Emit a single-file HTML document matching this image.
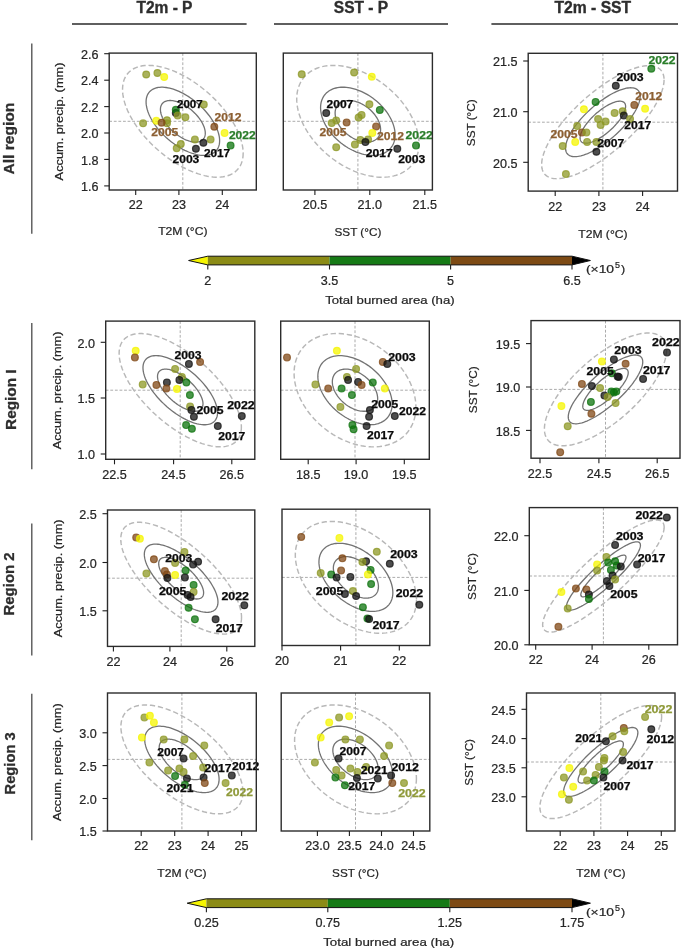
<!DOCTYPE html>
<html><head><meta charset="utf-8"><style>
html,body{margin:0;padding:0;background:#fff;}
svg{display:block;font-family:"Liberation Sans", sans-serif;filter:blur(0.3px);}
</style></head><body>
<svg width="685" height="951" viewBox="0 0 685 951">
<rect width="685" height="951" fill="#fff"/>
<text x="136.4" y="13.3" font-size="16" fill="#2e2e2e" font-weight="bold" textLength="56.1" lengthAdjust="spacingAndGlyphs" stroke="#2e2e2e" stroke-width="0.35">T2m - P</text>
<text x="333.8" y="13.3" font-size="16" fill="#2e2e2e" font-weight="bold" textLength="54.4" lengthAdjust="spacingAndGlyphs" stroke="#2e2e2e" stroke-width="0.35">SST - P</text>
<text x="554.4" y="13.3" font-size="16" fill="#2e2e2e" font-weight="bold" textLength="76.8" lengthAdjust="spacingAndGlyphs" stroke="#2e2e2e" stroke-width="0.35">T2m - SST</text>
<line x1="72.0" y1="24" x2="246.6" y2="24" stroke="#2a2a2a" stroke-width="1.3"/>
<line x1="274.0" y1="24" x2="448.0" y2="24" stroke="#2a2a2a" stroke-width="1.3"/>
<line x1="491.4" y1="24" x2="678.0" y2="24" stroke="#2a2a2a" stroke-width="1.3"/>
<text x="0" y="0" font-size="15.4" fill="#2e2e2e" font-weight="bold" textLength="72.0" lengthAdjust="spacingAndGlyphs" transform="translate(13.8,174.6) rotate(-90)" stroke="#2e2e2e" stroke-width="0.3">All region</text>
<text x="0" y="0" font-size="15.4" fill="#2e2e2e" font-weight="bold" textLength="60.4" lengthAdjust="spacingAndGlyphs" transform="translate(15.7,429.9) rotate(-90)" stroke="#2e2e2e" stroke-width="0.3">Region I</text>
<text x="0" y="0" font-size="15.4" fill="#2e2e2e" font-weight="bold" textLength="63.1" lengthAdjust="spacingAndGlyphs" transform="translate(13.9,615.5) rotate(-90)" stroke="#2e2e2e" stroke-width="0.3">Region 2</text>
<text x="0" y="0" font-size="15.4" fill="#2e2e2e" font-weight="bold" textLength="62.0" lengthAdjust="spacingAndGlyphs" transform="translate(15.4,794.4) rotate(-90)" stroke="#2e2e2e" stroke-width="0.3">Region 3</text>
<line x1="31.8" y1="43.4" x2="31.8" y2="233.7" stroke="#4a4a4a" stroke-width="1.3"/>
<line x1="31.8" y1="323.1" x2="31.8" y2="469.3" stroke="#4a4a4a" stroke-width="1.3"/>
<line x1="31.8" y1="523.6" x2="31.8" y2="655.6" stroke="#4a4a4a" stroke-width="1.3"/>
<line x1="31.8" y1="693.7" x2="31.8" y2="840.3" stroke="#4a4a4a" stroke-width="1.3"/>
<clipPath id="c11"><rect x="109.2" y="53.1" width="147.10" height="136.90"/></clipPath>
<g clip-path="url(#c11)">
<line x1="182.8" y1="53.1" x2="182.8" y2="190.0" stroke="#959595" stroke-width="0.8" stroke-dasharray="2.8,1.8"/>
<line x1="109.2" y1="121.3" x2="256.3" y2="121.3" stroke="#959595" stroke-width="0.8" stroke-dasharray="2.8,1.8"/>
<path d="M243.16,153.18 L243.08,155.54 L242.83,157.81 L242.42,159.97 L241.84,162.03 L241.11,163.98 L240.21,165.82 L239.16,167.53 L237.95,169.11 L236.59,170.56 L235.08,171.88 L233.43,173.06 L231.64,174.10 L229.72,174.99 L227.67,175.74 L225.50,176.33 L223.21,176.78 L220.80,177.07 L218.30,177.21 L215.70,177.20 L213.01,177.03 L210.23,176.71 L207.38,176.24 L204.46,175.62 L201.49,174.85 L198.46,173.93 L195.39,172.87 L192.28,171.67 L189.15,170.33 L186.01,168.85 L182.85,167.25 L179.69,165.52 L176.55,163.67 L173.42,161.70 L170.31,159.62 L167.24,157.43 L164.21,155.15 L161.24,152.77 L158.32,150.31 L155.47,147.77 L152.69,145.16 L150.00,142.48 L147.40,139.74 L144.90,136.95 L142.49,134.12 L140.20,131.25 L138.03,128.36 L135.98,125.44 L134.06,122.52 L132.27,119.59 L130.62,116.67 L129.11,113.76 L127.75,110.87 L126.54,108.01 L125.49,105.18 L124.59,102.40 L123.86,99.67 L123.28,97.00 L122.87,94.40 L122.62,91.87 L122.54,89.42 L122.62,87.06 L122.87,84.79 L123.28,82.63 L123.86,80.57 L124.59,78.62 L125.49,76.78 L126.54,75.07 L127.75,73.49 L129.11,72.04 L130.62,70.72 L132.27,69.54 L134.06,68.50 L135.98,67.61 L138.03,66.86 L140.20,66.27 L142.49,65.82 L144.90,65.53 L147.40,65.39 L150.00,65.40 L152.69,65.57 L155.47,65.89 L158.32,66.36 L161.24,66.98 L164.21,67.75 L167.24,68.67 L170.31,69.73 L173.42,70.93 L176.55,72.27 L179.69,73.75 L182.85,75.35 L186.01,77.08 L189.15,78.93 L192.28,80.90 L195.39,82.98 L198.46,85.17 L201.49,87.45 L204.46,89.83 L207.38,92.29 L210.23,94.83 L213.01,97.44 L215.70,100.12 L218.30,102.86 L220.80,105.65 L223.21,108.48 L225.50,111.35 L227.67,114.24 L229.72,117.16 L231.64,120.08 L233.43,123.01 L235.08,125.93 L236.59,128.84 L237.95,131.73 L239.16,134.59 L240.21,137.42 L241.11,140.20 L241.84,142.93 L242.42,145.60 L242.83,148.20 L243.08,150.73 L243.16,153.18Z" fill="none" stroke="#b8b8b8" stroke-width="1.45" stroke-dasharray="5.3,2.8"/>
<path d="M205.28,133.16 L205.25,134.03 L205.16,134.88 L205.01,135.68 L204.79,136.45 L204.52,137.18 L204.18,137.86 L203.79,138.49 L203.34,139.08 L202.84,139.62 L202.28,140.11 L201.66,140.55 L201.00,140.94 L200.28,141.27 L199.52,141.55 L198.71,141.77 L197.86,141.93 L196.97,142.04 L196.04,142.10 L195.07,142.09 L194.07,142.03 L193.03,141.91 L191.97,141.74 L190.89,141.50 L189.78,141.22 L188.66,140.88 L187.51,140.48 L186.36,140.04 L185.19,139.54 L184.02,138.99 L182.85,138.39 L181.68,137.75 L180.51,137.06 L179.34,136.33 L178.19,135.55 L177.04,134.74 L175.92,133.89 L174.81,133.01 L173.73,132.09 L172.67,131.15 L171.63,130.17 L170.63,129.18 L169.66,128.16 L168.73,127.12 L167.84,126.07 L166.99,125.00 L166.18,123.92 L165.42,122.84 L164.70,121.75 L164.04,120.66 L163.42,119.58 L162.86,118.49 L162.36,117.42 L161.91,116.36 L161.52,115.31 L161.18,114.27 L160.91,113.26 L160.69,112.26 L160.54,111.29 L160.45,110.35 L160.42,109.44 L160.45,108.57 L160.54,107.72 L160.69,106.92 L160.91,106.15 L161.18,105.42 L161.52,104.74 L161.91,104.11 L162.36,103.52 L162.86,102.98 L163.42,102.49 L164.04,102.05 L164.70,101.66 L165.42,101.33 L166.18,101.05 L166.99,100.83 L167.84,100.67 L168.73,100.56 L169.66,100.50 L170.63,100.51 L171.63,100.57 L172.67,100.69 L173.73,100.86 L174.81,101.10 L175.92,101.38 L177.04,101.72 L178.19,102.12 L179.34,102.56 L180.51,103.06 L181.68,103.61 L182.85,104.21 L184.02,104.85 L185.19,105.54 L186.36,106.27 L187.51,107.05 L188.66,107.86 L189.78,108.71 L190.89,109.59 L191.97,110.51 L193.03,111.45 L194.07,112.43 L195.07,113.42 L196.04,114.44 L196.97,115.48 L197.86,116.53 L198.71,117.60 L199.52,118.68 L200.28,119.76 L201.00,120.85 L201.66,121.94 L202.28,123.02 L202.84,124.11 L203.34,125.18 L203.79,126.24 L204.18,127.29 L204.52,128.33 L204.79,129.34 L205.01,130.34 L205.16,131.31 L205.25,132.25 L205.28,133.16Z" fill="none" stroke="#737373" stroke-width="1.3"/>
<path d="M219.62,140.74 L219.57,142.18 L219.42,143.56 L219.17,144.88 L218.82,146.14 L218.37,147.33 L217.83,148.44 L217.18,149.49 L216.45,150.45 L215.62,151.34 L214.70,152.14 L213.69,152.86 L212.60,153.49 L211.43,154.04 L210.18,154.49 L208.85,154.86 L207.46,155.13 L205.99,155.31 L204.47,155.39 L202.88,155.38 L201.24,155.28 L199.55,155.09 L197.81,154.80 L196.03,154.42 L194.21,153.95 L192.37,153.39 L190.50,152.75 L188.60,152.01 L186.69,151.20 L184.77,150.30 L182.85,149.32 L180.93,148.26 L179.01,147.13 L177.10,145.93 L175.20,144.66 L173.33,143.33 L171.49,141.94 L169.67,140.49 L167.89,138.99 L166.15,137.44 L164.46,135.85 L162.82,134.21 L161.23,132.54 L159.71,130.84 L158.24,129.12 L156.85,127.37 L155.52,125.60 L154.27,123.83 L153.10,122.04 L152.01,120.26 L151.00,118.48 L150.08,116.70 L149.25,114.94 L148.52,113.19 L147.87,111.47 L147.33,109.78 L146.88,108.11 L146.53,106.49 L146.28,104.90 L146.13,103.36 L146.07,101.86 L146.13,100.42 L146.28,99.04 L146.53,97.72 L146.88,96.46 L147.33,95.27 L147.87,94.16 L148.52,93.11 L149.25,92.15 L150.08,91.26 L151.00,90.46 L152.01,89.74 L153.10,89.11 L154.27,88.56 L155.52,88.11 L156.85,87.74 L158.24,87.47 L159.71,87.29 L161.23,87.21 L162.82,87.22 L164.46,87.32 L166.15,87.51 L167.89,87.80 L169.67,88.18 L171.49,88.65 L173.33,89.21 L175.20,89.85 L177.10,90.59 L179.01,91.40 L180.93,92.30 L182.85,93.28 L184.77,94.34 L186.69,95.47 L188.60,96.67 L190.50,97.94 L192.37,99.27 L194.21,100.66 L196.03,102.11 L197.81,103.61 L199.55,105.16 L201.24,106.75 L202.88,108.39 L204.47,110.06 L205.99,111.76 L207.46,113.48 L208.85,115.23 L210.18,117.00 L211.43,118.77 L212.60,120.56 L213.69,122.34 L214.70,124.12 L215.62,125.90 L216.45,127.66 L217.18,129.41 L217.83,131.13 L218.37,132.82 L218.82,134.49 L219.17,136.11 L219.42,137.70 L219.57,139.24 L219.62,140.74Z" fill="none" stroke="#737373" stroke-width="1.3"/>
<circle cx="146.2" cy="74.5" r="3.4" fill="#8e9826" fill-opacity="0.75" stroke="#8e9826" stroke-opacity="0.75" stroke-width="1.2"/>
<circle cx="157.4" cy="73.0" r="3.4" fill="#8e9826" fill-opacity="0.75" stroke="#8e9826" stroke-opacity="0.75" stroke-width="1.2"/>
<circle cx="164.2" cy="77.0" r="3.4" fill="#f6f600" fill-opacity="0.75" stroke="#f6f600" stroke-opacity="0.75" stroke-width="1.2"/>
<circle cx="203.8" cy="104.5" r="3.4" fill="#8e9826" fill-opacity="0.75" stroke="#8e9826" stroke-opacity="0.75" stroke-width="1.2"/>
<circle cx="175.8" cy="112.9" r="3.4" fill="#111111" fill-opacity="0.75" stroke="#111111" stroke-opacity="0.75" stroke-width="1.2"/>
<circle cx="175.8" cy="109.8" r="3.4" fill="#0c730c" fill-opacity="0.75" stroke="#0c730c" stroke-opacity="0.75" stroke-width="1.2"/>
<circle cx="177.7" cy="115.4" r="3.4" fill="#8e9826" fill-opacity="0.75" stroke="#8e9826" stroke-opacity="0.75" stroke-width="1.2"/>
<circle cx="185.4" cy="117.3" r="3.4" fill="#8e9826" fill-opacity="0.75" stroke="#8e9826" stroke-opacity="0.75" stroke-width="1.2"/>
<circle cx="143.1" cy="123.3" r="3.4" fill="#8e9826" fill-opacity="0.75" stroke="#8e9826" stroke-opacity="0.75" stroke-width="1.2"/>
<circle cx="156.3" cy="120.8" r="3.4" fill="#f6f600" fill-opacity="0.75" stroke="#f6f600" stroke-opacity="0.75" stroke-width="1.2"/>
<circle cx="167.0" cy="120.2" r="3.4" fill="#8e9826" fill-opacity="0.75" stroke="#8e9826" stroke-opacity="0.75" stroke-width="1.2"/>
<circle cx="167.0" cy="123.3" r="3.4" fill="#8e9826" fill-opacity="0.75" stroke="#8e9826" stroke-opacity="0.75" stroke-width="1.2"/>
<circle cx="161.6" cy="122.7" r="3.4" fill="#804816" fill-opacity="0.75" stroke="#804816" stroke-opacity="0.75" stroke-width="1.2"/>
<circle cx="214.3" cy="126.7" r="3.4" fill="#804816" fill-opacity="0.75" stroke="#804816" stroke-opacity="0.75" stroke-width="1.2"/>
<circle cx="224.6" cy="132.9" r="3.4" fill="#f6f600" fill-opacity="0.75" stroke="#f6f600" stroke-opacity="0.75" stroke-width="1.2"/>
<circle cx="194.9" cy="139.6" r="3.4" fill="#8e9826" fill-opacity="0.75" stroke="#8e9826" stroke-opacity="0.75" stroke-width="1.2"/>
<circle cx="210.6" cy="139.6" r="3.4" fill="#8e9826" fill-opacity="0.75" stroke="#8e9826" stroke-opacity="0.75" stroke-width="1.2"/>
<circle cx="203.4" cy="142.8" r="3.4" fill="#111111" fill-opacity="0.75" stroke="#111111" stroke-opacity="0.75" stroke-width="1.2"/>
<circle cx="195.9" cy="148.8" r="3.4" fill="#111111" fill-opacity="0.75" stroke="#111111" stroke-opacity="0.75" stroke-width="1.2"/>
<circle cx="180.8" cy="144.0" r="3.4" fill="#8e9826" fill-opacity="0.75" stroke="#8e9826" stroke-opacity="0.75" stroke-width="1.2"/>
<circle cx="176.7" cy="148.2" r="3.4" fill="#8e9826" fill-opacity="0.75" stroke="#8e9826" stroke-opacity="0.75" stroke-width="1.2"/>
<circle cx="230.6" cy="145.4" r="3.4" fill="#0c730c" fill-opacity="0.75" stroke="#0c730c" stroke-opacity="0.75" stroke-width="1.2"/>
</g>
<text x="177.0" y="107.6" font-size="10.2" fill="#0a0a0a" font-weight="bold" textLength="25.7" lengthAdjust="spacingAndGlyphs" stroke="#0a0a0a" stroke-width="0.25">2007</text>
<text x="214.4" y="120.6" font-size="10.2" fill="#8c5f32" font-weight="bold" textLength="27.0" lengthAdjust="spacingAndGlyphs" stroke="#8c5f32" stroke-width="0.25">2012</text>
<text x="151.3" y="136.3" font-size="10.2" fill="#8c5f32" font-weight="bold" textLength="27.0" lengthAdjust="spacingAndGlyphs" stroke="#8c5f32" stroke-width="0.25">2005</text>
<text x="228.9" y="139.1" font-size="10.2" fill="#2a7d2a" font-weight="bold" textLength="26.8" lengthAdjust="spacingAndGlyphs" stroke="#2a7d2a" stroke-width="0.25">2022</text>
<text x="203.9" y="156.8" font-size="10.2" fill="#0a0a0a" font-weight="bold" textLength="26.3" lengthAdjust="spacingAndGlyphs" stroke="#0a0a0a" stroke-width="0.25">2017</text>
<text x="172.5" y="163.0" font-size="10.2" fill="#0a0a0a" font-weight="bold" textLength="26.8" lengthAdjust="spacingAndGlyphs" stroke="#0a0a0a" stroke-width="0.25">2003</text>
<rect x="109.2" y="53.1" width="147.10" height="136.90" fill="none" stroke="#2c2c2c" stroke-width="1.4"/>
<line x1="135.7" y1="190.0" x2="135.7" y2="195.0" stroke="#1e1e1e" stroke-width="1.1"/>
<text x="135.7" y="209.4" font-size="12" fill="#262626" text-anchor="middle" textLength="14.0" lengthAdjust="spacingAndGlyphs" stroke="#262626" stroke-width="0.22">22</text>
<line x1="178.9" y1="190.0" x2="178.9" y2="195.0" stroke="#1e1e1e" stroke-width="1.1"/>
<text x="178.9" y="209.4" font-size="12" fill="#262626" text-anchor="middle" textLength="14.0" lengthAdjust="spacingAndGlyphs" stroke="#262626" stroke-width="0.22">23</text>
<line x1="222.3" y1="190.0" x2="222.3" y2="195.0" stroke="#1e1e1e" stroke-width="1.1"/>
<text x="222.3" y="209.4" font-size="12" fill="#262626" text-anchor="middle" textLength="14.0" lengthAdjust="spacingAndGlyphs" stroke="#262626" stroke-width="0.22">24</text>
<line x1="104.2" y1="53.7" x2="109.2" y2="53.7" stroke="#1e1e1e" stroke-width="1.1"/>
<text x="98.4" y="58.9" font-size="12" fill="#262626" text-anchor="end" textLength="17.5" lengthAdjust="spacingAndGlyphs" stroke="#262626" stroke-width="0.22">2.6</text>
<line x1="104.2" y1="80.2" x2="109.2" y2="80.2" stroke="#1e1e1e" stroke-width="1.1"/>
<text x="98.4" y="85.4" font-size="12" fill="#262626" text-anchor="end" textLength="17.5" lengthAdjust="spacingAndGlyphs" stroke="#262626" stroke-width="0.22">2.4</text>
<line x1="104.2" y1="106.6" x2="109.2" y2="106.6" stroke="#1e1e1e" stroke-width="1.1"/>
<text x="98.4" y="111.8" font-size="12" fill="#262626" text-anchor="end" textLength="17.5" lengthAdjust="spacingAndGlyphs" stroke="#262626" stroke-width="0.22">2.2</text>
<line x1="104.2" y1="133.0" x2="109.2" y2="133.0" stroke="#1e1e1e" stroke-width="1.1"/>
<text x="98.4" y="138.2" font-size="12" fill="#262626" text-anchor="end" textLength="17.5" lengthAdjust="spacingAndGlyphs" stroke="#262626" stroke-width="0.22">2.0</text>
<line x1="104.2" y1="159.4" x2="109.2" y2="159.4" stroke="#1e1e1e" stroke-width="1.1"/>
<text x="98.4" y="164.6" font-size="12" fill="#262626" text-anchor="end" textLength="17.5" lengthAdjust="spacingAndGlyphs" stroke="#262626" stroke-width="0.22">1.8</text>
<line x1="104.2" y1="185.9" x2="109.2" y2="185.9" stroke="#1e1e1e" stroke-width="1.1"/>
<text x="98.4" y="191.1" font-size="12" fill="#262626" text-anchor="end" textLength="17.5" lengthAdjust="spacingAndGlyphs" stroke="#262626" stroke-width="0.22">1.6</text>
<text x="182.8" y="235.4" font-size="11.2" fill="#262626" text-anchor="middle" textLength="49.3" lengthAdjust="spacingAndGlyphs" stroke="#262626" stroke-width="0.22">T2M (°C)</text>
<text x="0" y="0" font-size="11.2" fill="#262626" text-anchor="middle" textLength="117.8" lengthAdjust="spacingAndGlyphs" transform="translate(62.6,121.5) rotate(-90)" stroke="#262626" stroke-width="0.22">Accum. precip. (mm)</text>
<clipPath id="c12"><rect x="283.3" y="53.1" width="149.10" height="136.90"/></clipPath>
<g clip-path="url(#c12)">
<line x1="357.9" y1="53.1" x2="357.9" y2="190.0" stroke="#959595" stroke-width="0.8" stroke-dasharray="2.8,1.8"/>
<line x1="283.3" y1="121.3" x2="432.4" y2="121.3" stroke="#959595" stroke-width="0.8" stroke-dasharray="2.8,1.8"/>
<path d="M418.98,143.67 L418.90,146.32 L418.65,148.90 L418.23,151.41 L417.65,153.84 L416.90,156.17 L415.99,158.41 L414.92,160.55 L413.70,162.58 L412.32,164.50 L410.79,166.30 L409.12,167.98 L407.31,169.52 L405.36,170.94 L403.28,172.22 L401.08,173.36 L398.75,174.36 L396.32,175.21 L393.78,175.91 L391.14,176.47 L388.42,176.87 L385.60,177.12 L382.71,177.22 L379.76,177.17 L376.74,176.96 L373.67,176.60 L370.56,176.09 L367.41,175.42 L364.24,174.61 L361.05,173.66 L357.85,172.56 L354.65,171.31 L351.46,169.94 L348.29,168.42 L345.14,166.78 L342.03,165.02 L338.96,163.13 L335.94,161.13 L332.99,159.03 L330.10,156.81 L327.28,154.50 L324.56,152.10 L321.92,149.62 L319.38,147.06 L316.95,144.42 L314.62,141.73 L312.42,138.97 L310.34,136.17 L308.39,133.33 L306.58,130.45 L304.91,127.55 L303.38,124.64 L302.00,121.71 L300.78,118.78 L299.71,115.86 L298.80,112.96 L298.05,110.08 L297.47,107.22 L297.05,104.41 L296.80,101.64 L296.72,98.93 L296.80,96.28 L297.05,93.70 L297.47,91.19 L298.05,88.76 L298.80,86.43 L299.71,84.19 L300.78,82.05 L302.00,80.02 L303.38,78.10 L304.91,76.30 L306.58,74.62 L308.39,73.08 L310.34,71.66 L312.42,70.38 L314.62,69.24 L316.95,68.24 L319.38,67.39 L321.92,66.69 L324.56,66.13 L327.28,65.73 L330.10,65.48 L332.99,65.38 L335.94,65.43 L338.96,65.64 L342.03,66.00 L345.14,66.51 L348.29,67.18 L351.46,67.99 L354.65,68.94 L357.85,70.04 L361.05,71.29 L364.24,72.66 L367.41,74.18 L370.56,75.82 L373.67,77.58 L376.74,79.47 L379.76,81.47 L382.71,83.57 L385.60,85.79 L388.42,88.10 L391.14,90.50 L393.78,92.98 L396.32,95.54 L398.75,98.18 L401.08,100.87 L403.28,103.63 L405.36,106.43 L407.31,109.27 L409.12,112.15 L410.79,115.05 L412.32,117.96 L413.70,120.89 L414.92,123.82 L415.99,126.74 L416.90,129.64 L417.65,132.52 L418.23,135.38 L418.65,138.19 L418.90,140.96 L418.98,143.67Z" fill="none" stroke="#b8b8b8" stroke-width="1.45" stroke-dasharray="5.3,2.8"/>
<path d="M380.59,129.62 L380.56,130.61 L380.46,131.57 L380.31,132.50 L380.09,133.40 L379.81,134.27 L379.47,135.10 L379.08,135.90 L378.62,136.66 L378.11,137.37 L377.54,138.04 L376.92,138.66 L376.25,139.24 L375.52,139.76 L374.75,140.24 L373.93,140.66 L373.06,141.04 L372.16,141.35 L371.21,141.61 L370.23,141.82 L369.22,141.97 L368.17,142.06 L367.10,142.10 L366.00,142.08 L364.88,142.00 L363.73,141.87 L362.58,141.68 L361.41,141.43 L360.23,141.13 L359.04,140.77 L357.85,140.36 L356.66,139.90 L355.47,139.39 L354.29,138.83 L353.12,138.22 L351.97,137.56 L350.82,136.86 L349.70,136.12 L348.60,135.33 L347.53,134.51 L346.48,133.65 L345.47,132.76 L344.49,131.83 L343.54,130.88 L342.64,129.90 L341.77,128.90 L340.95,127.87 L340.18,126.83 L339.45,125.77 L338.78,124.71 L338.16,123.63 L337.59,122.54 L337.08,121.45 L336.62,120.36 L336.23,119.28 L335.89,118.20 L335.61,117.13 L335.39,116.06 L335.24,115.02 L335.14,113.99 L335.11,112.98 L335.14,111.99 L335.24,111.03 L335.39,110.10 L335.61,109.20 L335.89,108.33 L336.23,107.50 L336.62,106.70 L337.08,105.94 L337.59,105.23 L338.16,104.56 L338.78,103.94 L339.45,103.36 L340.18,102.84 L340.95,102.36 L341.77,101.94 L342.64,101.56 L343.54,101.25 L344.49,100.99 L345.47,100.78 L346.48,100.63 L347.53,100.54 L348.60,100.50 L349.70,100.52 L350.82,100.60 L351.97,100.73 L353.12,100.92 L354.29,101.17 L355.47,101.47 L356.66,101.83 L357.85,102.24 L359.04,102.70 L360.23,103.21 L361.41,103.77 L362.58,104.38 L363.73,105.04 L364.88,105.74 L366.00,106.48 L367.10,107.27 L368.17,108.09 L369.22,108.95 L370.23,109.84 L371.21,110.77 L372.16,111.72 L373.06,112.70 L373.93,113.70 L374.75,114.73 L375.52,115.77 L376.25,116.83 L376.92,117.89 L377.54,118.97 L378.11,120.06 L378.62,121.15 L379.08,122.24 L379.47,123.32 L379.81,124.40 L380.09,125.47 L380.31,126.54 L380.46,127.58 L380.56,128.61 L380.59,129.62Z" fill="none" stroke="#737373" stroke-width="1.3"/>
<path d="M395.12,134.94 L395.07,136.56 L394.92,138.13 L394.67,139.66 L394.31,141.14 L393.85,142.56 L393.30,143.93 L392.65,145.23 L391.90,146.47 L391.06,147.64 L390.13,148.74 L389.11,149.76 L388.01,150.71 L386.82,151.57 L385.55,152.35 L384.21,153.04 L382.79,153.65 L381.31,154.17 L379.76,154.60 L378.15,154.94 L376.49,155.19 L374.77,155.34 L373.01,155.40 L371.21,155.37 L369.37,155.24 L367.50,155.02 L365.60,154.71 L363.68,154.30 L361.75,153.81 L359.80,153.22 L357.85,152.55 L355.90,151.80 L353.95,150.96 L352.02,150.03 L350.10,149.03 L348.20,147.96 L346.33,146.81 L344.49,145.59 L342.69,144.30 L340.93,142.95 L339.21,141.55 L337.55,140.08 L335.94,138.57 L334.39,137.00 L332.91,135.40 L331.49,133.75 L330.15,132.08 L328.88,130.37 L327.69,128.64 L326.59,126.88 L325.57,125.11 L324.64,123.34 L323.80,121.55 L323.05,119.77 L322.40,117.99 L321.85,116.21 L321.39,114.46 L321.03,112.72 L320.78,111.00 L320.63,109.31 L320.58,107.66 L320.63,106.04 L320.78,104.47 L321.03,102.94 L321.39,101.46 L321.85,100.04 L322.40,98.67 L323.05,97.37 L323.80,96.13 L324.64,94.96 L325.57,93.86 L326.59,92.84 L327.69,91.89 L328.88,91.03 L330.15,90.25 L331.49,89.56 L332.91,88.95 L334.39,88.43 L335.94,88.00 L337.55,87.66 L339.21,87.41 L340.93,87.26 L342.69,87.20 L344.49,87.23 L346.33,87.36 L348.20,87.58 L350.10,87.89 L352.02,88.30 L353.95,88.79 L355.90,89.38 L357.85,90.05 L359.80,90.80 L361.75,91.64 L363.68,92.57 L365.60,93.57 L367.50,94.64 L369.37,95.79 L371.21,97.01 L373.01,98.30 L374.77,99.65 L376.49,101.05 L378.15,102.52 L379.76,104.03 L381.31,105.60 L382.79,107.20 L384.21,108.85 L385.55,110.52 L386.82,112.23 L388.01,113.96 L389.11,115.72 L390.13,117.49 L391.06,119.26 L391.90,121.05 L392.65,122.83 L393.30,124.61 L393.85,126.39 L394.31,128.14 L394.67,129.88 L394.92,131.60 L395.07,133.29 L395.12,134.94Z" fill="none" stroke="#737373" stroke-width="1.3"/>
<circle cx="301.7" cy="74.2" r="3.4" fill="#8e9826" fill-opacity="0.75" stroke="#8e9826" stroke-opacity="0.75" stroke-width="1.2"/>
<circle cx="354.1" cy="72.5" r="3.4" fill="#8e9826" fill-opacity="0.75" stroke="#8e9826" stroke-opacity="0.75" stroke-width="1.2"/>
<circle cx="371.8" cy="76.7" r="3.4" fill="#f6f600" fill-opacity="0.75" stroke="#f6f600" stroke-opacity="0.75" stroke-width="1.2"/>
<circle cx="369.4" cy="104.2" r="3.4" fill="#8e9826" fill-opacity="0.75" stroke="#8e9826" stroke-opacity="0.75" stroke-width="1.2"/>
<circle cx="379.8" cy="109.9" r="3.4" fill="#0c730c" fill-opacity="0.75" stroke="#0c730c" stroke-opacity="0.75" stroke-width="1.2"/>
<circle cx="326.2" cy="113.1" r="3.4" fill="#111111" fill-opacity="0.75" stroke="#111111" stroke-opacity="0.75" stroke-width="1.2"/>
<circle cx="361.6" cy="114.9" r="3.4" fill="#8e9826" fill-opacity="0.75" stroke="#8e9826" stroke-opacity="0.75" stroke-width="1.2"/>
<circle cx="358.6" cy="117.4" r="3.4" fill="#8e9826" fill-opacity="0.75" stroke="#8e9826" stroke-opacity="0.75" stroke-width="1.2"/>
<circle cx="336.2" cy="120.4" r="3.4" fill="#8e9826" fill-opacity="0.75" stroke="#8e9826" stroke-opacity="0.75" stroke-width="1.2"/>
<circle cx="331.7" cy="123.1" r="3.4" fill="#8e9826" fill-opacity="0.75" stroke="#8e9826" stroke-opacity="0.75" stroke-width="1.2"/>
<circle cx="346.6" cy="122.4" r="3.4" fill="#804816" fill-opacity="0.75" stroke="#804816" stroke-opacity="0.75" stroke-width="1.2"/>
<circle cx="376.1" cy="126.6" r="3.4" fill="#804816" fill-opacity="0.75" stroke="#804816" stroke-opacity="0.75" stroke-width="1.2"/>
<circle cx="372.3" cy="132.9" r="3.4" fill="#f6f600" fill-opacity="0.75" stroke="#f6f600" stroke-opacity="0.75" stroke-width="1.2"/>
<circle cx="360.4" cy="139.9" r="3.4" fill="#8e9826" fill-opacity="0.75" stroke="#8e9826" stroke-opacity="0.75" stroke-width="1.2"/>
<circle cx="368.1" cy="139.4" r="3.4" fill="#8e9826" fill-opacity="0.75" stroke="#8e9826" stroke-opacity="0.75" stroke-width="1.2"/>
<circle cx="365.4" cy="142.1" r="3.4" fill="#111111" fill-opacity="0.75" stroke="#111111" stroke-opacity="0.75" stroke-width="1.2"/>
<circle cx="354.9" cy="144.4" r="3.4" fill="#8e9826" fill-opacity="0.75" stroke="#8e9826" stroke-opacity="0.75" stroke-width="1.2"/>
<circle cx="336.2" cy="147.3" r="3.4" fill="#8e9826" fill-opacity="0.75" stroke="#8e9826" stroke-opacity="0.75" stroke-width="1.2"/>
<circle cx="397.3" cy="148.8" r="3.4" fill="#111111" fill-opacity="0.75" stroke="#111111" stroke-opacity="0.75" stroke-width="1.2"/>
<circle cx="416.0" cy="145.4" r="3.4" fill="#0c730c" fill-opacity="0.75" stroke="#0c730c" stroke-opacity="0.75" stroke-width="1.2"/>
</g>
<text x="326.5" y="107.9" font-size="10.2" fill="#0a0a0a" font-weight="bold" textLength="26.8" lengthAdjust="spacingAndGlyphs" stroke="#0a0a0a" stroke-width="0.25">2007</text>
<text x="319.5" y="136.1" font-size="10.2" fill="#8c5f32" font-weight="bold" textLength="27.0" lengthAdjust="spacingAndGlyphs" stroke="#8c5f32" stroke-width="0.25">2005</text>
<text x="376.9" y="140.3" font-size="10.2" fill="#8c5f32" font-weight="bold" textLength="27.0" lengthAdjust="spacingAndGlyphs" stroke="#8c5f32" stroke-width="0.25">2012</text>
<text x="405.6" y="139.1" font-size="10.2" fill="#2a7d2a" font-weight="bold" textLength="27.1" lengthAdjust="spacingAndGlyphs" stroke="#2a7d2a" stroke-width="0.25">2022</text>
<text x="365.7" y="156.5" font-size="10.2" fill="#0a0a0a" font-weight="bold" textLength="27.0" lengthAdjust="spacingAndGlyphs" stroke="#0a0a0a" stroke-width="0.25">2017</text>
<text x="398.2" y="163.0" font-size="10.2" fill="#0a0a0a" font-weight="bold" textLength="27.0" lengthAdjust="spacingAndGlyphs" stroke="#0a0a0a" stroke-width="0.25">2003</text>
<rect x="283.3" y="53.1" width="149.10" height="136.90" fill="none" stroke="#2c2c2c" stroke-width="1.4"/>
<line x1="314.9" y1="190.0" x2="314.9" y2="195.0" stroke="#1e1e1e" stroke-width="1.1"/>
<text x="314.9" y="209.4" font-size="12" fill="#262626" text-anchor="middle" textLength="24.5" lengthAdjust="spacingAndGlyphs" stroke="#262626" stroke-width="0.22">20.5</text>
<line x1="369.8" y1="190.0" x2="369.8" y2="195.0" stroke="#1e1e1e" stroke-width="1.1"/>
<text x="369.8" y="209.4" font-size="12" fill="#262626" text-anchor="middle" textLength="24.5" lengthAdjust="spacingAndGlyphs" stroke="#262626" stroke-width="0.22">21.0</text>
<line x1="424.8" y1="190.0" x2="424.8" y2="195.0" stroke="#1e1e1e" stroke-width="1.1"/>
<text x="424.8" y="209.4" font-size="12" fill="#262626" text-anchor="middle" textLength="24.5" lengthAdjust="spacingAndGlyphs" stroke="#262626" stroke-width="0.22">21.5</text>
<text x="357.9" y="235.9" font-size="11.2" fill="#262626" text-anchor="middle" textLength="46.8" lengthAdjust="spacingAndGlyphs" stroke="#262626" stroke-width="0.22">SST (°C)</text>
<clipPath id="c13"><rect x="528.2" y="53.3" width="149.30" height="137.80"/></clipPath>
<g clip-path="url(#c13)">
<line x1="602.9" y1="53.3" x2="602.9" y2="191.1" stroke="#959595" stroke-width="0.8" stroke-dasharray="2.8,1.8"/>
<line x1="528.2" y1="122.2" x2="677.5" y2="122.2" stroke="#959595" stroke-width="0.8" stroke-dasharray="2.8,1.8"/>
<path d="M664.06,79.83 L663.98,81.84 L663.73,83.96 L663.31,86.19 L662.73,88.52 L661.98,90.94 L661.07,93.45 L660.00,96.03 L658.77,98.69 L657.39,101.41 L655.86,104.19 L654.19,107.02 L652.37,109.88 L650.42,112.79 L648.34,115.72 L646.13,118.66 L643.81,121.62 L641.37,124.58 L638.83,127.53 L636.19,130.46 L633.46,133.38 L630.64,136.26 L627.75,139.10 L624.79,141.90 L621.77,144.65 L618.69,147.33 L615.58,149.94 L612.43,152.48 L609.25,154.94 L606.05,157.30 L602.85,159.57 L599.65,161.74 L596.45,163.79 L593.27,165.74 L590.12,167.56 L587.01,169.26 L583.93,170.84 L580.91,172.27 L577.95,173.57 L575.06,174.73 L572.24,175.75 L569.51,176.62 L566.87,177.34 L564.33,177.91 L561.89,178.32 L559.57,178.59 L557.36,178.70 L555.28,178.65 L553.33,178.45 L551.51,178.09 L549.84,177.58 L548.31,176.92 L546.93,176.11 L545.70,175.15 L544.63,174.05 L543.72,172.80 L542.97,171.42 L542.39,169.90 L541.97,168.25 L541.72,166.47 L541.64,164.57 L541.72,162.56 L541.97,160.44 L542.39,158.21 L542.97,155.88 L543.72,153.46 L544.63,150.95 L545.70,148.37 L546.93,145.71 L548.31,142.99 L549.84,140.21 L551.51,137.38 L553.33,134.52 L555.28,131.61 L557.36,128.68 L559.57,125.74 L561.89,122.78 L564.33,119.82 L566.87,116.87 L569.51,113.94 L572.24,111.02 L575.06,108.14 L577.95,105.30 L580.91,102.50 L583.93,99.75 L587.01,97.07 L590.12,94.46 L593.27,91.92 L596.45,89.46 L599.65,87.10 L602.85,84.83 L606.05,82.66 L609.25,80.61 L612.43,78.66 L615.58,76.84 L618.69,75.14 L621.77,73.56 L624.79,72.13 L627.75,70.83 L630.64,69.67 L633.46,68.65 L636.19,67.78 L638.83,67.06 L641.37,66.49 L643.81,66.08 L646.13,65.81 L648.34,65.70 L650.42,65.75 L652.37,65.95 L654.19,66.31 L655.86,66.82 L657.39,67.48 L658.77,68.29 L660.00,69.25 L661.07,70.35 L661.98,71.60 L662.73,72.98 L663.31,74.50 L663.73,76.15 L663.98,77.93 L664.06,79.83Z" fill="none" stroke="#b8b8b8" stroke-width="1.45" stroke-dasharray="5.3,2.8"/>
<path d="M625.62,106.44 L625.59,107.19 L625.49,107.98 L625.34,108.81 L625.12,109.67 L624.84,110.57 L624.50,111.51 L624.11,112.47 L623.65,113.46 L623.14,114.47 L622.57,115.50 L621.95,116.55 L621.27,117.62 L620.54,118.70 L619.77,119.79 L618.95,120.88 L618.08,121.98 L617.18,123.08 L616.23,124.18 L615.25,125.27 L614.23,126.36 L613.19,127.43 L612.11,128.49 L611.01,129.53 L609.89,130.55 L608.74,131.55 L607.58,132.52 L606.41,133.46 L605.23,134.38 L604.04,135.26 L602.85,136.10 L601.66,136.91 L600.47,137.67 L599.29,138.39 L598.12,139.07 L596.96,139.71 L595.81,140.29 L594.69,140.82 L593.59,141.31 L592.51,141.74 L591.47,142.12 L590.45,142.44 L589.47,142.71 L588.52,142.92 L587.62,143.08 L586.75,143.17 L585.93,143.21 L585.16,143.20 L584.43,143.12 L583.75,142.99 L583.13,142.80 L582.56,142.55 L582.05,142.25 L581.59,141.90 L581.20,141.48 L580.86,141.02 L580.58,140.51 L580.36,139.94 L580.21,139.33 L580.11,138.67 L580.08,137.96 L580.11,137.21 L580.21,136.42 L580.36,135.59 L580.58,134.73 L580.86,133.83 L581.20,132.89 L581.59,131.93 L582.05,130.94 L582.56,129.93 L583.13,128.90 L583.75,127.85 L584.43,126.78 L585.16,125.70 L585.93,124.61 L586.75,123.52 L587.62,122.42 L588.52,121.32 L589.47,120.22 L590.45,119.13 L591.47,118.04 L592.51,116.97 L593.59,115.91 L594.69,114.87 L595.81,113.85 L596.96,112.85 L598.12,111.88 L599.29,110.94 L600.47,110.02 L601.66,109.14 L602.85,108.30 L604.04,107.49 L605.23,106.73 L606.41,106.01 L607.58,105.33 L608.74,104.69 L609.89,104.11 L611.01,103.58 L612.11,103.09 L613.19,102.66 L614.23,102.28 L615.25,101.96 L616.23,101.69 L617.18,101.48 L618.08,101.32 L618.95,101.23 L619.77,101.19 L620.54,101.20 L621.27,101.28 L621.95,101.41 L622.57,101.60 L623.14,101.85 L623.65,102.15 L624.11,102.50 L624.50,102.92 L624.84,103.38 L625.12,103.89 L625.34,104.46 L625.49,105.07 L625.59,105.73 L625.62,106.44Z" fill="none" stroke="#737373" stroke-width="1.3"/>
<path d="M640.17,96.36 L640.12,97.59 L639.97,98.89 L639.72,100.25 L639.36,101.66 L638.90,103.14 L638.35,104.67 L637.70,106.24 L636.95,107.86 L636.11,109.52 L635.17,111.22 L634.15,112.94 L633.05,114.69 L631.86,116.46 L630.59,118.25 L629.24,120.04 L627.83,121.85 L626.34,123.65 L624.79,125.45 L623.18,127.24 L621.51,129.01 L619.80,130.77 L618.03,132.51 L616.23,134.21 L614.38,135.89 L612.51,137.52 L610.61,139.12 L608.69,140.66 L606.75,142.16 L604.80,143.60 L602.85,144.99 L600.90,146.31 L598.95,147.56 L597.01,148.75 L595.09,149.86 L593.19,150.90 L591.32,151.86 L589.47,152.73 L587.67,153.53 L585.90,154.23 L584.19,154.85 L582.52,155.38 L580.91,155.82 L579.36,156.17 L577.87,156.42 L576.46,156.58 L575.11,156.65 L573.84,156.62 L572.65,156.50 L571.55,156.28 L570.53,155.97 L569.59,155.57 L568.75,155.07 L568.00,154.49 L567.35,153.81 L566.80,153.05 L566.34,152.21 L565.98,151.28 L565.73,150.28 L565.58,149.19 L565.53,148.04 L565.58,146.81 L565.73,145.51 L565.98,144.15 L566.34,142.74 L566.80,141.26 L567.35,139.73 L568.00,138.16 L568.75,136.54 L569.59,134.88 L570.53,133.18 L571.55,131.46 L572.65,129.71 L573.84,127.94 L575.11,126.15 L576.46,124.36 L577.87,122.55 L579.36,120.75 L580.91,118.95 L582.52,117.16 L584.19,115.39 L585.90,113.63 L587.67,111.89 L589.47,110.19 L591.32,108.51 L593.19,106.88 L595.09,105.28 L597.01,103.74 L598.95,102.24 L600.90,100.80 L602.85,99.41 L604.80,98.09 L606.75,96.84 L608.69,95.65 L610.61,94.54 L612.51,93.50 L614.38,92.54 L616.23,91.67 L618.03,90.87 L619.80,90.17 L621.51,89.55 L623.18,89.02 L624.79,88.58 L626.34,88.23 L627.83,87.98 L629.24,87.82 L630.59,87.75 L631.86,87.78 L633.05,87.90 L634.15,88.12 L635.17,88.43 L636.11,88.83 L636.95,89.33 L637.70,89.91 L638.35,90.59 L638.90,91.35 L639.36,92.19 L639.72,93.12 L639.97,94.12 L640.12,95.21 L640.17,96.36Z" fill="none" stroke="#737373" stroke-width="1.3"/>
<circle cx="651.3" cy="68.7" r="3.4" fill="#0c730c" fill-opacity="0.75" stroke="#0c730c" stroke-opacity="0.75" stroke-width="1.2"/>
<circle cx="615.8" cy="85.7" r="3.4" fill="#111111" fill-opacity="0.75" stroke="#111111" stroke-opacity="0.75" stroke-width="1.2"/>
<circle cx="595.6" cy="101.9" r="3.4" fill="#0c730c" fill-opacity="0.75" stroke="#0c730c" stroke-opacity="0.75" stroke-width="1.2"/>
<circle cx="583.9" cy="109.2" r="3.4" fill="#f6f600" fill-opacity="0.75" stroke="#f6f600" stroke-opacity="0.75" stroke-width="1.2"/>
<circle cx="634.3" cy="104.9" r="3.4" fill="#804816" fill-opacity="0.75" stroke="#804816" stroke-opacity="0.75" stroke-width="1.2"/>
<circle cx="645.1" cy="108.7" r="3.4" fill="#f6f600" fill-opacity="0.75" stroke="#f6f600" stroke-opacity="0.75" stroke-width="1.2"/>
<circle cx="614.6" cy="112.9" r="3.4" fill="#8e9826" fill-opacity="0.75" stroke="#8e9826" stroke-opacity="0.75" stroke-width="1.2"/>
<circle cx="622.6" cy="111.2" r="3.4" fill="#8e9826" fill-opacity="0.75" stroke="#8e9826" stroke-opacity="0.75" stroke-width="1.2"/>
<circle cx="623.8" cy="115.6" r="3.4" fill="#111111" fill-opacity="0.75" stroke="#111111" stroke-opacity="0.75" stroke-width="1.2"/>
<circle cx="630.1" cy="119.1" r="3.4" fill="#8e9826" fill-opacity="0.75" stroke="#8e9826" stroke-opacity="0.75" stroke-width="1.2"/>
<circle cx="598.1" cy="119.1" r="3.4" fill="#8e9826" fill-opacity="0.75" stroke="#8e9826" stroke-opacity="0.75" stroke-width="1.2"/>
<circle cx="605.6" cy="121.6" r="3.4" fill="#8e9826" fill-opacity="0.75" stroke="#8e9826" stroke-opacity="0.75" stroke-width="1.2"/>
<circle cx="600.6" cy="124.9" r="3.4" fill="#8e9826" fill-opacity="0.75" stroke="#8e9826" stroke-opacity="0.75" stroke-width="1.2"/>
<circle cx="577.2" cy="126.1" r="3.4" fill="#8e9826" fill-opacity="0.75" stroke="#8e9826" stroke-opacity="0.75" stroke-width="1.2"/>
<circle cx="581.9" cy="132.4" r="3.4" fill="#804816" fill-opacity="0.75" stroke="#804816" stroke-opacity="0.75" stroke-width="1.2"/>
<circle cx="586.4" cy="132.4" r="3.4" fill="#8e9826" fill-opacity="0.75" stroke="#8e9826" stroke-opacity="0.75" stroke-width="1.2"/>
<circle cx="575.2" cy="141.9" r="3.4" fill="#f6f600" fill-opacity="0.75" stroke="#f6f600" stroke-opacity="0.75" stroke-width="1.2"/>
<circle cx="587.1" cy="141.9" r="3.4" fill="#8e9826" fill-opacity="0.75" stroke="#8e9826" stroke-opacity="0.75" stroke-width="1.2"/>
<circle cx="596.4" cy="141.9" r="3.4" fill="#8e9826" fill-opacity="0.75" stroke="#8e9826" stroke-opacity="0.75" stroke-width="1.2"/>
<circle cx="562.7" cy="146.1" r="3.4" fill="#8e9826" fill-opacity="0.75" stroke="#8e9826" stroke-opacity="0.75" stroke-width="1.2"/>
<circle cx="596.4" cy="151.8" r="3.4" fill="#111111" fill-opacity="0.75" stroke="#111111" stroke-opacity="0.75" stroke-width="1.2"/>
<circle cx="565.9" cy="174.1" r="3.4" fill="#8e9826" fill-opacity="0.75" stroke="#8e9826" stroke-opacity="0.75" stroke-width="1.2"/>
</g>
<text x="648.4" y="64.2" font-size="10.2" fill="#2a7d2a" font-weight="bold" textLength="27.0" lengthAdjust="spacingAndGlyphs" stroke="#2a7d2a" stroke-width="0.25">2022</text>
<text x="616.4" y="81.2" font-size="10.2" fill="#0a0a0a" font-weight="bold" textLength="27.3" lengthAdjust="spacingAndGlyphs" stroke="#0a0a0a" stroke-width="0.25">2003</text>
<text x="635.2" y="100.4" font-size="10.2" fill="#8c5f32" font-weight="bold" textLength="27.0" lengthAdjust="spacingAndGlyphs" stroke="#8c5f32" stroke-width="0.25">2012</text>
<text x="624.2" y="128.6" font-size="10.2" fill="#0a0a0a" font-weight="bold" textLength="27.0" lengthAdjust="spacingAndGlyphs" stroke="#0a0a0a" stroke-width="0.25">2017</text>
<text x="550.6" y="138.1" font-size="10.2" fill="#8c5f32" font-weight="bold" textLength="27.0" lengthAdjust="spacingAndGlyphs" stroke="#8c5f32" stroke-width="0.25">2005</text>
<text x="597.2" y="147.3" font-size="10.2" fill="#0a0a0a" font-weight="bold" textLength="27.0" lengthAdjust="spacingAndGlyphs" stroke="#0a0a0a" stroke-width="0.25">2007</text>
<rect x="528.2" y="53.3" width="149.30" height="137.80" fill="none" stroke="#2c2c2c" stroke-width="1.4"/>
<line x1="555.2" y1="191.1" x2="555.2" y2="196.1" stroke="#1e1e1e" stroke-width="1.1"/>
<text x="555.2" y="210.5" font-size="12" fill="#262626" text-anchor="middle" textLength="14.0" lengthAdjust="spacingAndGlyphs" stroke="#262626" stroke-width="0.22">22</text>
<line x1="598.9" y1="191.1" x2="598.9" y2="196.1" stroke="#1e1e1e" stroke-width="1.1"/>
<text x="598.9" y="210.5" font-size="12" fill="#262626" text-anchor="middle" textLength="14.0" lengthAdjust="spacingAndGlyphs" stroke="#262626" stroke-width="0.22">23</text>
<line x1="642.6" y1="191.1" x2="642.6" y2="196.1" stroke="#1e1e1e" stroke-width="1.1"/>
<text x="642.6" y="210.5" font-size="12" fill="#262626" text-anchor="middle" textLength="14.0" lengthAdjust="spacingAndGlyphs" stroke="#262626" stroke-width="0.22">24</text>
<line x1="523.2" y1="61.0" x2="528.2" y2="61.0" stroke="#1e1e1e" stroke-width="1.1"/>
<text x="517.4" y="66.2" font-size="12" fill="#262626" text-anchor="end" textLength="24.5" lengthAdjust="spacingAndGlyphs" stroke="#262626" stroke-width="0.22">21.5</text>
<line x1="523.2" y1="111.7" x2="528.2" y2="111.7" stroke="#1e1e1e" stroke-width="1.1"/>
<text x="517.4" y="116.9" font-size="12" fill="#262626" text-anchor="end" textLength="24.5" lengthAdjust="spacingAndGlyphs" stroke="#262626" stroke-width="0.22">21.0</text>
<line x1="523.2" y1="162.3" x2="528.2" y2="162.3" stroke="#1e1e1e" stroke-width="1.1"/>
<text x="517.4" y="167.5" font-size="12" fill="#262626" text-anchor="end" textLength="24.5" lengthAdjust="spacingAndGlyphs" stroke="#262626" stroke-width="0.22">20.5</text>
<text x="602.9" y="237.5" font-size="11.2" fill="#262626" text-anchor="middle" textLength="49.3" lengthAdjust="spacingAndGlyphs" stroke="#262626" stroke-width="0.22">T2M (°C)</text>
<text x="0" y="0" font-size="11.2" fill="#262626" text-anchor="middle" textLength="46.8" lengthAdjust="spacingAndGlyphs" transform="translate(475.0,122.8) rotate(-90)" stroke="#262626" stroke-width="0.22">SST (°C)</text>
<clipPath id="c21"><rect x="105.7" y="321.1" width="149.10" height="138.20"/></clipPath>
<g clip-path="url(#c21)">
<line x1="180.2" y1="321.1" x2="180.2" y2="459.3" stroke="#959595" stroke-width="0.8" stroke-dasharray="2.8,1.8"/>
<line x1="105.7" y1="390.2" x2="254.8" y2="390.2" stroke="#959595" stroke-width="0.8" stroke-dasharray="2.8,1.8"/>
<path d="M241.38,427.03 L241.30,429.23 L241.05,431.33 L240.63,433.31 L240.05,435.18 L239.30,436.92 L238.39,438.53 L237.32,440.02 L236.10,441.36 L234.72,442.56 L233.19,443.63 L231.52,444.54 L229.71,445.31 L227.76,445.92 L225.68,446.38 L223.48,446.69 L221.15,446.84 L218.72,446.84 L216.18,446.68 L213.54,446.37 L210.82,445.91 L208.00,445.29 L205.11,444.52 L202.16,443.60 L199.14,442.53 L196.07,441.32 L192.96,439.98 L189.81,438.49 L186.64,436.87 L183.45,435.13 L180.25,433.26 L177.05,431.27 L173.86,429.17 L170.69,426.97 L167.54,424.66 L164.43,422.26 L161.36,419.77 L158.34,417.20 L155.39,414.56 L152.50,411.85 L149.68,409.08 L146.96,406.25 L144.32,403.39 L141.78,400.49 L139.35,397.56 L137.02,394.60 L134.82,391.64 L132.74,388.68 L130.79,385.71 L128.98,382.76 L127.31,379.83 L125.78,376.93 L124.40,374.07 L123.18,371.25 L122.11,368.48 L121.20,365.77 L120.45,363.13 L119.87,360.56 L119.45,358.07 L119.20,355.67 L119.12,353.37 L119.20,351.17 L119.45,349.07 L119.87,347.09 L120.45,345.22 L121.20,343.48 L122.11,341.87 L123.18,340.38 L124.40,339.04 L125.78,337.84 L127.31,336.77 L128.98,335.86 L130.79,335.09 L132.74,334.48 L134.82,334.02 L137.02,333.71 L139.35,333.56 L141.78,333.56 L144.32,333.72 L146.96,334.03 L149.68,334.49 L152.50,335.11 L155.39,335.88 L158.34,336.80 L161.36,337.87 L164.43,339.08 L167.54,340.42 L170.69,341.91 L173.86,343.53 L177.05,345.27 L180.25,347.14 L183.45,349.13 L186.64,351.23 L189.81,353.43 L192.96,355.74 L196.07,358.14 L199.14,360.63 L202.16,363.20 L205.11,365.84 L208.00,368.55 L210.82,371.32 L213.54,374.15 L216.18,377.01 L218.72,379.91 L221.15,382.84 L223.48,385.80 L225.68,388.76 L227.76,391.72 L229.71,394.69 L231.52,397.64 L233.19,400.57 L234.72,403.47 L236.10,406.33 L237.32,409.15 L238.39,411.92 L239.30,414.63 L240.05,417.27 L240.63,419.84 L241.05,422.33 L241.30,424.73 L241.38,427.03Z" fill="none" stroke="#b8b8b8" stroke-width="1.45" stroke-dasharray="5.3,2.8"/>
<path d="M202.99,403.90 L202.96,404.72 L202.86,405.50 L202.71,406.24 L202.49,406.93 L202.21,407.58 L201.87,408.18 L201.48,408.73 L201.02,409.23 L200.51,409.68 L199.94,410.07 L199.32,410.41 L198.65,410.70 L197.92,410.93 L197.15,411.10 L196.33,411.21 L195.46,411.27 L194.56,411.27 L193.61,411.21 L192.63,411.09 L191.62,410.92 L190.57,410.69 L189.50,410.40 L188.40,410.06 L187.28,409.67 L186.13,409.22 L184.98,408.71 L183.81,408.16 L182.63,407.56 L181.44,406.91 L180.25,406.22 L179.06,405.48 L177.87,404.70 L176.69,403.88 L175.52,403.02 L174.37,402.12 L173.22,401.20 L172.10,400.24 L171.00,399.26 L169.93,398.25 L168.88,397.22 L167.87,396.17 L166.89,395.11 L165.94,394.03 L165.04,392.94 L164.17,391.84 L163.35,390.74 L162.58,389.63 L161.85,388.53 L161.18,387.43 L160.56,386.34 L159.99,385.27 L159.48,384.20 L159.02,383.15 L158.63,382.12 L158.29,381.11 L158.01,380.13 L157.79,379.18 L157.64,378.25 L157.54,377.36 L157.51,376.50 L157.54,375.68 L157.64,374.90 L157.79,374.16 L158.01,373.47 L158.29,372.82 L158.63,372.22 L159.02,371.67 L159.48,371.17 L159.99,370.72 L160.56,370.33 L161.18,369.99 L161.85,369.70 L162.58,369.47 L163.35,369.30 L164.17,369.19 L165.04,369.13 L165.94,369.13 L166.89,369.19 L167.87,369.31 L168.88,369.48 L169.93,369.71 L171.00,370.00 L172.10,370.34 L173.22,370.73 L174.37,371.18 L175.52,371.69 L176.69,372.24 L177.87,372.84 L179.06,373.49 L180.25,374.18 L181.44,374.92 L182.63,375.70 L183.81,376.52 L184.98,377.38 L186.13,378.28 L187.28,379.20 L188.40,380.16 L189.50,381.14 L190.57,382.15 L191.62,383.18 L192.63,384.23 L193.61,385.29 L194.56,386.37 L195.46,387.46 L196.33,388.56 L197.15,389.66 L197.92,390.77 L198.65,391.87 L199.32,392.97 L199.94,394.06 L200.51,395.13 L201.02,396.20 L201.48,397.25 L201.87,398.28 L202.21,399.29 L202.49,400.27 L202.71,401.22 L202.86,402.15 L202.96,403.04 L202.99,403.90Z" fill="none" stroke="#737373" stroke-width="1.3"/>
<path d="M217.53,412.66 L217.47,414.00 L217.32,415.28 L217.07,416.49 L216.71,417.63 L216.25,418.69 L215.70,419.67 L215.05,420.58 L214.30,421.40 L213.46,422.13 L212.53,422.78 L211.51,423.33 L210.41,423.80 L209.22,424.18 L207.95,424.46 L206.61,424.65 L205.19,424.74 L203.71,424.74 L202.16,424.64 L200.55,424.45 L198.89,424.17 L197.17,423.79 L195.41,423.32 L193.61,422.76 L191.77,422.11 L189.90,421.37 L188.00,420.55 L186.08,419.65 L184.15,418.66 L182.20,417.60 L180.25,416.46 L178.30,415.24 L176.35,413.96 L174.42,412.62 L172.50,411.21 L170.60,409.75 L168.73,408.23 L166.89,406.66 L165.09,405.05 L163.33,403.40 L161.61,401.71 L159.95,399.99 L158.34,398.24 L156.79,396.47 L155.31,394.68 L153.89,392.89 L152.55,391.08 L151.28,389.27 L150.09,387.46 L148.99,385.67 L147.97,383.88 L147.04,382.11 L146.20,380.36 L145.45,378.64 L144.80,376.96 L144.25,375.30 L143.79,373.69 L143.43,372.13 L143.18,370.61 L143.03,369.15 L142.97,367.74 L143.03,366.40 L143.18,365.12 L143.43,363.91 L143.79,362.77 L144.25,361.71 L144.80,360.73 L145.45,359.82 L146.20,359.00 L147.04,358.27 L147.97,357.62 L148.99,357.07 L150.09,356.60 L151.28,356.22 L152.55,355.94 L153.89,355.75 L155.31,355.66 L156.79,355.66 L158.34,355.76 L159.95,355.95 L161.61,356.23 L163.33,356.61 L165.09,357.08 L166.89,357.64 L168.73,358.29 L170.60,359.03 L172.50,359.85 L174.42,360.75 L176.35,361.74 L178.30,362.80 L180.25,363.94 L182.20,365.16 L184.15,366.44 L186.08,367.78 L188.00,369.19 L189.90,370.65 L191.77,372.17 L193.61,373.74 L195.41,375.35 L197.17,377.00 L198.89,378.69 L200.55,380.41 L202.16,382.16 L203.71,383.93 L205.19,385.72 L206.61,387.51 L207.95,389.32 L209.22,391.13 L210.41,392.94 L211.51,394.73 L212.53,396.52 L213.46,398.29 L214.30,400.04 L215.05,401.76 L215.70,403.44 L216.25,405.10 L216.71,406.71 L217.07,408.27 L217.32,409.79 L217.47,411.25 L217.53,412.66Z" fill="none" stroke="#737373" stroke-width="1.3"/>
<circle cx="135.7" cy="350.7" r="3.4" fill="#f6f600" fill-opacity="0.75" stroke="#f6f600" stroke-opacity="0.75" stroke-width="1.2"/>
<circle cx="134.9" cy="357.4" r="3.4" fill="#804816" fill-opacity="0.75" stroke="#804816" stroke-opacity="0.75" stroke-width="1.2"/>
<circle cx="188.9" cy="363.9" r="3.4" fill="#111111" fill-opacity="0.75" stroke="#111111" stroke-opacity="0.75" stroke-width="1.2"/>
<circle cx="200.1" cy="361.9" r="3.4" fill="#804816" fill-opacity="0.75" stroke="#804816" stroke-opacity="0.75" stroke-width="1.2"/>
<circle cx="175.1" cy="368.9" r="3.4" fill="#8e9826" fill-opacity="0.75" stroke="#8e9826" stroke-opacity="0.75" stroke-width="1.2"/>
<circle cx="181.9" cy="376.9" r="3.4" fill="#8e9826" fill-opacity="0.75" stroke="#8e9826" stroke-opacity="0.75" stroke-width="1.2"/>
<circle cx="179.4" cy="379.9" r="3.4" fill="#111111" fill-opacity="0.75" stroke="#111111" stroke-opacity="0.75" stroke-width="1.2"/>
<circle cx="166.9" cy="382.4" r="3.4" fill="#111111" fill-opacity="0.75" stroke="#111111" stroke-opacity="0.75" stroke-width="1.2"/>
<circle cx="186.4" cy="382.6" r="3.4" fill="#0c730c" fill-opacity="0.75" stroke="#0c730c" stroke-opacity="0.75" stroke-width="1.2"/>
<circle cx="142.7" cy="384.4" r="3.4" fill="#8e9826" fill-opacity="0.75" stroke="#8e9826" stroke-opacity="0.75" stroke-width="1.2"/>
<circle cx="156.4" cy="384.9" r="3.4" fill="#804816" fill-opacity="0.75" stroke="#804816" stroke-opacity="0.75" stroke-width="1.2"/>
<circle cx="166.4" cy="388.6" r="3.4" fill="#804816" fill-opacity="0.75" stroke="#804816" stroke-opacity="0.75" stroke-width="1.2"/>
<circle cx="176.9" cy="388.9" r="3.4" fill="#f6f600" fill-opacity="0.75" stroke="#f6f600" stroke-opacity="0.75" stroke-width="1.2"/>
<circle cx="189.9" cy="395.1" r="3.4" fill="#0c730c" fill-opacity="0.75" stroke="#0c730c" stroke-opacity="0.75" stroke-width="1.2"/>
<circle cx="190.1" cy="406.4" r="3.4" fill="#8e9826" fill-opacity="0.75" stroke="#8e9826" stroke-opacity="0.75" stroke-width="1.2"/>
<circle cx="191.4" cy="409.9" r="3.4" fill="#111111" fill-opacity="0.75" stroke="#111111" stroke-opacity="0.75" stroke-width="1.2"/>
<circle cx="193.9" cy="416.8" r="3.4" fill="#111111" fill-opacity="0.75" stroke="#111111" stroke-opacity="0.75" stroke-width="1.2"/>
<circle cx="241.8" cy="416.1" r="3.4" fill="#111111" fill-opacity="0.75" stroke="#111111" stroke-opacity="0.75" stroke-width="1.2"/>
<circle cx="186.1" cy="425.1" r="3.4" fill="#0c730c" fill-opacity="0.75" stroke="#0c730c" stroke-opacity="0.75" stroke-width="1.2"/>
<circle cx="217.8" cy="426.1" r="3.4" fill="#111111" fill-opacity="0.75" stroke="#111111" stroke-opacity="0.75" stroke-width="1.2"/>
<circle cx="191.9" cy="428.8" r="3.4" fill="#0c730c" fill-opacity="0.75" stroke="#0c730c" stroke-opacity="0.75" stroke-width="1.2"/>
</g>
<text x="174.5" y="358.6" font-size="10.2" fill="#0a0a0a" font-weight="bold" textLength="27.0" lengthAdjust="spacingAndGlyphs" stroke="#0a0a0a" stroke-width="0.25">2003</text>
<text x="196.4" y="414.3" font-size="10.2" fill="#0a0a0a" font-weight="bold" textLength="27.1" lengthAdjust="spacingAndGlyphs" stroke="#0a0a0a" stroke-width="0.25">2005</text>
<text x="227.2" y="408.8" font-size="10.2" fill="#0a0a0a" font-weight="bold" textLength="27.5" lengthAdjust="spacingAndGlyphs" stroke="#0a0a0a" stroke-width="0.25">2022</text>
<text x="218.2" y="439.8" font-size="10.2" fill="#0a0a0a" font-weight="bold" textLength="27.0" lengthAdjust="spacingAndGlyphs" stroke="#0a0a0a" stroke-width="0.25">2017</text>
<rect x="105.7" y="321.1" width="149.10" height="138.20" fill="none" stroke="#2c2c2c" stroke-width="1.4"/>
<line x1="114.5" y1="459.3" x2="114.5" y2="464.3" stroke="#1e1e1e" stroke-width="1.1"/>
<text x="114.5" y="478.7" font-size="12" fill="#262626" text-anchor="middle" textLength="24.5" lengthAdjust="spacingAndGlyphs" stroke="#262626" stroke-width="0.22">22.5</text>
<line x1="173.6" y1="459.3" x2="173.6" y2="464.3" stroke="#1e1e1e" stroke-width="1.1"/>
<text x="173.6" y="478.7" font-size="12" fill="#262626" text-anchor="middle" textLength="24.5" lengthAdjust="spacingAndGlyphs" stroke="#262626" stroke-width="0.22">24.5</text>
<line x1="231.8" y1="459.3" x2="231.8" y2="464.3" stroke="#1e1e1e" stroke-width="1.1"/>
<text x="231.8" y="478.7" font-size="12" fill="#262626" text-anchor="middle" textLength="24.5" lengthAdjust="spacingAndGlyphs" stroke="#262626" stroke-width="0.22">26.5</text>
<line x1="100.7" y1="342.3" x2="105.7" y2="342.3" stroke="#1e1e1e" stroke-width="1.1"/>
<text x="94.9" y="347.5" font-size="12" fill="#262626" text-anchor="end" textLength="17.5" lengthAdjust="spacingAndGlyphs" stroke="#262626" stroke-width="0.22">2.0</text>
<line x1="100.7" y1="398.0" x2="105.7" y2="398.0" stroke="#1e1e1e" stroke-width="1.1"/>
<text x="94.9" y="403.2" font-size="12" fill="#262626" text-anchor="end" textLength="17.5" lengthAdjust="spacingAndGlyphs" stroke="#262626" stroke-width="0.22">1.5</text>
<line x1="100.7" y1="454.0" x2="105.7" y2="454.0" stroke="#1e1e1e" stroke-width="1.1"/>
<text x="94.9" y="459.2" font-size="12" fill="#262626" text-anchor="end" textLength="17.5" lengthAdjust="spacingAndGlyphs" stroke="#262626" stroke-width="0.22">1.0</text>
<text x="0" y="0" font-size="11.2" fill="#262626" text-anchor="middle" textLength="117.8" lengthAdjust="spacingAndGlyphs" transform="translate(60.5,390.4) rotate(-90)" stroke="#262626" stroke-width="0.22">Accum. precip. (mm)</text>
<clipPath id="c22"><rect x="280.7" y="321.1" width="148.60" height="138.20"/></clipPath>
<g clip-path="url(#c22)">
<line x1="355.0" y1="321.1" x2="355.0" y2="459.3" stroke="#959595" stroke-width="0.8" stroke-dasharray="2.8,1.8"/>
<line x1="280.7" y1="390.2" x2="429.3" y2="390.2" stroke="#959595" stroke-width="0.8" stroke-dasharray="2.8,1.8"/>
<path d="M415.93,407.20 L415.84,410.00 L415.59,412.76 L415.18,415.44 L414.59,418.07 L413.85,420.61 L412.94,423.07 L411.88,425.44 L410.66,427.71 L409.29,429.89 L407.76,431.95 L406.10,433.90 L404.29,435.72 L402.35,437.43 L400.28,439.00 L398.08,440.44 L395.77,441.74 L393.34,442.90 L390.81,443.92 L388.18,444.79 L385.46,445.51 L382.66,446.08 L379.78,446.49 L376.83,446.75 L373.83,446.86 L370.77,446.81 L367.67,446.61 L364.53,446.25 L361.37,445.73 L358.19,445.07 L355.00,444.25 L351.81,443.29 L348.63,442.18 L345.47,440.93 L342.33,439.54 L339.23,438.01 L336.17,436.35 L333.17,434.57 L330.22,432.67 L327.34,430.64 L324.54,428.51 L321.82,426.27 L319.19,423.94 L316.66,421.51 L314.23,418.99 L311.92,416.40 L309.72,413.74 L307.65,411.01 L305.71,408.22 L303.90,405.38 L302.24,402.50 L300.71,399.59 L299.34,396.66 L298.12,393.70 L297.06,390.74 L296.15,387.77 L295.41,384.81 L294.82,381.87 L294.41,378.94 L294.16,376.05 L294.07,373.20 L294.16,370.40 L294.41,367.64 L294.82,364.96 L295.41,362.33 L296.15,359.79 L297.06,357.33 L298.12,354.96 L299.34,352.69 L300.71,350.51 L302.24,348.45 L303.90,346.50 L305.71,344.68 L307.65,342.97 L309.72,341.40 L311.92,339.96 L314.23,338.66 L316.66,337.50 L319.19,336.48 L321.82,335.61 L324.54,334.89 L327.34,334.32 L330.22,333.91 L333.17,333.65 L336.17,333.54 L339.23,333.59 L342.33,333.79 L345.47,334.15 L348.63,334.67 L351.81,335.33 L355.00,336.15 L358.19,337.11 L361.37,338.22 L364.53,339.47 L367.67,340.86 L370.77,342.39 L373.83,344.05 L376.83,345.83 L379.78,347.73 L382.66,349.76 L385.46,351.89 L388.18,354.13 L390.81,356.46 L393.34,358.89 L395.77,361.41 L398.08,364.00 L400.28,366.66 L402.35,369.39 L404.29,372.18 L406.10,375.02 L407.76,377.90 L409.29,380.81 L410.66,383.74 L411.88,386.70 L412.94,389.66 L413.85,392.63 L414.59,395.59 L415.18,398.53 L415.59,401.46 L415.84,404.35 L415.93,407.20Z" fill="none" stroke="#b8b8b8" stroke-width="1.45" stroke-dasharray="5.3,2.8"/>
<path d="M377.66,398.63 L377.63,399.63 L377.54,400.60 L377.38,401.55 L377.17,402.46 L376.89,403.34 L376.55,404.19 L376.16,404.99 L375.70,405.76 L375.19,406.48 L374.63,407.16 L374.01,407.79 L373.33,408.37 L372.61,408.91 L371.84,409.39 L371.02,409.82 L370.16,410.20 L369.26,410.52 L368.32,410.78 L367.34,410.99 L366.33,411.14 L365.29,411.24 L364.22,411.27 L363.12,411.25 L362.00,411.18 L360.87,411.04 L359.71,410.85 L358.55,410.60 L357.37,410.29 L356.19,409.93 L355.00,409.52 L353.81,409.05 L352.63,408.53 L351.45,407.96 L350.29,407.34 L349.13,406.68 L348.00,405.97 L346.88,405.21 L345.78,404.42 L344.71,403.58 L343.67,402.71 L342.66,401.81 L341.68,400.87 L340.74,399.91 L339.84,398.91 L338.98,397.90 L338.16,396.86 L337.39,395.80 L336.67,394.73 L335.99,393.65 L335.37,392.56 L334.81,391.46 L334.30,390.36 L333.84,389.25 L333.45,388.15 L333.11,387.06 L332.83,385.97 L332.62,384.90 L332.46,383.84 L332.37,382.79 L332.34,381.77 L332.37,380.77 L332.46,379.80 L332.62,378.85 L332.83,377.94 L333.11,377.06 L333.45,376.21 L333.84,375.41 L334.30,374.64 L334.81,373.92 L335.37,373.24 L335.99,372.61 L336.67,372.03 L337.39,371.49 L338.16,371.01 L338.98,370.58 L339.84,370.20 L340.74,369.88 L341.68,369.62 L342.66,369.41 L343.67,369.26 L344.71,369.16 L345.78,369.13 L346.88,369.15 L348.00,369.22 L349.13,369.36 L350.29,369.55 L351.45,369.80 L352.63,370.11 L353.81,370.47 L355.00,370.88 L356.19,371.35 L357.37,371.87 L358.55,372.44 L359.71,373.06 L360.87,373.72 L362.00,374.43 L363.12,375.19 L364.22,375.98 L365.29,376.82 L366.33,377.69 L367.34,378.59 L368.32,379.53 L369.26,380.49 L370.16,381.49 L371.02,382.50 L371.84,383.54 L372.61,384.60 L373.33,385.67 L374.01,386.75 L374.63,387.84 L375.19,388.94 L375.70,390.04 L376.16,391.15 L376.55,392.25 L376.89,393.34 L377.17,394.43 L377.38,395.50 L377.54,396.56 L377.63,397.61 L377.66,398.63Z" fill="none" stroke="#737373" stroke-width="1.3"/>
<path d="M392.15,404.02 L392.10,405.66 L391.95,407.25 L391.69,408.80 L391.34,410.30 L390.88,411.74 L390.33,413.13 L389.68,414.45 L388.94,415.70 L388.10,416.89 L387.17,418.00 L386.16,419.04 L385.05,419.99 L383.87,420.87 L382.61,421.66 L381.27,422.36 L379.86,422.98 L378.38,423.51 L376.84,423.94 L375.23,424.28 L373.57,424.53 L371.87,424.69 L370.11,424.75 L368.31,424.72 L366.48,424.59 L364.62,424.36 L362.72,424.05 L360.81,423.64 L358.88,423.14 L356.94,422.55 L355.00,421.87 L353.06,421.10 L351.12,420.25 L349.19,419.31 L347.28,418.30 L345.38,417.21 L343.52,416.05 L341.69,414.81 L339.89,413.51 L338.13,412.14 L336.43,410.71 L334.77,409.23 L333.16,407.69 L331.62,406.11 L330.14,404.48 L328.73,402.82 L327.39,401.12 L326.13,399.39 L324.95,397.63 L323.84,395.86 L322.83,394.06 L321.90,392.26 L321.06,390.45 L320.32,388.65 L319.67,386.84 L319.12,385.05 L318.66,383.27 L318.31,381.50 L318.05,379.77 L317.90,378.06 L317.85,376.38 L317.90,374.74 L318.05,373.15 L318.31,371.60 L318.66,370.10 L319.12,368.66 L319.67,367.27 L320.32,365.95 L321.06,364.70 L321.90,363.51 L322.83,362.40 L323.84,361.36 L324.95,360.41 L326.13,359.53 L327.39,358.74 L328.73,358.04 L330.14,357.42 L331.62,356.89 L333.16,356.46 L334.77,356.12 L336.42,355.87 L338.13,355.71 L339.89,355.65 L341.69,355.68 L343.52,355.81 L345.38,356.04 L347.28,356.35 L349.19,356.76 L351.12,357.26 L353.06,357.85 L355.00,358.53 L356.94,359.30 L358.88,360.15 L360.81,361.09 L362.72,362.10 L364.62,363.19 L366.48,364.35 L368.31,365.59 L370.11,366.89 L371.87,368.26 L373.57,369.69 L375.23,371.17 L376.84,372.71 L378.38,374.29 L379.86,375.92 L381.27,377.58 L382.61,379.28 L383.87,381.01 L385.05,382.77 L386.16,384.54 L387.17,386.34 L388.10,388.14 L388.94,389.95 L389.68,391.75 L390.33,393.56 L390.88,395.35 L391.34,397.13 L391.69,398.90 L391.95,400.63 L392.10,402.34 L392.15,404.02Z" fill="none" stroke="#737373" stroke-width="1.3"/>
<circle cx="287.0" cy="357.4" r="3.4" fill="#804816" fill-opacity="0.75" stroke="#804816" stroke-opacity="0.75" stroke-width="1.2"/>
<circle cx="336.9" cy="350.7" r="3.4" fill="#f6f600" fill-opacity="0.75" stroke="#f6f600" stroke-opacity="0.75" stroke-width="1.2"/>
<circle cx="382.8" cy="361.9" r="3.4" fill="#804816" fill-opacity="0.75" stroke="#804816" stroke-opacity="0.75" stroke-width="1.2"/>
<circle cx="387.3" cy="363.9" r="3.4" fill="#111111" fill-opacity="0.75" stroke="#111111" stroke-opacity="0.75" stroke-width="1.2"/>
<circle cx="356.1" cy="368.9" r="3.4" fill="#8e9826" fill-opacity="0.75" stroke="#8e9826" stroke-opacity="0.75" stroke-width="1.2"/>
<circle cx="346.9" cy="376.9" r="3.4" fill="#8e9826" fill-opacity="0.75" stroke="#8e9826" stroke-opacity="0.75" stroke-width="1.2"/>
<circle cx="348.1" cy="379.9" r="3.4" fill="#111111" fill-opacity="0.75" stroke="#111111" stroke-opacity="0.75" stroke-width="1.2"/>
<circle cx="358.1" cy="381.9" r="3.4" fill="#111111" fill-opacity="0.75" stroke="#111111" stroke-opacity="0.75" stroke-width="1.2"/>
<circle cx="361.6" cy="384.9" r="3.4" fill="#804816" fill-opacity="0.75" stroke="#804816" stroke-opacity="0.75" stroke-width="1.2"/>
<circle cx="372.8" cy="382.6" r="3.4" fill="#0c730c" fill-opacity="0.75" stroke="#0c730c" stroke-opacity="0.75" stroke-width="1.2"/>
<circle cx="315.4" cy="384.4" r="3.4" fill="#8e9826" fill-opacity="0.75" stroke="#8e9826" stroke-opacity="0.75" stroke-width="1.2"/>
<circle cx="328.2" cy="388.6" r="3.4" fill="#804816" fill-opacity="0.75" stroke="#804816" stroke-opacity="0.75" stroke-width="1.2"/>
<circle cx="341.6" cy="388.6" r="3.4" fill="#0c730c" fill-opacity="0.75" stroke="#0c730c" stroke-opacity="0.75" stroke-width="1.2"/>
<circle cx="384.8" cy="388.6" r="3.4" fill="#f6f600" fill-opacity="0.75" stroke="#f6f600" stroke-opacity="0.75" stroke-width="1.2"/>
<circle cx="351.9" cy="395.1" r="3.4" fill="#0c730c" fill-opacity="0.75" stroke="#0c730c" stroke-opacity="0.75" stroke-width="1.2"/>
<circle cx="340.4" cy="406.9" r="3.4" fill="#8e9826" fill-opacity="0.75" stroke="#8e9826" stroke-opacity="0.75" stroke-width="1.2"/>
<circle cx="369.9" cy="410.1" r="3.4" fill="#111111" fill-opacity="0.75" stroke="#111111" stroke-opacity="0.75" stroke-width="1.2"/>
<circle cx="369.1" cy="416.8" r="3.4" fill="#111111" fill-opacity="0.75" stroke="#111111" stroke-opacity="0.75" stroke-width="1.2"/>
<circle cx="394.8" cy="416.1" r="3.4" fill="#111111" fill-opacity="0.75" stroke="#111111" stroke-opacity="0.75" stroke-width="1.2"/>
<circle cx="352.4" cy="425.1" r="3.4" fill="#0c730c" fill-opacity="0.75" stroke="#0c730c" stroke-opacity="0.75" stroke-width="1.2"/>
<circle cx="366.6" cy="426.1" r="3.4" fill="#111111" fill-opacity="0.75" stroke="#111111" stroke-opacity="0.75" stroke-width="1.2"/>
<circle cx="353.6" cy="429.3" r="3.4" fill="#0c730c" fill-opacity="0.75" stroke="#0c730c" stroke-opacity="0.75" stroke-width="1.2"/>
</g>
<text x="388.2" y="361.1" font-size="10.2" fill="#0a0a0a" font-weight="bold" textLength="27.5" lengthAdjust="spacingAndGlyphs" stroke="#0a0a0a" stroke-width="0.25">2003</text>
<text x="371.2" y="407.6" font-size="10.2" fill="#0a0a0a" font-weight="bold" textLength="27.0" lengthAdjust="spacingAndGlyphs" stroke="#0a0a0a" stroke-width="0.25">2005</text>
<text x="398.9" y="414.8" font-size="10.2" fill="#0a0a0a" font-weight="bold" textLength="27.0" lengthAdjust="spacingAndGlyphs" stroke="#0a0a0a" stroke-width="0.25">2022</text>
<text x="367.0" y="438.8" font-size="10.2" fill="#0a0a0a" font-weight="bold" textLength="27.0" lengthAdjust="spacingAndGlyphs" stroke="#0a0a0a" stroke-width="0.25">2017</text>
<rect x="280.7" y="321.1" width="148.60" height="138.20" fill="none" stroke="#2c2c2c" stroke-width="1.4"/>
<line x1="308.2" y1="459.3" x2="308.2" y2="464.3" stroke="#1e1e1e" stroke-width="1.1"/>
<text x="308.2" y="478.7" font-size="12" fill="#262626" text-anchor="middle" textLength="24.5" lengthAdjust="spacingAndGlyphs" stroke="#262626" stroke-width="0.22">18.5</text>
<line x1="356.1" y1="459.3" x2="356.1" y2="464.3" stroke="#1e1e1e" stroke-width="1.1"/>
<text x="356.1" y="478.7" font-size="12" fill="#262626" text-anchor="middle" textLength="24.5" lengthAdjust="spacingAndGlyphs" stroke="#262626" stroke-width="0.22">19.0</text>
<line x1="404.3" y1="459.3" x2="404.3" y2="464.3" stroke="#1e1e1e" stroke-width="1.1"/>
<text x="404.3" y="478.7" font-size="12" fill="#262626" text-anchor="middle" textLength="24.5" lengthAdjust="spacingAndGlyphs" stroke="#262626" stroke-width="0.22">19.5</text>
<clipPath id="c23"><rect x="531.0" y="320.6" width="149.00" height="137.60"/></clipPath>
<g clip-path="url(#c23)">
<line x1="605.5" y1="320.6" x2="605.5" y2="458.2" stroke="#959595" stroke-width="0.8" stroke-dasharray="2.8,1.8"/>
<line x1="531.0" y1="389.4" x2="680.0" y2="389.4" stroke="#959595" stroke-width="0.8" stroke-dasharray="2.8,1.8"/>
<path d="M666.59,349.91 L666.51,352.07 L666.26,354.34 L665.84,356.70 L665.26,359.15 L664.51,361.68 L663.60,364.29 L662.53,366.97 L661.31,369.71 L659.93,372.50 L658.41,375.34 L656.73,378.22 L654.92,381.13 L652.98,384.06 L650.90,387.01 L648.70,389.96 L646.38,392.92 L643.95,395.86 L641.41,398.78 L638.77,401.68 L636.04,404.55 L633.23,407.37 L630.35,410.14 L627.39,412.86 L624.38,415.51 L621.31,418.10 L618.20,420.60 L615.06,423.02 L611.89,425.34 L608.70,427.57 L605.50,429.69 L602.30,431.70 L599.11,433.60 L595.94,435.37 L592.80,437.02 L589.69,438.54 L586.62,439.92 L583.61,441.17 L580.65,442.27 L577.77,443.23 L574.96,444.04 L572.23,444.70 L569.59,445.21 L567.05,445.56 L564.62,445.77 L562.30,445.81 L560.10,445.71 L558.02,445.45 L556.08,445.03 L554.27,444.46 L552.59,443.74 L551.07,442.88 L549.69,441.86 L548.47,440.71 L547.40,439.41 L546.49,437.97 L545.74,436.40 L545.16,434.71 L544.74,432.89 L544.49,430.95 L544.41,428.89 L544.49,426.73 L544.74,424.46 L545.16,422.10 L545.74,419.65 L546.49,417.12 L547.40,414.51 L548.47,411.83 L549.69,409.09 L551.07,406.30 L552.59,403.46 L554.27,400.58 L556.08,397.67 L558.02,394.74 L560.10,391.79 L562.30,388.84 L564.62,385.88 L567.05,382.94 L569.59,380.02 L572.23,377.12 L574.95,374.25 L577.77,371.43 L580.65,368.66 L583.61,365.94 L586.62,363.29 L589.69,360.70 L592.80,358.20 L595.94,355.78 L599.11,353.46 L602.30,351.23 L605.50,349.11 L608.70,347.10 L611.89,345.20 L615.06,343.43 L618.20,341.78 L621.31,340.26 L624.38,338.88 L627.39,337.63 L630.35,336.53 L633.23,335.57 L636.04,334.76 L638.77,334.10 L641.41,333.59 L643.95,333.24 L646.38,333.03 L648.70,332.99 L650.90,333.09 L652.98,333.35 L654.92,333.77 L656.73,334.34 L658.41,335.06 L659.93,335.92 L661.31,336.94 L662.53,338.09 L663.60,339.39 L664.51,340.83 L665.26,342.40 L665.84,344.09 L666.26,345.91 L666.51,347.85 L666.59,349.91Z" fill="none" stroke="#b8b8b8" stroke-width="1.45" stroke-dasharray="5.3,2.8"/>
<path d="M628.22,372.61 L628.19,373.29 L628.10,374.02 L627.94,374.79 L627.73,375.60 L627.45,376.44 L627.11,377.33 L626.71,378.24 L626.26,379.19 L625.75,380.16 L625.18,381.16 L624.56,382.18 L623.88,383.22 L623.16,384.28 L622.39,385.35 L621.57,386.43 L620.70,387.52 L619.80,388.62 L618.86,389.72 L617.88,390.82 L616.86,391.91 L615.82,393.00 L614.74,394.07 L613.64,395.14 L612.52,396.19 L611.38,397.22 L610.22,398.23 L609.05,399.21 L607.88,400.17 L606.69,401.09 L605.50,401.99 L604.31,402.85 L603.12,403.68 L601.95,404.46 L600.78,405.21 L599.62,405.91 L598.48,406.56 L597.36,407.17 L596.26,407.73 L595.18,408.24 L594.14,408.70 L593.12,409.10 L592.14,409.45 L591.20,409.75 L590.30,409.99 L589.43,410.17 L588.61,410.30 L587.84,410.37 L587.12,410.38 L586.44,410.34 L585.82,410.23 L585.25,410.07 L584.74,409.86 L584.29,409.58 L583.89,409.26 L583.55,408.87 L583.27,408.44 L583.06,407.95 L582.90,407.41 L582.81,406.82 L582.78,406.19 L582.81,405.51 L582.90,404.78 L583.06,404.01 L583.27,403.20 L583.55,402.36 L583.89,401.47 L584.29,400.56 L584.74,399.61 L585.25,398.64 L585.82,397.64 L586.44,396.62 L587.12,395.58 L587.84,394.52 L588.61,393.45 L589.43,392.37 L590.30,391.28 L591.20,390.18 L592.14,389.08 L593.12,387.98 L594.14,386.89 L595.18,385.80 L596.26,384.73 L597.36,383.66 L598.48,382.61 L599.62,381.58 L600.78,380.57 L601.95,379.59 L603.12,378.63 L604.31,377.71 L605.50,376.81 L606.69,375.95 L607.88,375.12 L609.05,374.34 L610.22,373.59 L611.38,372.89 L612.52,372.24 L613.64,371.63 L614.74,371.07 L615.82,370.56 L616.86,370.10 L617.88,369.70 L618.86,369.35 L619.80,369.05 L620.70,368.81 L621.57,368.63 L622.39,368.50 L623.16,368.43 L623.88,368.42 L624.56,368.46 L625.18,368.57 L625.75,368.73 L626.26,368.94 L626.71,369.22 L627.11,369.54 L627.45,369.93 L627.73,370.36 L627.94,370.85 L628.10,371.39 L628.19,371.98 L628.22,372.61Z" fill="none" stroke="#737373" stroke-width="1.3"/>
<path d="M642.75,361.88 L642.70,363.00 L642.55,364.19 L642.29,365.45 L641.94,366.77 L641.48,368.16 L640.93,369.61 L640.28,371.10 L639.53,372.65 L638.69,374.25 L637.76,375.89 L636.74,377.56 L635.64,379.27 L634.45,381.00 L633.18,382.76 L631.84,384.54 L630.43,386.32 L628.94,388.12 L627.40,389.92 L625.79,391.72 L624.12,393.51 L622.41,395.30 L620.65,397.06 L618.85,398.81 L617.01,400.53 L615.14,402.21 L613.24,403.87 L611.33,405.48 L609.39,407.05 L607.45,408.57 L605.50,410.04 L603.55,411.45 L601.61,412.80 L599.67,414.09 L597.76,415.31 L595.86,416.46 L593.99,417.53 L592.15,418.53 L590.35,419.45 L588.59,420.28 L586.88,421.03 L585.21,421.70 L583.60,422.27 L582.06,422.76 L580.57,423.15 L579.16,423.45 L577.82,423.66 L576.55,423.78 L575.36,423.80 L574.26,423.72 L573.24,423.55 L572.31,423.29 L571.47,422.94 L570.72,422.49 L570.07,421.95 L569.52,421.32 L569.06,420.61 L568.71,419.81 L568.45,418.93 L568.30,417.96 L568.25,416.92 L568.30,415.80 L568.45,414.61 L568.71,413.35 L569.06,412.03 L569.52,410.64 L570.07,409.19 L570.72,407.70 L571.47,406.15 L572.31,404.55 L573.24,402.91 L574.26,401.24 L575.36,399.53 L576.55,397.80 L577.82,396.04 L579.16,394.26 L580.57,392.48 L582.06,390.68 L583.60,388.88 L585.21,387.08 L586.88,385.29 L588.59,383.50 L590.35,381.74 L592.15,379.99 L593.99,378.27 L595.86,376.59 L597.76,374.93 L599.67,373.32 L601.61,371.75 L603.55,370.23 L605.50,368.76 L607.45,367.35 L609.39,366.00 L611.33,364.71 L613.24,363.49 L615.14,362.34 L617.01,361.27 L618.85,360.27 L620.65,359.35 L622.41,358.52 L624.12,357.77 L625.79,357.10 L627.40,356.53 L628.94,356.04 L630.43,355.65 L631.84,355.35 L633.18,355.14 L634.45,355.02 L635.64,355.00 L636.74,355.08 L637.76,355.25 L638.69,355.51 L639.53,355.86 L640.28,356.31 L640.93,356.85 L641.48,357.48 L641.94,358.19 L642.29,358.99 L642.55,359.87 L642.70,360.84 L642.75,361.88Z" fill="none" stroke="#737373" stroke-width="1.3"/>
<circle cx="601.9" cy="361.4" r="3.4" fill="#f6f600" fill-opacity="0.75" stroke="#f6f600" stroke-opacity="0.75" stroke-width="1.2"/>
<circle cx="613.9" cy="359.4" r="3.4" fill="#111111" fill-opacity="0.75" stroke="#111111" stroke-opacity="0.75" stroke-width="1.2"/>
<circle cx="625.6" cy="363.7" r="3.4" fill="#804816" fill-opacity="0.75" stroke="#804816" stroke-opacity="0.75" stroke-width="1.2"/>
<circle cx="611.9" cy="373.2" r="3.4" fill="#0c730c" fill-opacity="0.75" stroke="#0c730c" stroke-opacity="0.75" stroke-width="1.2"/>
<circle cx="617.6" cy="376.4" r="3.4" fill="#111111" fill-opacity="0.75" stroke="#111111" stroke-opacity="0.75" stroke-width="1.2"/>
<circle cx="618.8" cy="376.9" r="3.4" fill="#111111" fill-opacity="0.75" stroke="#111111" stroke-opacity="0.75" stroke-width="1.2"/>
<circle cx="643.1" cy="378.9" r="3.4" fill="#111111" fill-opacity="0.75" stroke="#111111" stroke-opacity="0.75" stroke-width="1.2"/>
<circle cx="667.0" cy="352.4" r="3.4" fill="#111111" fill-opacity="0.75" stroke="#111111" stroke-opacity="0.75" stroke-width="1.2"/>
<circle cx="581.9" cy="383.9" r="3.4" fill="#804816" fill-opacity="0.75" stroke="#804816" stroke-opacity="0.75" stroke-width="1.2"/>
<circle cx="591.9" cy="386.1" r="3.4" fill="#111111" fill-opacity="0.75" stroke="#111111" stroke-opacity="0.75" stroke-width="1.2"/>
<circle cx="600.1" cy="388.1" r="3.4" fill="#8e9826" fill-opacity="0.75" stroke="#8e9826" stroke-opacity="0.75" stroke-width="1.2"/>
<circle cx="611.4" cy="391.4" r="3.4" fill="#0c730c" fill-opacity="0.75" stroke="#0c730c" stroke-opacity="0.75" stroke-width="1.2"/>
<circle cx="616.3" cy="391.4" r="3.4" fill="#0c730c" fill-opacity="0.75" stroke="#0c730c" stroke-opacity="0.75" stroke-width="1.2"/>
<circle cx="613.9" cy="392.4" r="3.4" fill="#0c730c" fill-opacity="0.75" stroke="#0c730c" stroke-opacity="0.75" stroke-width="1.2"/>
<circle cx="604.4" cy="395.6" r="3.4" fill="#111111" fill-opacity="0.75" stroke="#111111" stroke-opacity="0.75" stroke-width="1.2"/>
<circle cx="607.6" cy="396.9" r="3.4" fill="#8e9826" fill-opacity="0.75" stroke="#8e9826" stroke-opacity="0.75" stroke-width="1.2"/>
<circle cx="590.9" cy="401.9" r="3.4" fill="#0c730c" fill-opacity="0.75" stroke="#0c730c" stroke-opacity="0.75" stroke-width="1.2"/>
<circle cx="615.6" cy="403.1" r="3.4" fill="#8e9826" fill-opacity="0.75" stroke="#8e9826" stroke-opacity="0.75" stroke-width="1.2"/>
<circle cx="561.4" cy="406.1" r="3.4" fill="#f6f600" fill-opacity="0.75" stroke="#f6f600" stroke-opacity="0.75" stroke-width="1.2"/>
<circle cx="591.4" cy="413.8" r="3.4" fill="#804816" fill-opacity="0.75" stroke="#804816" stroke-opacity="0.75" stroke-width="1.2"/>
<circle cx="567.7" cy="426.3" r="3.4" fill="#8e9826" fill-opacity="0.75" stroke="#8e9826" stroke-opacity="0.75" stroke-width="1.2"/>
<circle cx="560.2" cy="452.3" r="3.4" fill="#804816" fill-opacity="0.75" stroke="#804816" stroke-opacity="0.75" stroke-width="1.2"/>
</g>
<text x="652.1" y="346.4" font-size="10.2" fill="#0a0a0a" font-weight="bold" textLength="27.6" lengthAdjust="spacingAndGlyphs" stroke="#0a0a0a" stroke-width="0.25">2022</text>
<text x="614.2" y="354.4" font-size="10.2" fill="#0a0a0a" font-weight="bold" textLength="27.5" lengthAdjust="spacingAndGlyphs" stroke="#0a0a0a" stroke-width="0.25">2003</text>
<text x="586.5" y="374.9" font-size="10.2" fill="#0a0a0a" font-weight="bold" textLength="27.3" lengthAdjust="spacingAndGlyphs" stroke="#0a0a0a" stroke-width="0.25">2005</text>
<text x="642.9" y="373.6" font-size="10.2" fill="#0a0a0a" font-weight="bold" textLength="27.5" lengthAdjust="spacingAndGlyphs" stroke="#0a0a0a" stroke-width="0.25">2017</text>
<rect x="531.0" y="320.6" width="149.00" height="137.60" fill="none" stroke="#2c2c2c" stroke-width="1.4"/>
<line x1="540.0" y1="458.2" x2="540.0" y2="463.2" stroke="#1e1e1e" stroke-width="1.1"/>
<text x="540.0" y="477.6" font-size="12" fill="#262626" text-anchor="middle" textLength="24.5" lengthAdjust="spacingAndGlyphs" stroke="#262626" stroke-width="0.22">22.5</text>
<line x1="598.9" y1="458.2" x2="598.9" y2="463.2" stroke="#1e1e1e" stroke-width="1.1"/>
<text x="598.9" y="477.6" font-size="12" fill="#262626" text-anchor="middle" textLength="24.5" lengthAdjust="spacingAndGlyphs" stroke="#262626" stroke-width="0.22">24.5</text>
<line x1="657.2" y1="458.2" x2="657.2" y2="463.2" stroke="#1e1e1e" stroke-width="1.1"/>
<text x="657.2" y="477.6" font-size="12" fill="#262626" text-anchor="middle" textLength="24.5" lengthAdjust="spacingAndGlyphs" stroke="#262626" stroke-width="0.22">26.5</text>
<line x1="526.0" y1="343.6" x2="531.0" y2="343.6" stroke="#1e1e1e" stroke-width="1.1"/>
<text x="520.2" y="348.8" font-size="12" fill="#262626" text-anchor="end" textLength="24.5" lengthAdjust="spacingAndGlyphs" stroke="#262626" stroke-width="0.22">19.5</text>
<line x1="526.0" y1="387.0" x2="531.0" y2="387.0" stroke="#1e1e1e" stroke-width="1.1"/>
<text x="520.2" y="392.2" font-size="12" fill="#262626" text-anchor="end" textLength="24.5" lengthAdjust="spacingAndGlyphs" stroke="#262626" stroke-width="0.22">19.0</text>
<line x1="526.0" y1="430.4" x2="531.0" y2="430.4" stroke="#1e1e1e" stroke-width="1.1"/>
<text x="520.2" y="435.6" font-size="12" fill="#262626" text-anchor="end" textLength="24.5" lengthAdjust="spacingAndGlyphs" stroke="#262626" stroke-width="0.22">18.5</text>
<text x="0" y="0" font-size="11.2" fill="#262626" text-anchor="middle" textLength="46.8" lengthAdjust="spacingAndGlyphs" transform="translate(476.8,389.8) rotate(-90)" stroke="#262626" stroke-width="0.22">SST (°C)</text>
<clipPath id="c31"><rect x="107.5" y="510.0" width="147.30" height="136.40"/></clipPath>
<g clip-path="url(#c31)">
<line x1="181.2" y1="510.0" x2="181.2" y2="646.4" stroke="#959595" stroke-width="0.8" stroke-dasharray="2.8,1.8"/>
<line x1="107.5" y1="578.2" x2="254.8" y2="578.2" stroke="#959595" stroke-width="0.8" stroke-dasharray="2.8,1.8"/>
<path d="M241.54,617.35 L241.46,619.38 L241.21,621.31 L240.80,623.11 L240.22,624.79 L239.49,626.35 L238.59,627.77 L237.53,629.06 L236.32,630.21 L234.96,631.21 L233.45,632.07 L231.80,632.78 L230.01,633.35 L228.08,633.76 L226.03,634.02 L223.85,634.12 L221.56,634.07 L219.16,633.87 L216.65,633.52 L214.04,633.02 L211.35,632.36 L208.57,631.56 L205.71,630.61 L202.79,629.51 L199.81,628.28 L196.78,626.91 L193.71,625.40 L190.60,623.77 L187.46,622.01 L184.31,620.13 L181.15,618.14 L177.99,616.03 L174.84,613.83 L171.70,611.52 L168.59,609.13 L165.52,606.64 L162.49,604.09 L159.51,601.46 L156.59,598.76 L153.73,596.01 L150.95,593.21 L148.26,590.37 L145.65,587.50 L143.14,584.60 L140.74,581.69 L138.45,578.76 L136.27,575.83 L134.22,572.91 L132.29,570.00 L130.50,567.12 L128.85,564.27 L127.34,561.45 L125.98,558.68 L124.77,555.97 L123.71,553.31 L122.81,550.72 L122.08,548.21 L121.50,545.78 L121.09,543.44 L120.84,541.20 L120.76,539.05 L120.84,537.02 L121.09,535.09 L121.50,533.29 L122.08,531.61 L122.81,530.05 L123.71,528.63 L124.77,527.34 L125.98,526.19 L127.34,525.19 L128.85,524.33 L130.50,523.62 L132.29,523.05 L134.22,522.64 L136.27,522.38 L138.45,522.28 L140.74,522.33 L143.14,522.53 L145.65,522.88 L148.26,523.38 L150.95,524.04 L153.73,524.84 L156.59,525.79 L159.51,526.89 L162.49,528.12 L165.52,529.49 L168.59,531.00 L171.70,532.63 L174.84,534.39 L177.99,536.27 L181.15,538.26 L184.31,540.37 L187.46,542.57 L190.60,544.88 L193.71,547.27 L196.78,549.76 L199.81,552.31 L202.79,554.94 L205.71,557.64 L208.57,560.39 L211.35,563.19 L214.04,566.03 L216.65,568.90 L219.16,571.80 L221.56,574.71 L223.85,577.64 L226.03,580.57 L228.08,583.49 L230.01,586.40 L231.80,589.28 L233.45,592.13 L234.96,594.95 L236.32,597.72 L237.53,600.43 L238.59,603.09 L239.49,605.68 L240.22,608.19 L240.80,610.62 L241.21,612.96 L241.46,615.20 L241.54,617.35Z" fill="none" stroke="#b8b8b8" stroke-width="1.45" stroke-dasharray="5.3,2.8"/>
<path d="M203.61,592.76 L203.58,593.52 L203.49,594.23 L203.34,594.91 L203.12,595.53 L202.85,596.11 L202.51,596.64 L202.12,597.12 L201.67,597.54 L201.16,597.92 L200.60,598.24 L199.99,598.50 L199.32,598.71 L198.61,598.86 L197.84,598.96 L197.03,599.00 L196.18,598.98 L195.29,598.91 L194.35,598.78 L193.38,598.59 L192.38,598.35 L191.35,598.05 L190.29,597.69 L189.20,597.29 L188.09,596.83 L186.96,596.32 L185.82,595.76 L184.66,595.15 L183.50,594.50 L182.33,593.80 L181.15,593.05 L179.97,592.27 L178.80,591.45 L177.64,590.59 L176.48,589.70 L175.34,588.78 L174.21,587.83 L173.10,586.85 L172.01,585.85 L170.95,584.83 L169.92,583.78 L168.92,582.73 L167.95,581.66 L167.01,580.58 L166.12,579.50 L165.27,578.41 L164.46,577.32 L163.69,576.23 L162.98,575.15 L162.31,574.08 L161.70,573.02 L161.14,571.97 L160.63,570.94 L160.18,569.93 L159.79,568.94 L159.45,567.98 L159.18,567.05 L158.96,566.14 L158.81,565.27 L158.72,564.44 L158.69,563.64 L158.72,562.88 L158.81,562.17 L158.96,561.49 L159.18,560.87 L159.45,560.29 L159.79,559.76 L160.18,559.28 L160.63,558.86 L161.14,558.48 L161.70,558.16 L162.31,557.90 L162.98,557.69 L163.69,557.54 L164.46,557.44 L165.27,557.40 L166.12,557.42 L167.01,557.49 L167.95,557.62 L168.92,557.81 L169.92,558.05 L170.95,558.35 L172.01,558.71 L173.10,559.11 L174.21,559.57 L175.34,560.08 L176.48,560.64 L177.64,561.25 L178.80,561.90 L179.97,562.60 L181.15,563.35 L182.33,564.13 L183.50,564.95 L184.66,565.81 L185.82,566.70 L186.96,567.62 L188.09,568.57 L189.20,569.55 L190.29,570.55 L191.35,571.57 L192.38,572.62 L193.38,573.67 L194.35,574.74 L195.29,575.82 L196.18,576.90 L197.03,577.99 L197.84,579.08 L198.61,580.17 L199.32,581.25 L199.99,582.32 L200.60,583.38 L201.16,584.43 L201.67,585.46 L202.12,586.47 L202.51,587.46 L202.85,588.42 L203.12,589.35 L203.34,590.26 L203.49,591.13 L203.58,591.96 L203.61,592.76Z" fill="none" stroke="#737373" stroke-width="1.3"/>
<path d="M217.98,602.07 L217.92,603.31 L217.77,604.48 L217.52,605.59 L217.17,606.61 L216.72,607.56 L216.17,608.43 L215.53,609.21 L214.79,609.91 L213.96,610.52 L213.04,611.05 L212.03,611.48 L210.94,611.83 L209.77,612.08 L208.52,612.23 L207.19,612.30 L205.79,612.27 L204.32,612.15 L202.80,611.93 L201.21,611.62 L199.56,611.22 L197.87,610.73 L196.13,610.16 L194.35,609.49 L192.53,608.74 L190.68,607.90 L188.81,606.98 L186.91,605.99 L185.00,604.91 L183.08,603.77 L181.15,602.55 L179.22,601.27 L177.30,599.92 L175.39,598.52 L173.49,597.06 L171.62,595.54 L169.77,593.98 L167.95,592.38 L166.17,590.74 L164.43,589.06 L162.74,587.35 L161.09,585.62 L159.50,583.87 L157.98,582.10 L156.51,580.33 L155.11,578.54 L153.78,576.76 L152.53,574.97 L151.36,573.20 L150.27,571.44 L149.26,569.70 L148.34,567.99 L147.51,566.30 L146.77,564.64 L146.13,563.02 L145.58,561.45 L145.13,559.91 L144.78,558.43 L144.53,557.01 L144.38,555.64 L144.32,554.33 L144.38,553.09 L144.53,551.92 L144.78,550.81 L145.13,549.79 L145.58,548.84 L146.13,547.97 L146.77,547.19 L147.51,546.49 L148.34,545.88 L149.26,545.35 L150.27,544.92 L151.36,544.57 L152.53,544.32 L153.78,544.17 L155.11,544.10 L156.51,544.13 L157.98,544.25 L159.50,544.47 L161.09,544.78 L162.74,545.18 L164.43,545.67 L166.17,546.24 L167.95,546.91 L169.77,547.66 L171.62,548.50 L173.49,549.42 L175.39,550.41 L177.30,551.49 L179.22,552.63 L181.15,553.85 L183.08,555.13 L185.00,556.48 L186.91,557.88 L188.81,559.34 L190.68,560.86 L192.53,562.42 L194.35,564.02 L196.13,565.66 L197.87,567.34 L199.56,569.05 L201.21,570.78 L202.80,572.53 L204.32,574.30 L205.79,576.07 L207.19,577.86 L208.52,579.64 L209.77,581.43 L210.94,583.20 L212.03,584.96 L213.04,586.70 L213.96,588.41 L214.79,590.10 L215.53,591.76 L216.17,593.38 L216.72,594.95 L217.17,596.49 L217.52,597.97 L217.77,599.39 L217.92,600.76 L217.98,602.07Z" fill="none" stroke="#737373" stroke-width="1.3"/>
<circle cx="136.2" cy="537.4" r="3.4" fill="#804816" fill-opacity="0.75" stroke="#804816" stroke-opacity="0.75" stroke-width="1.2"/>
<circle cx="139.9" cy="538.7" r="3.4" fill="#f6f600" fill-opacity="0.75" stroke="#f6f600" stroke-opacity="0.75" stroke-width="1.2"/>
<circle cx="184.4" cy="551.9" r="3.4" fill="#8e9826" fill-opacity="0.75" stroke="#8e9826" stroke-opacity="0.75" stroke-width="1.2"/>
<circle cx="153.9" cy="559.2" r="3.4" fill="#804816" fill-opacity="0.75" stroke="#804816" stroke-opacity="0.75" stroke-width="1.2"/>
<circle cx="175.1" cy="562.9" r="3.4" fill="#8e9826" fill-opacity="0.75" stroke="#8e9826" stroke-opacity="0.75" stroke-width="1.2"/>
<circle cx="193.1" cy="564.4" r="3.4" fill="#111111" fill-opacity="0.75" stroke="#111111" stroke-opacity="0.75" stroke-width="1.2"/>
<circle cx="198.1" cy="561.7" r="3.4" fill="#111111" fill-opacity="0.75" stroke="#111111" stroke-opacity="0.75" stroke-width="1.2"/>
<circle cx="185.6" cy="570.6" r="3.4" fill="#0c730c" fill-opacity="0.75" stroke="#0c730c" stroke-opacity="0.75" stroke-width="1.2"/>
<circle cx="164.9" cy="571.1" r="3.4" fill="#804816" fill-opacity="0.75" stroke="#804816" stroke-opacity="0.75" stroke-width="1.2"/>
<circle cx="146.4" cy="573.6" r="3.4" fill="#8e9826" fill-opacity="0.75" stroke="#8e9826" stroke-opacity="0.75" stroke-width="1.2"/>
<circle cx="166.9" cy="574.4" r="3.4" fill="#804816" fill-opacity="0.75" stroke="#804816" stroke-opacity="0.75" stroke-width="1.2"/>
<circle cx="175.1" cy="574.9" r="3.4" fill="#f6f600" fill-opacity="0.75" stroke="#f6f600" stroke-opacity="0.75" stroke-width="1.2"/>
<circle cx="167.4" cy="577.9" r="3.4" fill="#111111" fill-opacity="0.75" stroke="#111111" stroke-opacity="0.75" stroke-width="1.2"/>
<circle cx="184.9" cy="577.4" r="3.4" fill="#111111" fill-opacity="0.75" stroke="#111111" stroke-opacity="0.75" stroke-width="1.2"/>
<circle cx="193.6" cy="584.9" r="3.4" fill="#0c730c" fill-opacity="0.75" stroke="#0c730c" stroke-opacity="0.75" stroke-width="1.2"/>
<circle cx="193.6" cy="591.9" r="3.4" fill="#8e9826" fill-opacity="0.75" stroke="#8e9826" stroke-opacity="0.75" stroke-width="1.2"/>
<circle cx="187.6" cy="594.9" r="3.4" fill="#111111" fill-opacity="0.75" stroke="#111111" stroke-opacity="0.75" stroke-width="1.2"/>
<circle cx="190.6" cy="596.9" r="3.4" fill="#111111" fill-opacity="0.75" stroke="#111111" stroke-opacity="0.75" stroke-width="1.2"/>
<circle cx="188.6" cy="607.8" r="3.4" fill="#0c730c" fill-opacity="0.75" stroke="#0c730c" stroke-opacity="0.75" stroke-width="1.2"/>
<circle cx="194.9" cy="619.3" r="3.4" fill="#0c730c" fill-opacity="0.75" stroke="#0c730c" stroke-opacity="0.75" stroke-width="1.2"/>
<circle cx="215.6" cy="619.3" r="3.4" fill="#111111" fill-opacity="0.75" stroke="#111111" stroke-opacity="0.75" stroke-width="1.2"/>
<circle cx="244.3" cy="605.3" r="3.4" fill="#111111" fill-opacity="0.75" stroke="#111111" stroke-opacity="0.75" stroke-width="1.2"/>
</g>
<text x="165.2" y="561.9" font-size="10.2" fill="#0a0a0a" font-weight="bold" textLength="27.1" lengthAdjust="spacingAndGlyphs" stroke="#0a0a0a" stroke-width="0.25">2003</text>
<text x="159.0" y="595.3" font-size="10.2" fill="#0a0a0a" font-weight="bold" textLength="27.5" lengthAdjust="spacingAndGlyphs" stroke="#0a0a0a" stroke-width="0.25">2005</text>
<text x="221.4" y="599.8" font-size="10.2" fill="#0a0a0a" font-weight="bold" textLength="27.5" lengthAdjust="spacingAndGlyphs" stroke="#0a0a0a" stroke-width="0.25">2022</text>
<text x="215.7" y="631.5" font-size="10.2" fill="#0a0a0a" font-weight="bold" textLength="27.0" lengthAdjust="spacingAndGlyphs" stroke="#0a0a0a" stroke-width="0.25">2017</text>
<rect x="107.5" y="510.0" width="147.30" height="136.40" fill="none" stroke="#2c2c2c" stroke-width="1.4"/>
<line x1="113.4" y1="646.4" x2="113.4" y2="651.4" stroke="#1e1e1e" stroke-width="1.1"/>
<text x="113.4" y="665.8" font-size="12" fill="#262626" text-anchor="middle" textLength="14.0" lengthAdjust="spacingAndGlyphs" stroke="#262626" stroke-width="0.22">22</text>
<line x1="169.9" y1="646.4" x2="169.9" y2="651.4" stroke="#1e1e1e" stroke-width="1.1"/>
<text x="169.9" y="665.8" font-size="12" fill="#262626" text-anchor="middle" textLength="14.0" lengthAdjust="spacingAndGlyphs" stroke="#262626" stroke-width="0.22">24</text>
<line x1="226.8" y1="646.4" x2="226.8" y2="651.4" stroke="#1e1e1e" stroke-width="1.1"/>
<text x="226.8" y="665.8" font-size="12" fill="#262626" text-anchor="middle" textLength="14.0" lengthAdjust="spacingAndGlyphs" stroke="#262626" stroke-width="0.22">26</text>
<line x1="102.5" y1="513.7" x2="107.5" y2="513.7" stroke="#1e1e1e" stroke-width="1.1"/>
<text x="96.7" y="518.9" font-size="12" fill="#262626" text-anchor="end" textLength="17.5" lengthAdjust="spacingAndGlyphs" stroke="#262626" stroke-width="0.22">2.5</text>
<line x1="102.5" y1="562.5" x2="107.5" y2="562.5" stroke="#1e1e1e" stroke-width="1.1"/>
<text x="96.7" y="567.7" font-size="12" fill="#262626" text-anchor="end" textLength="17.5" lengthAdjust="spacingAndGlyphs" stroke="#262626" stroke-width="0.22">2.0</text>
<line x1="102.5" y1="610.8" x2="107.5" y2="610.8" stroke="#1e1e1e" stroke-width="1.1"/>
<text x="96.7" y="616.0" font-size="12" fill="#262626" text-anchor="end" textLength="17.5" lengthAdjust="spacingAndGlyphs" stroke="#262626" stroke-width="0.22">1.5</text>
<text x="0" y="0" font-size="11.2" fill="#262626" text-anchor="middle" textLength="117.8" lengthAdjust="spacingAndGlyphs" transform="translate(61.6,578.3) rotate(-90)" stroke="#262626" stroke-width="0.22">Accum. precip. (mm)</text>
<clipPath id="c32"><rect x="282.0" y="509.2" width="147.80" height="136.30"/></clipPath>
<g clip-path="url(#c32)">
<line x1="355.9" y1="509.2" x2="355.9" y2="645.5" stroke="#959595" stroke-width="0.8" stroke-dasharray="2.8,1.8"/>
<line x1="282.0" y1="577.4" x2="429.8" y2="577.4" stroke="#959595" stroke-width="0.8" stroke-dasharray="2.8,1.8"/>
<path d="M416.50,599.70 L416.41,602.35 L416.17,604.93 L415.75,607.44 L415.17,609.86 L414.43,612.20 L413.53,614.44 L412.47,616.57 L411.26,618.60 L409.89,620.52 L408.38,622.32 L406.72,623.99 L404.92,625.54 L402.99,626.95 L400.93,628.23 L398.75,629.37 L396.45,630.37 L394.04,631.22 L391.52,631.92 L388.90,632.48 L386.20,632.88 L383.41,633.13 L380.55,633.23 L377.62,633.18 L374.63,632.97 L371.58,632.61 L368.50,632.10 L365.38,631.43 L362.23,630.62 L359.07,629.67 L355.90,628.57 L352.73,627.33 L349.57,625.95 L346.42,624.44 L343.30,622.80 L340.22,621.04 L337.17,619.15 L334.18,617.16 L331.25,615.05 L328.39,612.84 L325.60,610.53 L322.90,608.13 L320.28,605.65 L317.76,603.09 L315.35,600.45 L313.05,597.76 L310.87,595.01 L308.81,592.21 L306.88,589.37 L305.08,586.50 L303.42,583.60 L301.91,580.69 L300.54,577.76 L299.33,574.84 L298.27,571.92 L297.37,569.01 L296.63,566.13 L296.05,563.28 L295.63,560.47 L295.39,557.71 L295.30,555.00 L295.39,552.35 L295.63,549.77 L296.05,547.26 L296.63,544.84 L297.37,542.50 L298.27,540.26 L299.33,538.13 L300.54,536.10 L301.91,534.18 L303.42,532.38 L305.08,530.71 L306.88,529.16 L308.81,527.75 L310.87,526.47 L313.05,525.33 L315.35,524.33 L317.76,523.48 L320.28,522.78 L322.90,522.22 L325.60,521.82 L328.39,521.57 L331.25,521.47 L334.18,521.52 L337.17,521.73 L340.22,522.09 L343.30,522.60 L346.42,523.27 L349.57,524.08 L352.73,525.03 L355.90,526.13 L359.07,527.37 L362.23,528.75 L365.38,530.26 L368.50,531.90 L371.58,533.66 L374.63,535.55 L377.62,537.54 L380.55,539.65 L383.41,541.86 L386.20,544.17 L388.90,546.57 L391.52,549.05 L394.04,551.61 L396.45,554.25 L398.75,556.94 L400.93,559.69 L402.99,562.49 L404.92,565.33 L406.72,568.20 L408.38,571.10 L409.89,574.01 L411.26,576.94 L412.47,579.86 L413.53,582.78 L414.43,585.69 L415.17,588.57 L415.75,591.42 L416.17,594.23 L416.41,596.99 L416.50,599.70Z" fill="none" stroke="#b8b8b8" stroke-width="1.45" stroke-dasharray="5.3,2.8"/>
<path d="M378.44,586.70 L378.41,587.66 L378.32,588.59 L378.16,589.49 L377.95,590.36 L377.67,591.19 L377.34,591.98 L376.94,592.73 L376.49,593.44 L375.98,594.11 L375.42,594.73 L374.80,595.30 L374.13,595.83 L373.42,596.30 L372.65,596.72 L371.84,597.09 L370.98,597.40 L370.08,597.66 L369.15,597.87 L368.18,598.01 L367.17,598.10 L366.13,598.14 L365.07,598.11 L363.98,598.03 L362.87,597.89 L361.73,597.70 L360.59,597.45 L359.43,597.15 L358.26,596.79 L357.08,596.38 L355.90,595.91 L354.72,595.40 L353.54,594.83 L352.37,594.22 L351.21,593.56 L350.07,592.86 L348.93,592.11 L347.82,591.33 L346.73,590.50 L345.67,589.64 L344.63,588.75 L343.62,587.82 L342.65,586.87 L341.72,585.89 L340.82,584.89 L339.96,583.86 L339.15,582.82 L338.38,581.76 L337.67,580.69 L337.00,579.62 L336.38,578.53 L335.82,577.44 L335.31,576.36 L334.86,575.27 L334.46,574.19 L334.13,573.12 L333.85,572.06 L333.64,571.02 L333.48,569.99 L333.39,568.98 L333.36,568.00 L333.39,567.04 L333.48,566.11 L333.64,565.21 L333.85,564.34 L334.13,563.51 L334.46,562.72 L334.86,561.97 L335.31,561.26 L335.82,560.59 L336.38,559.97 L337.00,559.40 L337.67,558.87 L338.38,558.40 L339.15,557.98 L339.96,557.61 L340.82,557.30 L341.72,557.04 L342.65,556.83 L343.62,556.69 L344.63,556.60 L345.67,556.56 L346.73,556.59 L347.82,556.67 L348.93,556.81 L350.07,557.00 L351.21,557.25 L352.37,557.55 L353.54,557.91 L354.72,558.32 L355.90,558.79 L357.08,559.30 L358.26,559.87 L359.43,560.48 L360.59,561.14 L361.73,561.84 L362.87,562.59 L363.98,563.37 L365.07,564.20 L366.13,565.06 L367.17,565.95 L368.18,566.88 L369.15,567.83 L370.08,568.81 L370.98,569.81 L371.84,570.84 L372.65,571.88 L373.42,572.94 L374.13,574.01 L374.80,575.08 L375.42,576.17 L375.98,577.26 L376.49,578.34 L376.94,579.43 L377.34,580.51 L377.67,581.58 L377.95,582.64 L378.16,583.68 L378.32,584.71 L378.41,585.72 L378.44,586.70Z" fill="none" stroke="#737373" stroke-width="1.3"/>
<path d="M392.85,592.68 L392.80,594.26 L392.65,595.78 L392.40,597.26 L392.04,598.68 L391.59,600.04 L391.04,601.34 L390.40,602.57 L389.66,603.74 L388.82,604.83 L387.90,605.84 L386.89,606.78 L385.79,607.64 L384.62,608.42 L383.36,609.11 L382.03,609.71 L380.62,610.22 L379.15,610.65 L377.62,610.98 L376.02,611.22 L374.38,611.37 L372.67,611.42 L370.93,611.39 L369.14,611.25 L367.32,611.03 L365.46,610.71 L363.58,610.30 L361.68,609.80 L359.76,609.22 L357.83,608.54 L355.90,607.78 L353.97,606.94 L352.04,606.01 L350.12,605.01 L348.22,603.93 L346.34,602.77 L344.48,601.55 L342.66,600.26 L340.87,598.91 L339.13,597.50 L337.42,596.04 L335.78,594.52 L334.18,592.96 L332.65,591.35 L331.18,589.70 L329.77,588.02 L328.44,586.32 L327.18,584.58 L326.01,582.83 L324.91,581.06 L323.90,579.29 L322.98,577.50 L322.14,575.72 L321.40,573.94 L320.76,572.17 L320.21,570.41 L319.76,568.68 L319.40,566.97 L319.15,565.28 L319.00,563.63 L318.95,562.02 L319.00,560.44 L319.15,558.92 L319.40,557.44 L319.76,556.02 L320.21,554.66 L320.76,553.36 L321.40,552.13 L322.14,550.96 L322.98,549.87 L323.90,548.86 L324.91,547.92 L326.01,547.06 L327.18,546.28 L328.44,545.59 L329.77,544.99 L331.18,544.48 L332.65,544.05 L334.18,543.72 L335.78,543.48 L337.42,543.33 L339.13,543.28 L340.87,543.31 L342.66,543.45 L344.48,543.67 L346.34,543.99 L348.22,544.40 L350.12,544.90 L352.04,545.48 L353.97,546.16 L355.90,546.92 L357.83,547.76 L359.76,548.69 L361.68,549.69 L363.58,550.77 L365.46,551.93 L367.32,553.15 L369.14,554.44 L370.93,555.79 L372.67,557.20 L374.38,558.66 L376.02,560.18 L377.62,561.74 L379.15,563.35 L380.62,565.00 L382.03,566.68 L383.36,568.38 L384.62,570.12 L385.79,571.87 L386.89,573.64 L387.90,575.41 L388.82,577.20 L389.66,578.98 L390.40,580.76 L391.04,582.53 L391.59,584.29 L392.04,586.02 L392.40,587.73 L392.65,589.42 L392.80,591.07 L392.85,592.68Z" fill="none" stroke="#737373" stroke-width="1.3"/>
<circle cx="301.2" cy="536.9" r="3.4" fill="#804816" fill-opacity="0.75" stroke="#804816" stroke-opacity="0.75" stroke-width="1.2"/>
<circle cx="339.4" cy="537.9" r="3.4" fill="#f6f600" fill-opacity="0.75" stroke="#f6f600" stroke-opacity="0.75" stroke-width="1.2"/>
<circle cx="376.8" cy="551.7" r="3.4" fill="#8e9826" fill-opacity="0.75" stroke="#8e9826" stroke-opacity="0.75" stroke-width="1.2"/>
<circle cx="342.4" cy="558.2" r="3.4" fill="#804816" fill-opacity="0.75" stroke="#804816" stroke-opacity="0.75" stroke-width="1.2"/>
<circle cx="366.1" cy="561.2" r="3.4" fill="#111111" fill-opacity="0.75" stroke="#111111" stroke-opacity="0.75" stroke-width="1.2"/>
<circle cx="362.4" cy="561.9" r="3.4" fill="#8e9826" fill-opacity="0.75" stroke="#8e9826" stroke-opacity="0.75" stroke-width="1.2"/>
<circle cx="389.8" cy="563.7" r="3.4" fill="#111111" fill-opacity="0.75" stroke="#111111" stroke-opacity="0.75" stroke-width="1.2"/>
<circle cx="341.1" cy="570.6" r="3.4" fill="#804816" fill-opacity="0.75" stroke="#804816" stroke-opacity="0.75" stroke-width="1.2"/>
<circle cx="370.6" cy="569.9" r="3.4" fill="#0c730c" fill-opacity="0.75" stroke="#0c730c" stroke-opacity="0.75" stroke-width="1.2"/>
<circle cx="320.7" cy="573.1" r="3.4" fill="#8e9826" fill-opacity="0.75" stroke="#8e9826" stroke-opacity="0.75" stroke-width="1.2"/>
<circle cx="367.9" cy="574.4" r="3.4" fill="#f6f600" fill-opacity="0.75" stroke="#f6f600" stroke-opacity="0.75" stroke-width="1.2"/>
<circle cx="331.2" cy="574.4" r="3.4" fill="#0c730c" fill-opacity="0.75" stroke="#0c730c" stroke-opacity="0.75" stroke-width="1.2"/>
<circle cx="336.6" cy="577.4" r="3.4" fill="#111111" fill-opacity="0.75" stroke="#111111" stroke-opacity="0.75" stroke-width="1.2"/>
<circle cx="350.4" cy="576.9" r="3.4" fill="#111111" fill-opacity="0.75" stroke="#111111" stroke-opacity="0.75" stroke-width="1.2"/>
<circle cx="371.1" cy="584.1" r="3.4" fill="#0c730c" fill-opacity="0.75" stroke="#0c730c" stroke-opacity="0.75" stroke-width="1.2"/>
<circle cx="352.9" cy="591.1" r="3.4" fill="#8e9826" fill-opacity="0.75" stroke="#8e9826" stroke-opacity="0.75" stroke-width="1.2"/>
<circle cx="344.9" cy="594.1" r="3.4" fill="#111111" fill-opacity="0.75" stroke="#111111" stroke-opacity="0.75" stroke-width="1.2"/>
<circle cx="356.1" cy="596.1" r="3.4" fill="#111111" fill-opacity="0.75" stroke="#111111" stroke-opacity="0.75" stroke-width="1.2"/>
<circle cx="362.9" cy="607.3" r="3.4" fill="#0c730c" fill-opacity="0.75" stroke="#0c730c" stroke-opacity="0.75" stroke-width="1.2"/>
<circle cx="367.4" cy="618.6" r="3.4" fill="#0c730c" fill-opacity="0.75" stroke="#0c730c" stroke-opacity="0.75" stroke-width="1.2"/>
<circle cx="369.1" cy="619.1" r="3.4" fill="#111111" fill-opacity="0.75" stroke="#111111" stroke-opacity="0.75" stroke-width="1.2"/>
<circle cx="419.3" cy="604.8" r="3.4" fill="#111111" fill-opacity="0.75" stroke="#111111" stroke-opacity="0.75" stroke-width="1.2"/>
</g>
<text x="390.2" y="558.1" font-size="10.2" fill="#0a0a0a" font-weight="bold" textLength="27.5" lengthAdjust="spacingAndGlyphs" stroke="#0a0a0a" stroke-width="0.25">2003</text>
<text x="315.8" y="594.8" font-size="10.2" fill="#0a0a0a" font-weight="bold" textLength="27.5" lengthAdjust="spacingAndGlyphs" stroke="#0a0a0a" stroke-width="0.25">2005</text>
<text x="395.7" y="597.3" font-size="10.2" fill="#0a0a0a" font-weight="bold" textLength="27.5" lengthAdjust="spacingAndGlyphs" stroke="#0a0a0a" stroke-width="0.25">2022</text>
<text x="372.4" y="628.5" font-size="10.2" fill="#0a0a0a" font-weight="bold" textLength="27.3" lengthAdjust="spacingAndGlyphs" stroke="#0a0a0a" stroke-width="0.25">2017</text>
<rect x="282.0" y="509.2" width="147.80" height="136.30" fill="none" stroke="#2c2c2c" stroke-width="1.4"/>
<line x1="282.0" y1="645.5" x2="282.0" y2="650.5" stroke="#1e1e1e" stroke-width="1.1"/>
<text x="282.0" y="664.9" font-size="12" fill="#262626" text-anchor="middle" textLength="14.0" lengthAdjust="spacingAndGlyphs" stroke="#262626" stroke-width="0.22">20</text>
<line x1="340.6" y1="645.5" x2="340.6" y2="650.5" stroke="#1e1e1e" stroke-width="1.1"/>
<text x="340.6" y="664.9" font-size="12" fill="#262626" text-anchor="middle" textLength="14.0" lengthAdjust="spacingAndGlyphs" stroke="#262626" stroke-width="0.22">21</text>
<line x1="399.3" y1="645.5" x2="399.3" y2="650.5" stroke="#1e1e1e" stroke-width="1.1"/>
<text x="399.3" y="664.9" font-size="12" fill="#262626" text-anchor="middle" textLength="14.0" lengthAdjust="spacingAndGlyphs" stroke="#262626" stroke-width="0.22">22</text>
<clipPath id="c33"><rect x="529.3" y="507.6" width="148.20" height="137.20"/></clipPath>
<g clip-path="url(#c33)">
<line x1="603.4" y1="507.6" x2="603.4" y2="644.8" stroke="#959595" stroke-width="0.8" stroke-dasharray="2.8,1.8"/>
<line x1="529.3" y1="576.0" x2="677.5" y2="576.0" stroke="#959595" stroke-width="0.8" stroke-dasharray="2.8,1.8"/>
<path d="M664.16,527.20 L664.08,528.72 L663.83,530.36 L663.41,532.13 L662.83,534.02 L662.09,536.02 L661.19,538.14 L660.13,540.35 L658.91,542.67 L657.54,545.08 L656.02,547.57 L654.36,550.14 L652.56,552.78 L650.62,555.48 L648.55,558.24 L646.37,561.05 L644.06,563.90 L641.64,566.78 L639.12,569.69 L636.49,572.62 L633.78,575.55 L630.99,578.49 L628.11,581.42 L625.18,584.33 L622.18,587.22 L619.13,590.08 L616.03,592.90 L612.91,595.68 L609.75,598.40 L606.58,601.06 L603.40,603.65 L600.22,606.17 L597.05,608.60 L593.89,610.95 L590.77,613.20 L587.67,615.34 L584.62,617.38 L581.62,619.30 L578.69,621.11 L575.81,622.79 L573.02,624.35 L570.31,625.77 L567.68,627.05 L565.16,628.20 L562.74,629.20 L560.43,630.06 L558.25,630.77 L556.18,631.33 L554.24,631.73 L552.44,631.99 L550.78,632.09 L549.26,632.03 L547.89,631.83 L546.67,631.47 L545.61,630.95 L544.71,630.29 L543.97,629.48 L543.39,628.52 L542.97,627.42 L542.72,626.18 L542.64,624.80 L542.72,623.28 L542.97,621.64 L543.39,619.87 L543.97,617.98 L544.71,615.98 L545.61,613.86 L546.67,611.65 L547.89,609.33 L549.26,606.92 L550.78,604.43 L552.44,601.86 L554.24,599.22 L556.18,596.52 L558.25,593.76 L560.43,590.95 L562.74,588.10 L565.16,585.22 L567.68,582.31 L570.31,579.38 L573.02,576.45 L575.81,573.51 L578.69,570.58 L581.62,567.67 L584.62,564.78 L587.67,561.92 L590.77,559.10 L593.89,556.32 L597.05,553.60 L600.22,550.94 L603.40,548.35 L606.58,545.83 L609.75,543.40 L612.91,541.05 L616.03,538.80 L619.13,536.66 L622.18,534.62 L625.18,532.70 L628.11,530.89 L630.99,529.21 L633.78,527.65 L636.49,526.23 L639.12,524.95 L641.64,523.80 L644.06,522.80 L646.37,521.94 L648.55,521.23 L650.62,520.67 L652.56,520.27 L654.36,520.01 L656.02,519.91 L657.54,519.97 L658.91,520.17 L660.13,520.53 L661.19,521.05 L662.09,521.71 L662.83,522.52 L663.41,523.48 L663.83,524.58 L664.08,525.82 L664.16,527.20Z" fill="none" stroke="#b8b8b8" stroke-width="1.45" stroke-dasharray="5.3,2.8"/>
<path d="M626.00,557.22 L625.97,557.73 L625.88,558.28 L625.72,558.88 L625.51,559.53 L625.23,560.22 L624.89,560.95 L624.50,561.73 L624.05,562.55 L623.54,563.40 L622.97,564.29 L622.35,565.21 L621.68,566.16 L620.96,567.13 L620.20,568.13 L619.38,569.15 L618.52,570.19 L617.62,571.25 L616.68,572.32 L615.71,573.40 L614.70,574.49 L613.66,575.58 L612.59,576.67 L611.50,577.76 L610.38,578.85 L609.25,579.92 L608.10,580.99 L606.94,582.04 L605.76,583.08 L604.58,584.10 L603.40,585.09 L602.22,586.06 L601.04,587.01 L599.86,587.92 L598.70,588.80 L597.55,589.64 L596.42,590.45 L595.30,591.22 L594.21,591.94 L593.14,592.63 L592.10,593.26 L591.09,593.85 L590.12,594.39 L589.18,594.88 L588.28,595.32 L587.42,595.71 L586.60,596.04 L585.84,596.31 L585.12,596.53 L584.45,596.70 L583.83,596.81 L583.26,596.86 L582.75,596.85 L582.30,596.79 L581.91,596.67 L581.57,596.49 L581.29,596.26 L581.08,595.97 L580.92,595.62 L580.83,595.23 L580.80,594.78 L580.83,594.27 L580.92,593.72 L581.08,593.12 L581.29,592.47 L581.57,591.78 L581.91,591.05 L582.30,590.27 L582.75,589.45 L583.26,588.60 L583.83,587.71 L584.45,586.79 L585.12,585.84 L585.84,584.87 L586.60,583.87 L587.42,582.85 L588.28,581.81 L589.18,580.75 L590.12,579.68 L591.09,578.60 L592.10,577.51 L593.14,576.42 L594.21,575.33 L595.30,574.24 L596.42,573.15 L597.55,572.08 L598.70,571.01 L599.86,569.96 L601.04,568.92 L602.22,567.90 L603.40,566.91 L604.58,565.94 L605.76,564.99 L606.94,564.08 L608.10,563.20 L609.25,562.36 L610.38,561.55 L611.50,560.78 L612.59,560.06 L613.66,559.37 L614.70,558.74 L615.71,558.15 L616.68,557.61 L617.62,557.12 L618.52,556.68 L619.38,556.29 L620.20,555.96 L620.96,555.69 L621.68,555.47 L622.35,555.30 L622.97,555.19 L623.54,555.14 L624.05,555.15 L624.50,555.21 L624.89,555.33 L625.23,555.51 L625.51,555.74 L625.72,556.03 L625.88,556.38 L625.97,556.77 L626.00,557.22Z" fill="none" stroke="#737373" stroke-width="1.3"/>
<path d="M640.45,545.22 L640.40,546.04 L640.25,546.95 L639.99,547.93 L639.64,548.99 L639.19,550.13 L638.64,551.33 L637.99,552.61 L637.25,553.94 L636.41,555.34 L635.49,556.80 L634.47,558.30 L633.37,559.86 L632.19,561.46 L630.93,563.10 L629.60,564.78 L628.19,566.48 L626.72,568.21 L625.18,569.97 L623.58,571.74 L621.92,573.52 L620.22,575.31 L618.47,577.10 L616.68,578.89 L614.85,580.67 L612.99,582.43 L611.10,584.18 L609.20,585.91 L607.27,587.61 L605.34,589.28 L603.40,590.91 L601.46,592.50 L599.53,594.04 L597.60,595.54 L595.70,596.98 L593.81,598.37 L591.95,599.69 L590.12,600.95 L588.33,602.14 L586.58,603.26 L584.88,604.30 L583.22,605.27 L581.62,606.15 L580.08,606.96 L578.61,607.67 L577.20,608.31 L575.87,608.85 L574.61,609.30 L573.43,609.66 L572.33,609.93 L571.31,610.11 L570.39,610.19 L569.55,610.18 L568.81,610.08 L568.16,609.88 L567.61,609.59 L567.16,609.21 L566.81,608.73 L566.55,608.17 L566.40,607.52 L566.35,606.78 L566.40,605.96 L566.55,605.05 L566.81,604.07 L567.16,603.01 L567.61,601.87 L568.16,600.67 L568.81,599.39 L569.55,598.06 L570.39,596.66 L571.31,595.20 L572.33,593.70 L573.43,592.14 L574.61,590.54 L575.87,588.90 L577.20,587.22 L578.61,585.52 L580.08,583.79 L581.62,582.03 L583.22,580.26 L584.88,578.48 L586.58,576.69 L588.33,574.90 L590.12,573.11 L591.95,571.33 L593.81,569.57 L595.70,567.82 L597.60,566.09 L599.53,564.39 L601.46,562.72 L603.40,561.09 L605.34,559.50 L607.27,557.96 L609.20,556.46 L611.10,555.02 L612.99,553.63 L614.85,552.31 L616.68,551.05 L618.47,549.86 L620.22,548.74 L621.92,547.70 L623.58,546.73 L625.18,545.85 L626.72,545.04 L628.19,544.33 L629.60,543.69 L630.93,543.15 L632.19,542.70 L633.37,542.34 L634.47,542.07 L635.49,541.89 L636.41,541.81 L637.25,541.82 L637.99,541.92 L638.64,542.12 L639.19,542.41 L639.64,542.79 L639.99,543.27 L640.25,543.83 L640.40,544.48 L640.45,545.22Z" fill="none" stroke="#737373" stroke-width="1.3"/>
<circle cx="666.8" cy="517.5" r="3.4" fill="#111111" fill-opacity="0.75" stroke="#111111" stroke-opacity="0.75" stroke-width="1.2"/>
<circle cx="615.1" cy="544.9" r="3.4" fill="#111111" fill-opacity="0.75" stroke="#111111" stroke-opacity="0.75" stroke-width="1.2"/>
<circle cx="606.4" cy="556.9" r="3.4" fill="#8e9826" fill-opacity="0.75" stroke="#8e9826" stroke-opacity="0.75" stroke-width="1.2"/>
<circle cx="608.1" cy="562.4" r="3.4" fill="#0c730c" fill-opacity="0.75" stroke="#0c730c" stroke-opacity="0.75" stroke-width="1.2"/>
<circle cx="615.1" cy="561.2" r="3.4" fill="#0c730c" fill-opacity="0.75" stroke="#0c730c" stroke-opacity="0.75" stroke-width="1.2"/>
<circle cx="616.8" cy="565.4" r="3.4" fill="#0c730c" fill-opacity="0.75" stroke="#0c730c" stroke-opacity="0.75" stroke-width="1.2"/>
<circle cx="620.8" cy="566.6" r="3.4" fill="#111111" fill-opacity="0.75" stroke="#111111" stroke-opacity="0.75" stroke-width="1.2"/>
<circle cx="637.1" cy="564.4" r="3.4" fill="#111111" fill-opacity="0.75" stroke="#111111" stroke-opacity="0.75" stroke-width="1.2"/>
<circle cx="597.1" cy="564.4" r="3.4" fill="#f6f600" fill-opacity="0.75" stroke="#f6f600" stroke-opacity="0.75" stroke-width="1.2"/>
<circle cx="597.1" cy="570.4" r="3.4" fill="#8e9826" fill-opacity="0.75" stroke="#8e9826" stroke-opacity="0.75" stroke-width="1.2"/>
<circle cx="610.9" cy="569.9" r="3.4" fill="#0c730c" fill-opacity="0.75" stroke="#0c730c" stroke-opacity="0.75" stroke-width="1.2"/>
<circle cx="612.6" cy="575.4" r="3.4" fill="#111111" fill-opacity="0.75" stroke="#111111" stroke-opacity="0.75" stroke-width="1.2"/>
<circle cx="615.1" cy="579.4" r="3.4" fill="#8e9826" fill-opacity="0.75" stroke="#8e9826" stroke-opacity="0.75" stroke-width="1.2"/>
<circle cx="606.9" cy="581.1" r="3.4" fill="#111111" fill-opacity="0.75" stroke="#111111" stroke-opacity="0.75" stroke-width="1.2"/>
<circle cx="609.4" cy="586.1" r="3.4" fill="#111111" fill-opacity="0.75" stroke="#111111" stroke-opacity="0.75" stroke-width="1.2"/>
<circle cx="575.9" cy="588.6" r="3.4" fill="#804816" fill-opacity="0.75" stroke="#804816" stroke-opacity="0.75" stroke-width="1.2"/>
<circle cx="586.4" cy="589.4" r="3.4" fill="#804816" fill-opacity="0.75" stroke="#804816" stroke-opacity="0.75" stroke-width="1.2"/>
<circle cx="588.9" cy="594.4" r="3.4" fill="#111111" fill-opacity="0.75" stroke="#111111" stroke-opacity="0.75" stroke-width="1.2"/>
<circle cx="588.9" cy="599.1" r="3.4" fill="#0c730c" fill-opacity="0.75" stroke="#0c730c" stroke-opacity="0.75" stroke-width="1.2"/>
<circle cx="561.4" cy="591.9" r="3.4" fill="#f6f600" fill-opacity="0.75" stroke="#f6f600" stroke-opacity="0.75" stroke-width="1.2"/>
<circle cx="567.7" cy="608.6" r="3.4" fill="#8e9826" fill-opacity="0.75" stroke="#8e9826" stroke-opacity="0.75" stroke-width="1.2"/>
<circle cx="558.4" cy="626.8" r="3.4" fill="#804816" fill-opacity="0.75" stroke="#804816" stroke-opacity="0.75" stroke-width="1.2"/>
</g>
<text x="635.4" y="518.7" font-size="10.2" fill="#0a0a0a" font-weight="bold" textLength="27.5" lengthAdjust="spacingAndGlyphs" stroke="#0a0a0a" stroke-width="0.25">2022</text>
<text x="615.9" y="539.9" font-size="10.2" fill="#0a0a0a" font-weight="bold" textLength="27.6" lengthAdjust="spacingAndGlyphs" stroke="#0a0a0a" stroke-width="0.25">2003</text>
<text x="637.7" y="561.6" font-size="10.2" fill="#0a0a0a" font-weight="bold" textLength="27.7" lengthAdjust="spacingAndGlyphs" stroke="#0a0a0a" stroke-width="0.25">2017</text>
<text x="610.2" y="598.1" font-size="10.2" fill="#0a0a0a" font-weight="bold" textLength="27.3" lengthAdjust="spacingAndGlyphs" stroke="#0a0a0a" stroke-width="0.25">2005</text>
<rect x="529.3" y="507.6" width="148.20" height="137.20" fill="none" stroke="#2c2c2c" stroke-width="1.4"/>
<line x1="535.7" y1="644.8" x2="535.7" y2="649.8" stroke="#1e1e1e" stroke-width="1.1"/>
<text x="535.7" y="664.2" font-size="12" fill="#262626" text-anchor="middle" textLength="14.0" lengthAdjust="spacingAndGlyphs" stroke="#262626" stroke-width="0.22">22</text>
<line x1="592.1" y1="644.8" x2="592.1" y2="649.8" stroke="#1e1e1e" stroke-width="1.1"/>
<text x="592.1" y="664.2" font-size="12" fill="#262626" text-anchor="middle" textLength="14.0" lengthAdjust="spacingAndGlyphs" stroke="#262626" stroke-width="0.22">24</text>
<line x1="648.8" y1="644.8" x2="648.8" y2="649.8" stroke="#1e1e1e" stroke-width="1.1"/>
<text x="648.8" y="664.2" font-size="12" fill="#262626" text-anchor="middle" textLength="14.0" lengthAdjust="spacingAndGlyphs" stroke="#262626" stroke-width="0.22">26</text>
<line x1="524.3" y1="535.7" x2="529.3" y2="535.7" stroke="#1e1e1e" stroke-width="1.1"/>
<text x="518.5" y="540.9" font-size="12" fill="#262626" text-anchor="end" textLength="24.5" lengthAdjust="spacingAndGlyphs" stroke="#262626" stroke-width="0.22">22.0</text>
<line x1="524.3" y1="590.4" x2="529.3" y2="590.4" stroke="#1e1e1e" stroke-width="1.1"/>
<text x="518.5" y="595.6" font-size="12" fill="#262626" text-anchor="end" textLength="24.5" lengthAdjust="spacingAndGlyphs" stroke="#262626" stroke-width="0.22">21.0</text>
<line x1="524.3" y1="644.8" x2="529.3" y2="644.8" stroke="#1e1e1e" stroke-width="1.1"/>
<text x="518.5" y="650.0" font-size="12" fill="#262626" text-anchor="end" textLength="24.5" lengthAdjust="spacingAndGlyphs" stroke="#262626" stroke-width="0.22">20.0</text>
<text x="0" y="0" font-size="11.2" fill="#262626" text-anchor="middle" textLength="46.8" lengthAdjust="spacingAndGlyphs" transform="translate(476.1,576.5) rotate(-90)" stroke="#262626" stroke-width="0.22">SST (°C)</text>
<clipPath id="c41"><rect x="107.5" y="693.0" width="148.80" height="138.00"/></clipPath>
<g clip-path="url(#c41)">
<line x1="181.9" y1="693.0" x2="181.9" y2="831.0" stroke="#959595" stroke-width="0.8" stroke-dasharray="2.8,1.8"/>
<line x1="107.5" y1="759.4" x2="256.3" y2="759.4" stroke="#959595" stroke-width="0.8" stroke-dasharray="2.8,1.8"/>
<path d="M242.91,792.07 L242.82,794.30 L242.57,796.44 L242.16,798.48 L241.57,800.41 L240.83,802.23 L239.92,803.93 L238.86,805.51 L237.63,806.96 L236.26,808.28 L234.73,809.47 L233.07,810.52 L231.26,811.43 L229.31,812.20 L227.24,812.82 L225.04,813.30 L222.72,813.63 L220.29,813.81 L217.76,813.84 L215.13,813.72 L212.40,813.46 L209.60,813.04 L206.71,812.48 L203.76,811.77 L200.75,810.92 L197.69,809.93 L194.58,808.80 L191.44,807.53 L188.28,806.13 L185.09,804.61 L181.90,802.96 L178.71,801.19 L175.52,799.30 L172.36,797.31 L169.22,795.21 L166.11,793.02 L163.05,790.73 L160.04,788.36 L157.09,785.90 L154.20,783.38 L151.40,780.79 L148.67,778.14 L146.04,775.44 L143.51,772.69 L141.08,769.91 L138.76,767.10 L136.56,764.27 L134.49,761.42 L132.54,758.57 L130.73,755.73 L129.07,752.89 L127.54,750.07 L126.17,747.27 L124.94,744.51 L123.88,741.79 L122.97,739.12 L122.23,736.50 L121.64,733.95 L121.23,731.46 L120.98,729.06 L120.89,726.73 L120.98,724.50 L121.23,722.36 L121.64,720.32 L122.23,718.39 L122.97,716.57 L123.88,714.87 L124.94,713.29 L126.17,711.84 L127.54,710.52 L129.07,709.33 L130.73,708.28 L132.54,707.37 L134.49,706.60 L136.56,705.98 L138.76,705.50 L141.08,705.17 L143.51,704.99 L146.04,704.96 L148.67,705.08 L151.40,705.34 L154.20,705.76 L157.09,706.32 L160.04,707.03 L163.05,707.88 L166.11,708.87 L169.22,710.00 L172.36,711.27 L175.52,712.67 L178.71,714.19 L181.90,715.84 L185.09,717.61 L188.28,719.50 L191.44,721.49 L194.58,723.59 L197.69,725.78 L200.75,728.07 L203.76,730.44 L206.71,732.90 L209.60,735.42 L212.40,738.01 L215.13,740.66 L217.76,743.36 L220.29,746.11 L222.72,748.89 L225.04,751.70 L227.24,754.53 L229.31,757.38 L231.26,760.23 L233.07,763.07 L234.73,765.91 L236.26,768.73 L237.63,771.53 L238.86,774.29 L239.92,777.01 L240.83,779.68 L241.57,782.30 L242.16,784.85 L242.57,787.34 L242.82,789.74 L242.91,792.07Z" fill="none" stroke="#b8b8b8" stroke-width="1.45" stroke-dasharray="5.3,2.8"/>
<path d="M204.59,771.55 L204.56,772.38 L204.47,773.18 L204.31,773.94 L204.10,774.65 L203.82,775.33 L203.48,775.96 L203.08,776.55 L202.63,777.09 L202.12,777.58 L201.55,778.02 L200.93,778.41 L200.26,778.75 L199.53,779.04 L198.76,779.27 L197.95,779.45 L197.08,779.57 L196.18,779.64 L195.24,779.65 L194.26,779.61 L193.25,779.51 L192.20,779.35 L191.13,779.14 L190.03,778.88 L188.91,778.56 L187.77,778.19 L186.62,777.77 L185.45,777.30 L184.27,776.78 L183.09,776.22 L181.90,775.60 L180.71,774.94 L179.53,774.24 L178.35,773.50 L177.18,772.72 L176.03,771.90 L174.89,771.05 L173.77,770.17 L172.67,769.26 L171.60,768.32 L170.55,767.36 L169.54,766.37 L168.56,765.37 L167.62,764.34 L166.72,763.31 L165.85,762.26 L165.04,761.21 L164.27,760.15 L163.54,759.09 L162.87,758.03 L162.25,756.98 L161.68,755.93 L161.17,754.89 L160.72,753.86 L160.32,752.85 L159.98,751.86 L159.70,750.88 L159.49,749.93 L159.33,749.01 L159.24,748.11 L159.21,747.25 L159.24,746.42 L159.33,745.62 L159.49,744.86 L159.70,744.15 L159.98,743.47 L160.32,742.84 L160.72,742.25 L161.17,741.71 L161.68,741.22 L162.25,740.78 L162.87,740.39 L163.54,740.05 L164.27,739.76 L165.04,739.53 L165.85,739.35 L166.72,739.23 L167.62,739.16 L168.56,739.15 L169.54,739.19 L170.55,739.29 L171.60,739.45 L172.67,739.66 L173.77,739.92 L174.89,740.24 L176.03,740.61 L177.18,741.03 L178.35,741.50 L179.53,742.02 L180.71,742.58 L181.90,743.20 L183.09,743.86 L184.27,744.56 L185.45,745.30 L186.62,746.08 L187.77,746.90 L188.91,747.75 L190.03,748.63 L191.13,749.54 L192.20,750.48 L193.25,751.44 L194.26,752.43 L195.24,753.43 L196.18,754.46 L197.08,755.49 L197.95,756.54 L198.76,757.59 L199.53,758.65 L200.26,759.71 L200.93,760.77 L201.55,761.82 L202.12,762.87 L202.63,763.91 L203.08,764.94 L203.48,765.95 L203.82,766.94 L204.10,767.92 L204.31,768.87 L204.47,769.79 L204.56,770.69 L204.59,771.55Z" fill="none" stroke="#737373" stroke-width="1.3"/>
<path d="M219.10,779.32 L219.05,780.68 L218.90,781.99 L218.64,783.23 L218.29,784.41 L217.83,785.52 L217.28,786.55 L216.63,787.52 L215.88,788.40 L215.05,789.21 L214.12,789.93 L213.10,790.57 L212.00,791.13 L210.81,791.60 L209.54,791.98 L208.20,792.27 L206.79,792.47 L205.31,792.58 L203.77,792.60 L202.16,792.52 L200.50,792.36 L198.79,792.11 L197.03,791.77 L195.23,791.33 L193.40,790.82 L191.53,790.21 L189.63,789.52 L187.72,788.75 L185.79,787.90 L183.85,786.97 L181.90,785.96 L179.95,784.88 L178.01,783.73 L176.08,782.52 L174.17,781.24 L172.27,779.90 L170.40,778.50 L168.57,777.06 L166.77,775.56 L165.01,774.02 L163.30,772.44 L161.64,770.83 L160.03,769.18 L158.49,767.50 L157.01,765.81 L155.60,764.10 L154.26,762.37 L152.99,760.63 L151.80,758.90 L150.70,757.16 L149.68,755.43 L148.75,753.71 L147.92,752.01 L147.17,750.32 L146.52,748.66 L145.97,747.03 L145.51,745.44 L145.16,743.88 L144.90,742.37 L144.75,740.90 L144.70,739.48 L144.75,738.12 L144.90,736.81 L145.16,735.57 L145.51,734.39 L145.97,733.28 L146.52,732.25 L147.17,731.28 L147.92,730.40 L148.75,729.59 L149.68,728.87 L150.70,728.23 L151.80,727.67 L152.99,727.20 L154.26,726.82 L155.60,726.53 L157.01,726.33 L158.49,726.22 L160.03,726.20 L161.64,726.28 L163.30,726.44 L165.01,726.69 L166.77,727.03 L168.57,727.47 L170.40,727.98 L172.27,728.59 L174.17,729.28 L176.08,730.05 L178.01,730.90 L179.95,731.83 L181.90,732.84 L183.85,733.92 L185.79,735.07 L187.72,736.28 L189.63,737.56 L191.53,738.90 L193.40,740.30 L195.23,741.74 L197.03,743.24 L198.79,744.78 L200.50,746.36 L202.16,747.97 L203.77,749.62 L205.31,751.30 L206.79,752.99 L208.20,754.70 L209.54,756.43 L210.81,758.17 L212.00,759.90 L213.10,761.64 L214.12,763.37 L215.05,765.09 L215.88,766.79 L216.63,768.48 L217.28,770.14 L217.83,771.77 L218.29,773.36 L218.64,774.92 L218.90,776.43 L219.05,777.90 L219.10,779.32Z" fill="none" stroke="#737373" stroke-width="1.3"/>
<circle cx="144.4" cy="717.4" r="3.4" fill="#8e9826" fill-opacity="0.75" stroke="#8e9826" stroke-opacity="0.75" stroke-width="1.2"/>
<circle cx="149.9" cy="715.7" r="3.4" fill="#f6f600" fill-opacity="0.75" stroke="#f6f600" stroke-opacity="0.75" stroke-width="1.2"/>
<circle cx="153.9" cy="722.4" r="3.4" fill="#f6f600" fill-opacity="0.75" stroke="#f6f600" stroke-opacity="0.75" stroke-width="1.2"/>
<circle cx="141.9" cy="737.4" r="3.4" fill="#f6f600" fill-opacity="0.75" stroke="#f6f600" stroke-opacity="0.75" stroke-width="1.2"/>
<circle cx="163.7" cy="739.4" r="3.4" fill="#8e9826" fill-opacity="0.75" stroke="#8e9826" stroke-opacity="0.75" stroke-width="1.2"/>
<circle cx="184.4" cy="739.4" r="3.4" fill="#8e9826" fill-opacity="0.75" stroke="#8e9826" stroke-opacity="0.75" stroke-width="1.2"/>
<circle cx="204.3" cy="745.4" r="3.4" fill="#8e9826" fill-opacity="0.75" stroke="#8e9826" stroke-opacity="0.75" stroke-width="1.2"/>
<circle cx="183.6" cy="758.6" r="3.4" fill="#111111" fill-opacity="0.75" stroke="#111111" stroke-opacity="0.75" stroke-width="1.2"/>
<circle cx="193.1" cy="756.1" r="3.4" fill="#8e9826" fill-opacity="0.75" stroke="#8e9826" stroke-opacity="0.75" stroke-width="1.2"/>
<circle cx="149.4" cy="762.4" r="3.4" fill="#8e9826" fill-opacity="0.75" stroke="#8e9826" stroke-opacity="0.75" stroke-width="1.2"/>
<circle cx="168.1" cy="770.4" r="3.4" fill="#8e9826" fill-opacity="0.75" stroke="#8e9826" stroke-opacity="0.75" stroke-width="1.2"/>
<circle cx="179.4" cy="768.6" r="3.4" fill="#8e9826" fill-opacity="0.75" stroke="#8e9826" stroke-opacity="0.75" stroke-width="1.2"/>
<circle cx="183.6" cy="771.9" r="3.4" fill="#8e9826" fill-opacity="0.75" stroke="#8e9826" stroke-opacity="0.75" stroke-width="1.2"/>
<circle cx="203.1" cy="767.4" r="3.4" fill="#8e9826" fill-opacity="0.75" stroke="#8e9826" stroke-opacity="0.75" stroke-width="1.2"/>
<circle cx="175.1" cy="776.1" r="3.4" fill="#0c730c" fill-opacity="0.75" stroke="#0c730c" stroke-opacity="0.75" stroke-width="1.2"/>
<circle cx="186.9" cy="778.6" r="3.4" fill="#111111" fill-opacity="0.75" stroke="#111111" stroke-opacity="0.75" stroke-width="1.2"/>
<circle cx="203.6" cy="777.4" r="3.4" fill="#111111" fill-opacity="0.75" stroke="#111111" stroke-opacity="0.75" stroke-width="1.2"/>
<circle cx="204.8" cy="783.1" r="3.4" fill="#804816" fill-opacity="0.75" stroke="#804816" stroke-opacity="0.75" stroke-width="1.2"/>
<circle cx="184.9" cy="784.8" r="3.4" fill="#0c730c" fill-opacity="0.75" stroke="#0c730c" stroke-opacity="0.75" stroke-width="1.2"/>
<circle cx="231.8" cy="775.4" r="3.4" fill="#111111" fill-opacity="0.75" stroke="#111111" stroke-opacity="0.75" stroke-width="1.2"/>
<circle cx="225.6" cy="783.1" r="3.4" fill="#8e9826" fill-opacity="0.75" stroke="#8e9826" stroke-opacity="0.75" stroke-width="1.2"/>
</g>
<text x="157.3" y="755.6" font-size="10.2" fill="#0a0a0a" font-weight="bold" textLength="26.7" lengthAdjust="spacingAndGlyphs" stroke="#0a0a0a" stroke-width="0.25">2007</text>
<text x="204.4" y="771.6" font-size="10.2" fill="#0a0a0a" font-weight="bold" textLength="27.0" lengthAdjust="spacingAndGlyphs" stroke="#0a0a0a" stroke-width="0.25">2017</text>
<text x="232.1" y="769.8" font-size="10.2" fill="#0a0a0a" font-weight="bold" textLength="27.1" lengthAdjust="spacingAndGlyphs" stroke="#0a0a0a" stroke-width="0.25">2012</text>
<text x="166.5" y="791.8" font-size="10.2" fill="#0a0a0a" font-weight="bold" textLength="27.0" lengthAdjust="spacingAndGlyphs" stroke="#0a0a0a" stroke-width="0.25">2021</text>
<text x="225.9" y="795.5" font-size="10.2" fill="#8f9a3a" font-weight="bold" textLength="27.0" lengthAdjust="spacingAndGlyphs" stroke="#8f9a3a" stroke-width="0.25">2022</text>
<rect x="107.5" y="693.0" width="148.80" height="138.00" fill="none" stroke="#2c2c2c" stroke-width="1.4"/>
<line x1="141.2" y1="831.0" x2="141.2" y2="836.0" stroke="#1e1e1e" stroke-width="1.1"/>
<text x="141.2" y="850.4" font-size="12" fill="#262626" text-anchor="middle" textLength="14.0" lengthAdjust="spacingAndGlyphs" stroke="#262626" stroke-width="0.22">22</text>
<line x1="174.7" y1="831.0" x2="174.7" y2="836.0" stroke="#1e1e1e" stroke-width="1.1"/>
<text x="174.7" y="850.4" font-size="12" fill="#262626" text-anchor="middle" textLength="14.0" lengthAdjust="spacingAndGlyphs" stroke="#262626" stroke-width="0.22">23</text>
<line x1="208.1" y1="831.0" x2="208.1" y2="836.0" stroke="#1e1e1e" stroke-width="1.1"/>
<text x="208.1" y="850.4" font-size="12" fill="#262626" text-anchor="middle" textLength="14.0" lengthAdjust="spacingAndGlyphs" stroke="#262626" stroke-width="0.22">24</text>
<line x1="241.6" y1="831.0" x2="241.6" y2="836.0" stroke="#1e1e1e" stroke-width="1.1"/>
<text x="241.6" y="850.4" font-size="12" fill="#262626" text-anchor="middle" textLength="14.0" lengthAdjust="spacingAndGlyphs" stroke="#262626" stroke-width="0.22">25</text>
<line x1="102.5" y1="732.8" x2="107.5" y2="732.8" stroke="#1e1e1e" stroke-width="1.1"/>
<text x="96.7" y="738.0" font-size="12" fill="#262626" text-anchor="end" textLength="17.5" lengthAdjust="spacingAndGlyphs" stroke="#262626" stroke-width="0.22">3.0</text>
<line x1="102.5" y1="765.6" x2="107.5" y2="765.6" stroke="#1e1e1e" stroke-width="1.1"/>
<text x="96.7" y="770.8" font-size="12" fill="#262626" text-anchor="end" textLength="17.5" lengthAdjust="spacingAndGlyphs" stroke="#262626" stroke-width="0.22">2.5</text>
<line x1="102.5" y1="798.5" x2="107.5" y2="798.5" stroke="#1e1e1e" stroke-width="1.1"/>
<text x="96.7" y="803.7" font-size="12" fill="#262626" text-anchor="end" textLength="17.5" lengthAdjust="spacingAndGlyphs" stroke="#262626" stroke-width="0.22">2.0</text>
<line x1="102.5" y1="831.0" x2="107.5" y2="831.0" stroke="#1e1e1e" stroke-width="1.1"/>
<text x="96.7" y="836.2" font-size="12" fill="#262626" text-anchor="end" textLength="17.5" lengthAdjust="spacingAndGlyphs" stroke="#262626" stroke-width="0.22">1.5</text>
<text x="181.9" y="876.7" font-size="11.2" fill="#262626" text-anchor="middle" textLength="49.3" lengthAdjust="spacingAndGlyphs" stroke="#262626" stroke-width="0.22">T2M (°C)</text>
<text x="0" y="0" font-size="11.2" fill="#262626" text-anchor="middle" textLength="117.8" lengthAdjust="spacingAndGlyphs" transform="translate(61.2,762.2) rotate(-90)" stroke="#262626" stroke-width="0.22">Accum. precip. (mm)</text>
<clipPath id="c42"><rect x="281.2" y="693.0" width="148.60" height="138.00"/></clipPath>
<g clip-path="url(#c42)">
<line x1="355.5" y1="693.0" x2="355.5" y2="831.0" stroke="#959595" stroke-width="0.8" stroke-dasharray="2.8,1.8"/>
<line x1="281.2" y1="759.4" x2="429.8" y2="759.4" stroke="#959595" stroke-width="0.8" stroke-dasharray="2.8,1.8"/>
<path d="M416.43,778.46 L416.34,781.10 L416.09,783.68 L415.68,786.20 L415.09,788.64 L414.35,791.01 L413.44,793.29 L412.38,795.47 L411.16,797.55 L409.79,799.54 L408.26,801.41 L406.60,803.16 L404.79,804.80 L402.85,806.31 L400.78,807.69 L398.58,808.94 L396.27,810.05 L393.84,811.03 L391.31,811.86 L388.68,812.55 L385.96,813.10 L383.16,813.50 L380.28,813.75 L377.33,813.85 L374.33,813.80 L371.27,813.60 L368.17,813.25 L365.03,812.76 L361.87,812.12 L358.69,811.33 L355.50,810.40 L352.31,809.34 L349.13,808.13 L345.97,806.80 L342.83,805.33 L339.73,803.73 L336.67,802.02 L333.67,800.19 L330.72,798.24 L327.84,796.19 L325.04,794.04 L322.32,791.80 L319.69,789.46 L317.16,787.04 L314.73,784.55 L312.42,781.99 L310.22,779.37 L308.15,776.69 L306.21,773.96 L304.40,771.20 L302.74,768.40 L301.21,765.58 L299.84,762.74 L298.62,759.89 L297.56,757.04 L296.65,754.19 L295.91,751.36 L295.32,748.56 L294.91,745.78 L294.66,743.04 L294.57,740.34 L294.66,737.70 L294.91,735.12 L295.32,732.60 L295.91,730.16 L296.65,727.79 L297.56,725.51 L298.62,723.33 L299.84,721.25 L301.21,719.26 L302.74,717.39 L304.40,715.64 L306.21,714.00 L308.15,712.49 L310.22,711.11 L312.42,709.86 L314.73,708.75 L317.16,707.77 L319.69,706.94 L322.32,706.25 L325.04,705.70 L327.84,705.30 L330.72,705.05 L333.67,704.95 L336.67,705.00 L339.73,705.20 L342.83,705.55 L345.97,706.04 L349.13,706.68 L352.31,707.47 L355.50,708.40 L358.69,709.46 L361.87,710.67 L365.03,712.00 L368.17,713.47 L371.27,715.07 L374.33,716.78 L377.33,718.61 L380.28,720.56 L383.16,722.61 L385.96,724.76 L388.68,727.00 L391.31,729.34 L393.84,731.76 L396.27,734.25 L398.58,736.81 L400.78,739.43 L402.85,742.11 L404.79,744.84 L406.60,747.60 L408.26,750.40 L409.79,753.22 L411.16,756.06 L412.38,758.91 L413.44,761.76 L414.35,764.61 L415.09,767.44 L415.68,770.24 L416.09,773.02 L416.34,775.76 L416.43,778.46Z" fill="none" stroke="#b8b8b8" stroke-width="1.45" stroke-dasharray="5.3,2.8"/>
<path d="M378.16,768.51 L378.13,769.45 L378.04,770.35 L377.88,771.23 L377.67,772.07 L377.39,772.88 L377.05,773.66 L376.66,774.39 L376.20,775.08 L375.69,775.73 L375.13,776.34 L374.51,776.89 L373.83,777.40 L373.11,777.86 L372.34,778.27 L371.52,778.63 L370.66,778.94 L369.76,779.19 L368.82,779.39 L367.84,779.53 L366.83,779.62 L365.79,779.65 L364.72,779.63 L363.62,779.55 L362.50,779.42 L361.37,779.23 L360.21,778.99 L359.05,778.69 L357.87,778.34 L356.69,777.94 L355.50,777.49 L354.31,776.98 L353.13,776.43 L351.95,775.84 L350.79,775.20 L349.63,774.51 L348.50,773.78 L347.38,773.02 L346.28,772.22 L345.21,771.38 L344.17,770.51 L343.16,769.60 L342.18,768.67 L341.24,767.72 L340.34,766.74 L339.48,765.74 L338.66,764.73 L337.89,763.70 L337.17,762.66 L336.49,761.61 L335.87,760.55 L335.31,759.49 L334.80,758.43 L334.34,757.37 L333.95,756.32 L333.61,755.28 L333.33,754.25 L333.12,753.23 L332.96,752.23 L332.87,751.25 L332.84,750.29 L332.87,749.35 L332.96,748.45 L333.12,747.57 L333.33,746.73 L333.61,745.92 L333.95,745.14 L334.34,744.41 L334.80,743.72 L335.31,743.07 L335.87,742.46 L336.49,741.91 L337.17,741.40 L337.89,740.94 L338.66,740.53 L339.48,740.17 L340.34,739.86 L341.24,739.61 L342.18,739.41 L343.16,739.27 L344.17,739.18 L345.21,739.15 L346.28,739.17 L347.38,739.25 L348.50,739.38 L349.63,739.57 L350.79,739.81 L351.95,740.11 L353.13,740.46 L354.31,740.86 L355.50,741.31 L356.69,741.82 L357.87,742.37 L359.05,742.96 L360.21,743.60 L361.37,744.29 L362.50,745.02 L363.62,745.78 L364.72,746.58 L365.79,747.42 L366.83,748.29 L367.84,749.20 L368.82,750.13 L369.76,751.08 L370.66,752.06 L371.52,753.06 L372.34,754.07 L373.11,755.10 L373.83,756.14 L374.51,757.19 L375.13,758.25 L375.69,759.31 L376.20,760.37 L376.66,761.43 L377.05,762.48 L377.39,763.52 L377.67,764.55 L377.88,765.57 L378.04,766.57 L378.13,767.55 L378.16,768.51Z" fill="none" stroke="#737373" stroke-width="1.3"/>
<path d="M392.65,774.34 L392.60,775.87 L392.45,777.36 L392.19,778.79 L391.84,780.18 L391.38,781.50 L390.83,782.77 L390.18,783.97 L389.44,785.11 L388.60,786.17 L387.67,787.16 L386.66,788.08 L385.55,788.91 L384.37,789.67 L383.11,790.34 L381.77,790.93 L380.36,791.43 L378.88,791.84 L377.34,792.17 L375.73,792.40 L374.07,792.55 L372.37,792.60 L370.61,792.56 L368.81,792.43 L366.98,792.21 L365.12,791.91 L363.22,791.51 L361.31,791.02 L359.38,790.45 L357.44,789.79 L355.50,789.05 L353.56,788.23 L351.62,787.32 L349.69,786.35 L347.78,785.29 L345.88,784.17 L344.02,782.98 L342.19,781.73 L340.39,780.41 L338.63,779.03 L336.93,777.61 L335.27,776.13 L333.66,774.60 L332.12,773.04 L330.64,771.44 L329.23,769.80 L327.89,768.14 L326.63,766.45 L325.45,764.74 L324.34,763.02 L323.33,761.29 L322.40,759.55 L321.56,757.81 L320.82,756.08 L320.17,754.35 L319.62,752.64 L319.16,750.95 L318.81,749.28 L318.55,747.64 L318.40,746.03 L318.35,744.46 L318.40,742.93 L318.55,741.44 L318.81,740.01 L319.16,738.62 L319.62,737.30 L320.17,736.03 L320.82,734.83 L321.56,733.69 L322.40,732.63 L323.33,731.64 L324.34,730.72 L325.45,729.89 L326.63,729.13 L327.89,728.46 L329.23,727.87 L330.64,727.37 L332.12,726.96 L333.66,726.63 L335.27,726.40 L336.92,726.25 L338.63,726.20 L340.39,726.24 L342.19,726.37 L344.02,726.59 L345.88,726.89 L347.78,727.29 L349.69,727.78 L351.62,728.35 L353.56,729.01 L355.50,729.75 L357.44,730.57 L359.38,731.48 L361.31,732.45 L363.22,733.51 L365.12,734.63 L366.98,735.82 L368.81,737.07 L370.61,738.39 L372.37,739.77 L374.07,741.19 L375.73,742.67 L377.34,744.20 L378.88,745.76 L380.36,747.36 L381.77,749.00 L383.11,750.66 L384.37,752.35 L385.55,754.06 L386.66,755.78 L387.67,757.51 L388.60,759.25 L389.44,760.99 L390.18,762.72 L390.83,764.45 L391.38,766.16 L391.84,767.85 L392.19,769.52 L392.45,771.16 L392.60,772.77 L392.65,774.34Z" fill="none" stroke="#737373" stroke-width="1.3"/>
<circle cx="329.2" cy="722.4" r="3.4" fill="#f6f600" fill-opacity="0.75" stroke="#f6f600" stroke-opacity="0.75" stroke-width="1.2"/>
<circle cx="339.1" cy="717.4" r="3.4" fill="#8e9826" fill-opacity="0.75" stroke="#8e9826" stroke-opacity="0.75" stroke-width="1.2"/>
<circle cx="349.1" cy="716.2" r="3.4" fill="#f6f600" fill-opacity="0.75" stroke="#f6f600" stroke-opacity="0.75" stroke-width="1.2"/>
<circle cx="320.7" cy="737.4" r="3.4" fill="#f6f600" fill-opacity="0.75" stroke="#f6f600" stroke-opacity="0.75" stroke-width="1.2"/>
<circle cx="345.4" cy="739.4" r="3.4" fill="#8e9826" fill-opacity="0.75" stroke="#8e9826" stroke-opacity="0.75" stroke-width="1.2"/>
<circle cx="359.9" cy="739.4" r="3.4" fill="#8e9826" fill-opacity="0.75" stroke="#8e9826" stroke-opacity="0.75" stroke-width="1.2"/>
<circle cx="389.1" cy="745.4" r="3.4" fill="#8e9826" fill-opacity="0.75" stroke="#8e9826" stroke-opacity="0.75" stroke-width="1.2"/>
<circle cx="384.1" cy="756.1" r="3.4" fill="#8e9826" fill-opacity="0.75" stroke="#8e9826" stroke-opacity="0.75" stroke-width="1.2"/>
<circle cx="338.6" cy="758.6" r="3.4" fill="#111111" fill-opacity="0.75" stroke="#111111" stroke-opacity="0.75" stroke-width="1.2"/>
<circle cx="314.9" cy="762.4" r="3.4" fill="#8e9826" fill-opacity="0.75" stroke="#8e9826" stroke-opacity="0.75" stroke-width="1.2"/>
<circle cx="336.2" cy="769.9" r="3.4" fill="#8e9826" fill-opacity="0.75" stroke="#8e9826" stroke-opacity="0.75" stroke-width="1.2"/>
<circle cx="350.4" cy="768.6" r="3.4" fill="#8e9826" fill-opacity="0.75" stroke="#8e9826" stroke-opacity="0.75" stroke-width="1.2"/>
<circle cx="357.4" cy="771.9" r="3.4" fill="#8e9826" fill-opacity="0.75" stroke="#8e9826" stroke-opacity="0.75" stroke-width="1.2"/>
<circle cx="366.1" cy="766.9" r="3.4" fill="#8e9826" fill-opacity="0.75" stroke="#8e9826" stroke-opacity="0.75" stroke-width="1.2"/>
<circle cx="341.6" cy="775.4" r="3.4" fill="#8e9826" fill-opacity="0.75" stroke="#8e9826" stroke-opacity="0.75" stroke-width="1.2"/>
<circle cx="335.4" cy="777.4" r="3.4" fill="#0c730c" fill-opacity="0.75" stroke="#0c730c" stroke-opacity="0.75" stroke-width="1.2"/>
<circle cx="356.9" cy="777.9" r="3.4" fill="#111111" fill-opacity="0.75" stroke="#111111" stroke-opacity="0.75" stroke-width="1.2"/>
<circle cx="377.8" cy="778.6" r="3.4" fill="#111111" fill-opacity="0.75" stroke="#111111" stroke-opacity="0.75" stroke-width="1.2"/>
<circle cx="391.1" cy="775.4" r="3.4" fill="#111111" fill-opacity="0.75" stroke="#111111" stroke-opacity="0.75" stroke-width="1.2"/>
<circle cx="392.3" cy="783.1" r="3.4" fill="#804816" fill-opacity="0.75" stroke="#804816" stroke-opacity="0.75" stroke-width="1.2"/>
<circle cx="404.0" cy="783.1" r="3.4" fill="#8e9826" fill-opacity="0.75" stroke="#8e9826" stroke-opacity="0.75" stroke-width="1.2"/>
<circle cx="344.9" cy="785.3" r="3.4" fill="#0c730c" fill-opacity="0.75" stroke="#0c730c" stroke-opacity="0.75" stroke-width="1.2"/>
</g>
<text x="339.5" y="754.8" font-size="10.2" fill="#0a0a0a" font-weight="bold" textLength="27.0" lengthAdjust="spacingAndGlyphs" stroke="#0a0a0a" stroke-width="0.25">2007</text>
<text x="360.7" y="773.6" font-size="10.2" fill="#0a0a0a" font-weight="bold" textLength="27.0" lengthAdjust="spacingAndGlyphs" stroke="#0a0a0a" stroke-width="0.25">2021</text>
<text x="391.4" y="771.1" font-size="10.2" fill="#0a0a0a" font-weight="bold" textLength="27.5" lengthAdjust="spacingAndGlyphs" stroke="#0a0a0a" stroke-width="0.25">2012</text>
<text x="348.2" y="789.8" font-size="10.2" fill="#0a0a0a" font-weight="bold" textLength="27.0" lengthAdjust="spacingAndGlyphs" stroke="#0a0a0a" stroke-width="0.25">2017</text>
<text x="398.2" y="797.3" font-size="10.2" fill="#8f9a3a" font-weight="bold" textLength="27.5" lengthAdjust="spacingAndGlyphs" stroke="#8f9a3a" stroke-width="0.25">2022</text>
<rect x="281.2" y="693.0" width="148.60" height="138.00" fill="none" stroke="#2c2c2c" stroke-width="1.4"/>
<line x1="317.4" y1="831.0" x2="317.4" y2="836.0" stroke="#1e1e1e" stroke-width="1.1"/>
<text x="317.4" y="850.4" font-size="12" fill="#262626" text-anchor="middle" textLength="24.5" lengthAdjust="spacingAndGlyphs" stroke="#262626" stroke-width="0.22">23.0</text>
<line x1="349.4" y1="831.0" x2="349.4" y2="836.0" stroke="#1e1e1e" stroke-width="1.1"/>
<text x="349.4" y="850.4" font-size="12" fill="#262626" text-anchor="middle" textLength="24.5" lengthAdjust="spacingAndGlyphs" stroke="#262626" stroke-width="0.22">23.5</text>
<line x1="381.5" y1="831.0" x2="381.5" y2="836.0" stroke="#1e1e1e" stroke-width="1.1"/>
<text x="381.5" y="850.4" font-size="12" fill="#262626" text-anchor="middle" textLength="24.5" lengthAdjust="spacingAndGlyphs" stroke="#262626" stroke-width="0.22">24.0</text>
<line x1="413.5" y1="831.0" x2="413.5" y2="836.0" stroke="#1e1e1e" stroke-width="1.1"/>
<text x="413.5" y="850.4" font-size="12" fill="#262626" text-anchor="middle" textLength="24.5" lengthAdjust="spacingAndGlyphs" stroke="#262626" stroke-width="0.22">24.5</text>
<text x="355.5" y="876.7" font-size="11.2" fill="#262626" text-anchor="middle" textLength="46.8" lengthAdjust="spacingAndGlyphs" stroke="#262626" stroke-width="0.22">SST (°C)</text>
<clipPath id="c43"><rect x="526.5" y="693.0" width="148.50" height="138.00"/></clipPath>
<g clip-path="url(#c43)">
<line x1="600.8" y1="693.0" x2="600.8" y2="831.0" stroke="#959595" stroke-width="0.8" stroke-dasharray="2.8,1.8"/>
<line x1="526.5" y1="762.0" x2="675.0" y2="762.0" stroke="#959595" stroke-width="0.8" stroke-dasharray="2.8,1.8"/>
<path d="M661.63,716.74 L661.55,718.57 L661.30,720.53 L660.89,722.60 L660.30,724.78 L659.56,727.06 L658.66,729.44 L657.59,731.91 L656.37,734.46 L655.00,737.08 L653.48,739.77 L651.81,742.53 L650.01,745.33 L648.07,748.19 L646.00,751.08 L643.80,754.00 L641.49,756.94 L639.07,759.90 L636.54,762.86 L633.91,765.82 L631.19,768.77 L628.39,771.70 L625.51,774.60 L622.57,777.47 L619.56,780.30 L616.51,783.08 L613.41,785.80 L610.27,788.45 L607.11,791.03 L603.94,793.53 L600.75,795.95 L597.56,798.27 L594.39,800.49 L591.23,802.61 L588.09,804.62 L584.99,806.51 L581.94,808.27 L578.93,809.91 L575.99,811.42 L573.11,812.80 L570.31,814.03 L567.59,815.12 L564.96,816.07 L562.43,816.87 L560.01,817.52 L557.70,818.01 L555.50,818.35 L553.43,818.54 L551.49,818.57 L549.69,818.45 L548.02,818.17 L546.50,817.74 L545.13,817.16 L543.91,816.42 L542.84,815.54 L541.94,814.51 L541.20,813.33 L540.61,812.02 L540.20,810.56 L539.95,808.98 L539.87,807.26 L539.95,805.43 L540.20,803.47 L540.61,801.40 L541.20,799.22 L541.94,796.94 L542.84,794.56 L543.91,792.09 L545.13,789.54 L546.50,786.92 L548.02,784.23 L549.69,781.47 L551.49,778.67 L553.43,775.81 L555.50,772.92 L557.70,770.00 L560.01,767.06 L562.43,764.10 L564.96,761.14 L567.59,758.18 L570.31,755.23 L573.11,752.30 L575.99,749.40 L578.93,746.53 L581.94,743.70 L584.99,740.92 L588.09,738.20 L591.23,735.55 L594.39,732.97 L597.56,730.47 L600.75,728.05 L603.94,725.73 L607.11,723.51 L610.27,721.39 L613.41,719.38 L616.51,717.49 L619.56,715.73 L622.57,714.09 L625.51,712.58 L628.39,711.20 L631.19,709.97 L633.91,708.88 L636.54,707.93 L639.07,707.13 L641.49,706.48 L643.80,705.99 L646.00,705.65 L648.07,705.46 L650.01,705.43 L651.81,705.55 L653.48,705.83 L655.00,706.26 L656.37,706.84 L657.59,707.58 L658.66,708.46 L659.56,709.49 L660.30,710.67 L660.89,711.98 L661.30,713.44 L661.55,715.02 L661.63,716.74Z" fill="none" stroke="#b8b8b8" stroke-width="1.45" stroke-dasharray="5.3,2.8"/>
<path d="M623.40,744.11 L623.37,744.72 L623.27,745.37 L623.12,746.07 L622.90,746.81 L622.62,747.59 L622.29,748.41 L621.89,749.27 L621.44,750.17 L620.93,751.09 L620.36,752.05 L619.74,753.04 L619.07,754.04 L618.35,755.07 L617.58,756.12 L616.76,757.19 L615.90,758.27 L615.00,759.36 L614.06,760.45 L613.08,761.55 L612.07,762.66 L611.03,763.76 L609.96,764.85 L608.87,765.94 L607.75,767.02 L606.61,768.08 L605.46,769.12 L604.29,770.15 L603.12,771.16 L601.94,772.13 L600.75,773.09 L599.56,774.01 L598.38,774.90 L597.21,775.75 L596.04,776.56 L594.89,777.34 L593.75,778.07 L592.63,778.76 L591.54,779.40 L590.47,780.00 L589.43,780.55 L588.42,781.04 L587.44,781.48 L586.50,781.87 L585.60,782.21 L584.74,782.49 L583.92,782.71 L583.15,782.88 L582.43,782.99 L581.76,783.04 L581.14,783.03 L580.57,782.97 L580.06,782.85 L579.61,782.67 L579.21,782.44 L578.88,782.15 L578.60,781.80 L578.38,781.40 L578.23,780.95 L578.13,780.44 L578.10,779.89 L578.13,779.28 L578.23,778.63 L578.38,777.93 L578.60,777.19 L578.88,776.41 L579.21,775.59 L579.61,774.73 L580.06,773.83 L580.57,772.91 L581.14,771.95 L581.76,770.96 L582.43,769.96 L583.15,768.93 L583.92,767.88 L584.74,766.81 L585.60,765.73 L586.50,764.64 L587.44,763.55 L588.42,762.45 L589.43,761.34 L590.47,760.24 L591.54,759.15 L592.63,758.06 L593.75,756.98 L594.89,755.92 L596.04,754.88 L597.21,753.85 L598.38,752.84 L599.56,751.87 L600.75,750.91 L601.94,749.99 L603.12,749.10 L604.29,748.25 L605.46,747.44 L606.61,746.66 L607.75,745.93 L608.87,745.24 L609.96,744.60 L611.03,744.00 L612.07,743.45 L613.08,742.96 L614.06,742.52 L615.00,742.13 L615.90,741.79 L616.76,741.51 L617.58,741.29 L618.35,741.12 L619.07,741.01 L619.74,740.96 L620.36,740.97 L620.93,741.03 L621.44,741.15 L621.89,741.33 L622.29,741.56 L622.62,741.85 L622.90,742.20 L623.12,742.60 L623.27,743.05 L623.37,743.56 L623.40,744.11Z" fill="none" stroke="#737373" stroke-width="1.3"/>
<path d="M637.88,732.67 L637.82,733.67 L637.67,734.74 L637.42,735.88 L637.06,737.09 L636.61,738.38 L636.06,739.73 L635.41,741.14 L634.67,742.60 L633.83,744.12 L632.90,745.69 L631.89,747.30 L630.78,748.96 L629.60,750.65 L628.34,752.37 L627.00,754.12 L625.59,755.88 L624.11,757.67 L622.57,759.47 L620.97,761.27 L619.31,763.08 L617.60,764.88 L615.85,766.68 L614.05,768.46 L612.22,770.22 L610.36,771.96 L608.47,773.68 L606.56,775.36 L604.63,777.01 L602.69,778.61 L600.75,780.17 L598.81,781.68 L596.87,783.14 L594.94,784.54 L593.03,785.87 L591.14,787.14 L589.28,788.35 L587.45,789.48 L585.65,790.53 L583.90,791.51 L582.19,792.40 L580.53,793.21 L578.93,793.94 L577.39,794.58 L575.91,795.13 L574.50,795.59 L573.16,795.95 L571.90,796.23 L570.72,796.41 L569.61,796.49 L568.60,796.48 L567.67,796.38 L566.83,796.18 L566.09,795.89 L565.44,795.51 L564.89,795.03 L564.44,794.46 L564.08,793.81 L563.83,793.06 L563.68,792.24 L563.62,791.33 L563.68,790.33 L563.83,789.26 L564.08,788.12 L564.44,786.91 L564.89,785.62 L565.44,784.27 L566.09,782.86 L566.83,781.40 L567.67,779.88 L568.60,778.31 L569.61,776.70 L570.72,775.04 L571.90,773.35 L573.16,771.63 L574.50,769.88 L575.91,768.12 L577.39,766.33 L578.93,764.53 L580.53,762.73 L582.19,760.92 L583.90,759.12 L585.65,757.32 L587.45,755.54 L589.28,753.78 L591.14,752.04 L593.03,750.32 L594.94,748.64 L596.87,746.99 L598.81,745.39 L600.75,743.83 L602.69,742.32 L604.63,740.86 L606.56,739.46 L608.47,738.13 L610.36,736.86 L612.22,735.65 L614.05,734.52 L615.85,733.47 L617.60,732.49 L619.31,731.60 L620.97,730.79 L622.57,730.06 L624.11,729.42 L625.59,728.87 L627.00,728.41 L628.34,728.05 L629.60,727.77 L630.78,727.59 L631.89,727.51 L632.90,727.52 L633.83,727.62 L634.67,727.82 L635.41,728.11 L636.06,728.49 L636.61,728.97 L637.06,729.54 L637.42,730.19 L637.67,730.94 L637.82,731.76 L637.88,732.67Z" fill="none" stroke="#737373" stroke-width="1.3"/>
<circle cx="645.1" cy="716.9" r="3.4" fill="#8e9826" fill-opacity="0.75" stroke="#8e9826" stroke-opacity="0.75" stroke-width="1.2"/>
<circle cx="623.8" cy="727.9" r="3.4" fill="#804816" fill-opacity="0.75" stroke="#804816" stroke-opacity="0.75" stroke-width="1.2"/>
<circle cx="624.3" cy="731.2" r="3.4" fill="#8e9826" fill-opacity="0.75" stroke="#8e9826" stroke-opacity="0.75" stroke-width="1.2"/>
<circle cx="651.3" cy="729.2" r="3.4" fill="#111111" fill-opacity="0.75" stroke="#111111" stroke-opacity="0.75" stroke-width="1.2"/>
<circle cx="612.6" cy="736.2" r="3.4" fill="#8e9826" fill-opacity="0.75" stroke="#8e9826" stroke-opacity="0.75" stroke-width="1.2"/>
<circle cx="605.9" cy="741.2" r="3.4" fill="#111111" fill-opacity="0.75" stroke="#111111" stroke-opacity="0.75" stroke-width="1.2"/>
<circle cx="623.1" cy="751.9" r="3.4" fill="#8e9826" fill-opacity="0.75" stroke="#8e9826" stroke-opacity="0.75" stroke-width="1.2"/>
<circle cx="622.6" cy="760.4" r="3.4" fill="#111111" fill-opacity="0.75" stroke="#111111" stroke-opacity="0.75" stroke-width="1.2"/>
<circle cx="604.4" cy="757.9" r="3.4" fill="#8e9826" fill-opacity="0.75" stroke="#8e9826" stroke-opacity="0.75" stroke-width="1.2"/>
<circle cx="603.9" cy="760.4" r="3.4" fill="#8e9826" fill-opacity="0.75" stroke="#8e9826" stroke-opacity="0.75" stroke-width="1.2"/>
<circle cx="598.9" cy="766.9" r="3.4" fill="#8e9826" fill-opacity="0.75" stroke="#8e9826" stroke-opacity="0.75" stroke-width="1.2"/>
<circle cx="569.4" cy="768.1" r="3.4" fill="#f6f600" fill-opacity="0.75" stroke="#f6f600" stroke-opacity="0.75" stroke-width="1.2"/>
<circle cx="604.6" cy="771.6" r="3.4" fill="#0c730c" fill-opacity="0.75" stroke="#0c730c" stroke-opacity="0.75" stroke-width="1.2"/>
<circle cx="583.1" cy="771.6" r="3.4" fill="#8e9826" fill-opacity="0.75" stroke="#8e9826" stroke-opacity="0.75" stroke-width="1.2"/>
<circle cx="563.9" cy="777.4" r="3.4" fill="#8e9826" fill-opacity="0.75" stroke="#8e9826" stroke-opacity="0.75" stroke-width="1.2"/>
<circle cx="595.6" cy="774.9" r="3.4" fill="#8e9826" fill-opacity="0.75" stroke="#8e9826" stroke-opacity="0.75" stroke-width="1.2"/>
<circle cx="603.4" cy="777.4" r="3.4" fill="#111111" fill-opacity="0.75" stroke="#111111" stroke-opacity="0.75" stroke-width="1.2"/>
<circle cx="587.1" cy="780.4" r="3.4" fill="#8e9826" fill-opacity="0.75" stroke="#8e9826" stroke-opacity="0.75" stroke-width="1.2"/>
<circle cx="593.9" cy="780.6" r="3.4" fill="#0c730c" fill-opacity="0.75" stroke="#0c730c" stroke-opacity="0.75" stroke-width="1.2"/>
<circle cx="573.2" cy="786.8" r="3.4" fill="#f6f600" fill-opacity="0.75" stroke="#f6f600" stroke-opacity="0.75" stroke-width="1.2"/>
<circle cx="561.9" cy="794.3" r="3.4" fill="#f6f600" fill-opacity="0.75" stroke="#f6f600" stroke-opacity="0.75" stroke-width="1.2"/>
<circle cx="568.9" cy="799.8" r="3.4" fill="#8e9826" fill-opacity="0.75" stroke="#8e9826" stroke-opacity="0.75" stroke-width="1.2"/>
</g>
<text x="644.7" y="712.9" font-size="10.2" fill="#8f9a3a" font-weight="bold" textLength="27.7" lengthAdjust="spacingAndGlyphs" stroke="#8f9a3a" stroke-width="0.25">2022</text>
<text x="575.3" y="741.9" font-size="10.2" fill="#0a0a0a" font-weight="bold" textLength="27.0" lengthAdjust="spacingAndGlyphs" stroke="#0a0a0a" stroke-width="0.25">2021</text>
<text x="646.6" y="742.9" font-size="10.2" fill="#0a0a0a" font-weight="bold" textLength="27.6" lengthAdjust="spacingAndGlyphs" stroke="#0a0a0a" stroke-width="0.25">2012</text>
<text x="626.4" y="769.3" font-size="10.2" fill="#0a0a0a" font-weight="bold" textLength="27.0" lengthAdjust="spacingAndGlyphs" stroke="#0a0a0a" stroke-width="0.25">2017</text>
<text x="603.5" y="789.8" font-size="10.2" fill="#0a0a0a" font-weight="bold" textLength="27.0" lengthAdjust="spacingAndGlyphs" stroke="#0a0a0a" stroke-width="0.25">2007</text>
<rect x="526.5" y="693.0" width="148.50" height="138.00" fill="none" stroke="#2c2c2c" stroke-width="1.4"/>
<line x1="560.2" y1="831.0" x2="560.2" y2="836.0" stroke="#1e1e1e" stroke-width="1.1"/>
<text x="560.2" y="850.4" font-size="12" fill="#262626" text-anchor="middle" textLength="14.0" lengthAdjust="spacingAndGlyphs" stroke="#262626" stroke-width="0.22">22</text>
<line x1="593.9" y1="831.0" x2="593.9" y2="836.0" stroke="#1e1e1e" stroke-width="1.1"/>
<text x="593.9" y="850.4" font-size="12" fill="#262626" text-anchor="middle" textLength="14.0" lengthAdjust="spacingAndGlyphs" stroke="#262626" stroke-width="0.22">23</text>
<line x1="627.6" y1="831.0" x2="627.6" y2="836.0" stroke="#1e1e1e" stroke-width="1.1"/>
<text x="627.6" y="850.4" font-size="12" fill="#262626" text-anchor="middle" textLength="14.0" lengthAdjust="spacingAndGlyphs" stroke="#262626" stroke-width="0.22">24</text>
<line x1="661.3" y1="831.0" x2="661.3" y2="836.0" stroke="#1e1e1e" stroke-width="1.1"/>
<text x="661.3" y="850.4" font-size="12" fill="#262626" text-anchor="middle" textLength="14.0" lengthAdjust="spacingAndGlyphs" stroke="#262626" stroke-width="0.22">25</text>
<line x1="521.5" y1="709.3" x2="526.5" y2="709.3" stroke="#1e1e1e" stroke-width="1.1"/>
<text x="515.7" y="714.5" font-size="12" fill="#262626" text-anchor="end" textLength="24.5" lengthAdjust="spacingAndGlyphs" stroke="#262626" stroke-width="0.22">24.5</text>
<line x1="521.5" y1="738.6" x2="526.5" y2="738.6" stroke="#1e1e1e" stroke-width="1.1"/>
<text x="515.7" y="743.8" font-size="12" fill="#262626" text-anchor="end" textLength="24.5" lengthAdjust="spacingAndGlyphs" stroke="#262626" stroke-width="0.22">24.0</text>
<line x1="521.5" y1="767.8" x2="526.5" y2="767.8" stroke="#1e1e1e" stroke-width="1.1"/>
<text x="515.7" y="773.0" font-size="12" fill="#262626" text-anchor="end" textLength="24.5" lengthAdjust="spacingAndGlyphs" stroke="#262626" stroke-width="0.22">23.5</text>
<line x1="521.5" y1="796.8" x2="526.5" y2="796.8" stroke="#1e1e1e" stroke-width="1.1"/>
<text x="515.7" y="802.0" font-size="12" fill="#262626" text-anchor="end" textLength="24.5" lengthAdjust="spacingAndGlyphs" stroke="#262626" stroke-width="0.22">23.0</text>
<text x="600.8" y="876.7" font-size="11.2" fill="#262626" text-anchor="middle" textLength="49.3" lengthAdjust="spacingAndGlyphs" stroke="#262626" stroke-width="0.22">T2M (°C)</text>
<text x="0" y="0" font-size="11.2" fill="#262626" text-anchor="middle" textLength="46.8" lengthAdjust="spacingAndGlyphs" transform="translate(472.9,762.4) rotate(-90)" stroke="#262626" stroke-width="0.22">SST (°C)</text>
<polygon points="188.6,260.5 207.8,256.2 207.8,264.9" fill="#f5f500"/>
<rect x="207.8" y="256.2" width="121.7" height="8.7" fill="#8b8b16"/>
<rect x="329.5" y="256.2" width="121.1" height="8.7" fill="#167a16"/>
<rect x="450.6" y="256.2" width="121.4" height="8.7" fill="#7d4a14"/>
<polygon points="572.0,256.2 590.4,260.5 572.0,264.9" fill="#000"/>
<polygon points="188.6,260.5 207.8,256.2 572.0,256.2 590.4,260.5 572.0,264.9 207.8,264.9" fill="none" stroke="#111" stroke-width="1.0"/>
<line x1="207.8" y1="264.9" x2="207.8" y2="269.5" stroke="#1e1e1e" stroke-width="1.1"/>
<text x="207.8" y="284.6" font-size="12" fill="#262626" text-anchor="middle" textLength="7.0" lengthAdjust="spacingAndGlyphs" stroke="#262626" stroke-width="0.22">2</text>
<line x1="329.5" y1="264.9" x2="329.5" y2="269.5" stroke="#1e1e1e" stroke-width="1.1"/>
<text x="329.5" y="284.6" font-size="12" fill="#262626" text-anchor="middle" textLength="17.5" lengthAdjust="spacingAndGlyphs" stroke="#262626" stroke-width="0.22">3.5</text>
<line x1="450.6" y1="264.9" x2="450.6" y2="269.5" stroke="#1e1e1e" stroke-width="1.1"/>
<text x="450.6" y="284.6" font-size="12" fill="#262626" text-anchor="middle" textLength="7.0" lengthAdjust="spacingAndGlyphs" stroke="#262626" stroke-width="0.22">5</text>
<line x1="572.0" y1="264.9" x2="572.0" y2="269.5" stroke="#1e1e1e" stroke-width="1.1"/>
<text x="572.0" y="284.6" font-size="12" fill="#262626" text-anchor="middle" textLength="17.5" lengthAdjust="spacingAndGlyphs" stroke="#262626" stroke-width="0.22">6.5</text>
<text x="389.9" y="303.5" font-size="11.5" fill="#262626" text-anchor="middle" textLength="129.5" lengthAdjust="spacingAndGlyphs" stroke="#262626" stroke-width="0.22">Total burned area (ha)</text>
<text x="585.9" y="273.0" font-size="11.5" fill="#262626" textLength="28.2" lengthAdjust="spacingAndGlyphs" stroke="#262626" stroke-width="0.22">(×10</text>
<text x="614.9" y="268.4" font-size="8.2" fill="#262626" textLength="5.0" lengthAdjust="spacingAndGlyphs" stroke="#262626" stroke-width="0.22">5</text>
<text x="621.0" y="273.0" font-size="11.5" fill="#262626" textLength="4.2" lengthAdjust="spacingAndGlyphs" stroke="#262626" stroke-width="0.22">)</text>
<polygon points="187.2,903.2 206.4,898.8 206.4,907.6" fill="#f5f500"/>
<rect x="206.4" y="898.8" width="121.4" height="8.8" fill="#8b8b16"/>
<rect x="327.8" y="898.8" width="122.0" height="8.8" fill="#167a16"/>
<rect x="449.8" y="898.8" width="122.2" height="8.8" fill="#7d4a14"/>
<polygon points="572.0,898.8 590.4,903.2 572.0,907.6" fill="#000"/>
<polygon points="187.2,903.2 206.4,898.8 572.0,898.8 590.4,903.2 572.0,907.6 206.4,907.6" fill="none" stroke="#111" stroke-width="1.0"/>
<line x1="206.4" y1="907.6" x2="206.4" y2="912.2" stroke="#1e1e1e" stroke-width="1.1"/>
<text x="206.4" y="927.1" font-size="12" fill="#262626" text-anchor="middle" textLength="24.5" lengthAdjust="spacingAndGlyphs" stroke="#262626" stroke-width="0.22">0.25</text>
<line x1="327.8" y1="907.6" x2="327.8" y2="912.2" stroke="#1e1e1e" stroke-width="1.1"/>
<text x="327.8" y="927.1" font-size="12" fill="#262626" text-anchor="middle" textLength="24.5" lengthAdjust="spacingAndGlyphs" stroke="#262626" stroke-width="0.22">0.75</text>
<line x1="449.8" y1="907.6" x2="449.8" y2="912.2" stroke="#1e1e1e" stroke-width="1.1"/>
<text x="449.8" y="927.1" font-size="12" fill="#262626" text-anchor="middle" textLength="24.5" lengthAdjust="spacingAndGlyphs" stroke="#262626" stroke-width="0.22">1.25</text>
<line x1="572.0" y1="907.6" x2="572.0" y2="912.2" stroke="#1e1e1e" stroke-width="1.1"/>
<text x="572.0" y="927.1" font-size="12" fill="#262626" text-anchor="middle" textLength="24.5" lengthAdjust="spacingAndGlyphs" stroke="#262626" stroke-width="0.22">1.75</text>
<text x="388.7" y="946.2" font-size="11.5" fill="#262626" text-anchor="middle" textLength="131.0" lengthAdjust="spacingAndGlyphs" stroke="#262626" stroke-width="0.22">Total burned area (ha)</text>
<text x="585.9" y="915.5" font-size="11.5" fill="#262626" textLength="28.2" lengthAdjust="spacingAndGlyphs" stroke="#262626" stroke-width="0.22">(×10</text>
<text x="614.9" y="910.9" font-size="8.2" fill="#262626" textLength="5.0" lengthAdjust="spacingAndGlyphs" stroke="#262626" stroke-width="0.22">5</text>
<text x="621.0" y="915.5" font-size="11.5" fill="#262626" textLength="4.2" lengthAdjust="spacingAndGlyphs" stroke="#262626" stroke-width="0.22">)</text>
</svg>
</body></html>
